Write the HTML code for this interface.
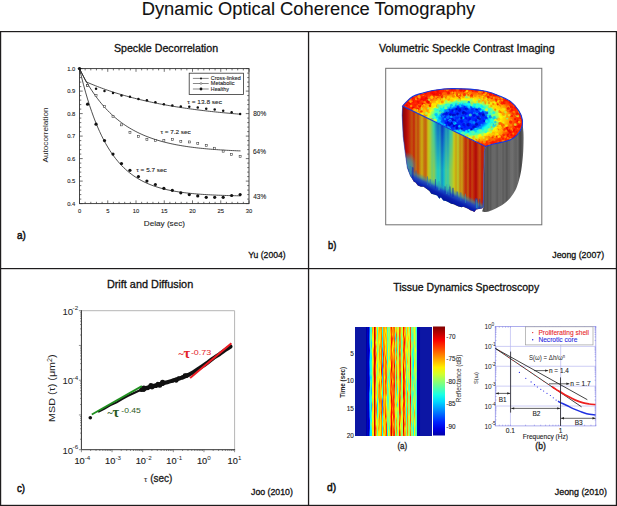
<!DOCTYPE html>
<html><head><meta charset="utf-8"><style>
html,body{margin:0;padding:0;background:#fff;}
svg{display:block;}
text{font-family:"Liberation Sans", sans-serif;}
</style></head><body>
<svg width="617" height="506" viewBox="0 0 617 506">
<rect width="617" height="506" fill="#fff"/>
<rect x="0" y="31" width="617" height="1.2" fill="#1e1c1d"/>
<rect x="0" y="504.8" width="617" height="1.2" fill="#1e1c1d"/>
<rect x="0" y="31" width="1.2" height="475" fill="#1e1c1d"/>
<rect x="615.8" y="31" width="1.2" height="475" fill="#1e1c1d"/>
<rect x="307.9" y="31" width="1.3" height="475" fill="#1e1c1d"/>
<rect x="0" y="268" width="617" height="1.2" fill="#1e1c1d"/>
<text x="141.7" y="14.6" font-size="17.6" text-anchor="start" fill="#111" font-weight="normal" stroke="#111" stroke-width="0.1" textLength="333.6" lengthAdjust="spacingAndGlyphs" >Dynamic Optical Coherence Tomography</text>
<text x="113.9" y="52.2" font-size="11" text-anchor="start" fill="#111" font-weight="normal" stroke="#111" stroke-width="0.3" textLength="104.2" lengthAdjust="spacingAndGlyphs" >Speckle Decorrelation</text>
<text x="378.9" y="51.8" font-size="11" text-anchor="start" fill="#111" font-weight="normal" stroke="#111" stroke-width="0.3" textLength="175.8" lengthAdjust="spacingAndGlyphs" >Volumetric Speckle Contrast Imaging</text>
<text x="106.9" y="288" font-size="11" text-anchor="start" fill="#111" font-weight="normal" stroke="#111" stroke-width="0.3" textLength="86.3" lengthAdjust="spacingAndGlyphs" >Drift and Diffusion</text>
<text x="393.2" y="290.6" font-size="11" text-anchor="start" fill="#111" font-weight="normal" stroke="#111" stroke-width="0.3" textLength="146" lengthAdjust="spacingAndGlyphs" >Tissue Dynamics Spectroscopy</text>
<text x="17" y="239.3" font-size="11" text-anchor="start" fill="#111" font-weight="normal" stroke="#111" stroke-width="0.5" textLength="8.8" lengthAdjust="spacingAndGlyphs" >a)</text>
<text x="328" y="248.9" font-size="11" text-anchor="start" fill="#111" font-weight="normal" stroke="#111" stroke-width="0.5" textLength="8.3" lengthAdjust="spacingAndGlyphs" >b)</text>
<text x="17" y="491.6" font-size="11" text-anchor="start" fill="#111" font-weight="normal" stroke="#111" stroke-width="0.5" textLength="8.1" lengthAdjust="spacingAndGlyphs" >c)</text>
<text x="327.1" y="491.2" font-size="11" text-anchor="start" fill="#111" font-weight="normal" stroke="#111" stroke-width="0.5" textLength="9.1" lengthAdjust="spacingAndGlyphs" >d)</text>
<text x="248.3" y="257.7" font-size="9" text-anchor="start" fill="#111" font-weight="normal" stroke="#111" stroke-width="0.3" textLength="37.3" lengthAdjust="spacingAndGlyphs" >Yu (2004)</text>
<text x="552.3" y="257.5" font-size="9" text-anchor="start" fill="#111" font-weight="normal" stroke="#111" stroke-width="0.3" textLength="51.8" lengthAdjust="spacingAndGlyphs" >Jeong (2007)</text>
<text x="251" y="494.5" font-size="9" text-anchor="start" fill="#111" font-weight="normal" stroke="#111" stroke-width="0.3" textLength="41.9" lengthAdjust="spacingAndGlyphs" >Joo (2010)</text>
<text x="554.8" y="494.5" font-size="9" text-anchor="start" fill="#111" font-weight="normal" stroke="#111" stroke-width="0.3" textLength="52.2" lengthAdjust="spacingAndGlyphs" >Jeong (2010)</text>
<rect x="79.5" y="68.6" width="169.5" height="135.0" fill="none" stroke="#333" stroke-width="0.9"/>
<path d="M79.50,203.6v-3.2M79.50,68.6v3.2M85.15,203.6v-1.8M85.15,68.6v1.8M90.80,203.6v-1.8M90.80,68.6v1.8M96.45,203.6v-1.8M96.45,68.6v1.8M102.10,203.6v-1.8M102.10,68.6v1.8M107.75,203.6v-3.2M107.75,68.6v3.2M113.40,203.6v-1.8M113.40,68.6v1.8M119.05,203.6v-1.8M119.05,68.6v1.8M124.70,203.6v-1.8M124.70,68.6v1.8M130.35,203.6v-1.8M130.35,68.6v1.8M136.00,203.6v-3.2M136.00,68.6v3.2M141.65,203.6v-1.8M141.65,68.6v1.8M147.30,203.6v-1.8M147.30,68.6v1.8M152.95,203.6v-1.8M152.95,68.6v1.8M158.60,203.6v-1.8M158.60,68.6v1.8M164.25,203.6v-3.2M164.25,68.6v3.2M169.90,203.6v-1.8M169.90,68.6v1.8M175.55,203.6v-1.8M175.55,68.6v1.8M181.20,203.6v-1.8M181.20,68.6v1.8M186.85,203.6v-1.8M186.85,68.6v1.8M192.50,203.6v-3.2M192.50,68.6v3.2M198.15,203.6v-1.8M198.15,68.6v1.8M203.80,203.6v-1.8M203.80,68.6v1.8M209.45,203.6v-1.8M209.45,68.6v1.8M215.10,203.6v-1.8M215.10,68.6v1.8M220.75,203.6v-3.2M220.75,68.6v3.2M226.40,203.6v-1.8M226.40,68.6v1.8M232.05,203.6v-1.8M232.05,68.6v1.8M237.70,203.6v-1.8M237.70,68.6v1.8M243.35,203.6v-1.8M243.35,68.6v1.8M249.00,203.6v-3.2M249.00,68.6v3.2M79.5,203.60h3.2M249.0,203.60h-3.2M79.5,199.10h1.8M249.0,199.10h-1.8M79.5,194.60h1.8M249.0,194.60h-1.8M79.5,190.10h1.8M249.0,190.10h-1.8M79.5,185.60h1.8M249.0,185.60h-1.8M79.5,181.10h3.2M249.0,181.10h-3.2M79.5,176.60h1.8M249.0,176.60h-1.8M79.5,172.10h1.8M249.0,172.10h-1.8M79.5,167.60h1.8M249.0,167.60h-1.8M79.5,163.10h1.8M249.0,163.10h-1.8M79.5,158.60h3.2M249.0,158.60h-3.2M79.5,154.10h1.8M249.0,154.10h-1.8M79.5,149.60h1.8M249.0,149.60h-1.8M79.5,145.10h1.8M249.0,145.10h-1.8M79.5,140.60h1.8M249.0,140.60h-1.8M79.5,136.10h3.2M249.0,136.10h-3.2M79.5,131.60h1.8M249.0,131.60h-1.8M79.5,127.10h1.8M249.0,127.10h-1.8M79.5,122.60h1.8M249.0,122.60h-1.8M79.5,118.10h1.8M249.0,118.10h-1.8M79.5,113.60h3.2M249.0,113.60h-3.2M79.5,109.10h1.8M249.0,109.10h-1.8M79.5,104.60h1.8M249.0,104.60h-1.8M79.5,100.10h1.8M249.0,100.10h-1.8M79.5,95.60h1.8M249.0,95.60h-1.8M79.5,91.10h3.2M249.0,91.10h-3.2M79.5,86.60h1.8M249.0,86.60h-1.8M79.5,82.10h1.8M249.0,82.10h-1.8M79.5,77.60h1.8M249.0,77.60h-1.8M79.5,73.10h1.8M249.0,73.10h-1.8M79.5,68.60h3.2M249.0,68.60h-3.2" stroke="#333" stroke-width="0.7" fill="none"/>
<text x="75.2" y="205.7" font-size="5.8" text-anchor="end" fill="#222" font-weight="normal" stroke="#222" stroke-width="0.1" >0.4</text>
<text x="75.2" y="183.2" font-size="5.8" text-anchor="end" fill="#222" font-weight="normal" stroke="#222" stroke-width="0.1" >0.5</text>
<text x="75.2" y="160.69999999999996" font-size="5.8" text-anchor="end" fill="#222" font-weight="normal" stroke="#222" stroke-width="0.1" >0.6</text>
<text x="75.2" y="138.19999999999996" font-size="5.8" text-anchor="end" fill="#222" font-weight="normal" stroke="#222" stroke-width="0.1" >0.7</text>
<text x="75.2" y="115.69999999999999" font-size="5.8" text-anchor="end" fill="#222" font-weight="normal" stroke="#222" stroke-width="0.1" >0.8</text>
<text x="75.2" y="93.19999999999999" font-size="5.8" text-anchor="end" fill="#222" font-weight="normal" stroke="#222" stroke-width="0.1" >0.9</text>
<text x="75.2" y="70.69999999999999" font-size="5.8" text-anchor="end" fill="#222" font-weight="normal" stroke="#222" stroke-width="0.1" >1.0</text>
<text x="79.5" y="212.8" font-size="5.8" text-anchor="middle" fill="#222" font-weight="normal" stroke="#222" stroke-width="0.1" >0</text>
<text x="107.75" y="212.8" font-size="5.8" text-anchor="middle" fill="#222" font-weight="normal" stroke="#222" stroke-width="0.1" >5</text>
<text x="136.0" y="212.8" font-size="5.8" text-anchor="middle" fill="#222" font-weight="normal" stroke="#222" stroke-width="0.1" >10</text>
<text x="164.25" y="212.8" font-size="5.8" text-anchor="middle" fill="#222" font-weight="normal" stroke="#222" stroke-width="0.1" >15</text>
<text x="192.5" y="212.8" font-size="5.8" text-anchor="middle" fill="#222" font-weight="normal" stroke="#222" stroke-width="0.1" >20</text>
<text x="220.75" y="212.8" font-size="5.8" text-anchor="middle" fill="#222" font-weight="normal" stroke="#222" stroke-width="0.1" >25</text>
<text x="249.0" y="212.8" font-size="5.8" text-anchor="middle" fill="#222" font-weight="normal" stroke="#222" stroke-width="0.1" >30</text>
<text x="143.8" y="226" font-size="8" text-anchor="start" fill="#222" font-weight="normal" stroke="#222" stroke-width="0.1" textLength="41.2" lengthAdjust="spacingAndGlyphs" >Delay (sec)</text>
<text x="0" y="0" font-size="8" fill="#222" text-anchor="middle" textLength="55" lengthAdjust="spacingAndGlyphs" transform="translate(48.3,135) rotate(-90)">Autocorrelation</text>
<path d="M79.5,68.6L86.11,81.86L88.04,82.69L89.97,83.51L91.90,84.31L93.83,85.09L95.76,85.86L97.69,86.61L99.62,87.35L101.55,88.07L103.48,88.77L105.41,89.46L107.34,90.13L109.27,90.79L111.20,91.44L113.13,92.07L115.06,92.69L116.99,93.30L118.92,93.89L120.85,94.47L122.78,95.04L124.71,95.60L126.64,96.14L128.57,96.67L130.50,97.20L132.43,97.71L134.37,98.21L136.30,98.70L138.23,99.18L140.16,99.65L142.09,100.10L144.02,100.55L145.95,100.99L147.88,101.43L149.81,101.85L151.74,102.26L153.67,102.66L155.60,103.06L157.53,103.45L159.46,103.83L161.39,104.20L163.32,104.56L165.25,104.91L167.18,105.26L169.11,105.60L171.04,105.94L172.97,106.26L174.90,106.58L176.83,106.90L178.76,107.20L180.69,107.50L182.62,107.79L184.55,108.08L186.48,108.36L188.41,108.64L190.34,108.91L192.27,109.17L194.20,109.43L196.13,109.68L198.06,109.93L199.99,110.17L201.92,110.41L203.85,110.64L205.78,110.87L207.71,111.09L209.64,111.31L211.57,111.52L213.50,111.73L215.43,111.93L217.36,112.13L219.29,112.33L221.22,112.52L223.15,112.71L225.08,112.89L227.01,113.07L228.94,113.24L230.87,113.42L232.80,113.58L234.73,113.75L236.66,113.91L238.59,114.07L240.52,114.22" stroke="#222" stroke-width="0.8" fill="none"/>
<path d="M79.5,68.6L79.50,68.60L81.51,72.65L83.53,76.51L85.54,80.18L87.55,83.67L89.56,86.99L91.58,90.16L93.59,93.17L95.60,96.03L97.62,98.76L99.63,101.36L101.64,103.83L103.65,106.18L105.67,108.41L107.68,110.54L109.69,112.57L111.70,114.50L113.72,116.34L115.73,118.08L117.74,119.74L119.76,121.33L121.77,122.83L123.78,124.27L125.79,125.63L127.81,126.93L129.82,128.16L131.83,129.34L133.85,130.46L135.86,131.53L137.87,132.54L139.88,133.50L141.90,134.42L143.91,135.30L145.92,136.13L147.94,136.92L149.95,137.67L151.96,138.39L153.97,139.07L155.99,139.72L158.00,140.34L160.01,140.93L162.03,141.49L164.04,142.02L166.05,142.53L168.06,143.01L170.08,143.47L172.09,143.91L174.10,144.32L176.12,144.72L178.13,145.10L180.14,145.45L182.15,145.80L184.17,146.12L186.18,146.43L188.19,146.72L190.20,147.00L192.22,147.27L194.23,147.52L196.24,147.77L198.26,148.00L200.27,148.21L202.28,148.42L204.29,148.62L206.31,148.81L208.32,148.99L210.33,149.16L212.35,149.32L214.36,149.48L216.37,149.62L218.38,149.76L220.40,149.90L222.41,150.02L224.42,150.14L226.44,150.26L228.45,150.37L230.46,150.47L232.47,150.57L234.49,150.67L236.50,150.76L238.51,150.84L240.53,150.92" stroke="#222" stroke-width="0.8" fill="none"/>
<path d="M79.5,68.6L79.50,68.60L81.51,76.98L83.53,84.82L85.54,92.14L87.55,98.98L89.56,105.37L91.58,111.34L93.59,116.92L95.60,122.14L97.62,127.01L99.63,131.56L101.64,135.82L103.65,139.79L105.67,143.50L107.68,146.97L109.69,150.22L111.70,153.25L113.72,156.08L115.73,158.72L117.74,161.20L119.76,163.50L121.77,165.66L123.78,167.68L125.79,169.56L127.81,171.32L129.82,172.97L131.83,174.51L133.85,175.94L135.86,177.29L137.87,178.54L139.88,179.71L141.90,180.81L143.91,181.83L145.92,182.78L147.94,183.68L149.95,184.51L151.96,185.29L153.97,186.02L155.99,186.70L158.00,187.34L160.01,187.93L162.03,188.49L164.04,189.01L166.05,189.49L168.06,189.95L170.08,190.37L172.09,190.76L174.10,191.13L176.12,191.48L178.13,191.80L180.14,192.10L182.15,192.39L184.17,192.65L186.18,192.90L188.19,193.13L190.20,193.34L192.22,193.54L194.23,193.73L196.24,193.90L198.26,194.07L200.27,194.22L202.28,194.36L204.29,194.50L206.31,194.62L208.32,194.74L210.33,194.85L212.35,194.95L214.36,195.04L216.37,195.13L218.38,195.22L220.40,195.29L222.41,195.37L224.42,195.43L226.44,195.50L228.45,195.56L230.46,195.61L232.47,195.66L234.49,195.71L236.50,195.76L238.51,195.80L240.53,195.84" stroke="#222" stroke-width="0.8" fill="none"/>
<circle cx="87.58" cy="85.47" r="1.25" fill="#111"/><circle cx="96.05" cy="88.85" r="1.25" fill="#111"/><circle cx="104.53" cy="91.10" r="1.25" fill="#111"/><circle cx="113.00" cy="92.90" r="1.25" fill="#111"/><circle cx="121.48" cy="95.60" r="1.25" fill="#111"/><circle cx="129.95" cy="96.72" r="1.25" fill="#111"/><circle cx="138.43" cy="98.97" r="1.25" fill="#111"/><circle cx="146.90" cy="100.33" r="1.25" fill="#111"/><circle cx="155.38" cy="102.35" r="1.25" fill="#111"/><circle cx="163.85" cy="104.15" r="1.25" fill="#111"/><circle cx="172.33" cy="105.50" r="1.25" fill="#111"/><circle cx="180.80" cy="106.40" r="1.25" fill="#111"/><circle cx="189.28" cy="106.85" r="1.25" fill="#111"/><circle cx="197.75" cy="107.53" r="1.25" fill="#111"/><circle cx="206.23" cy="108.65" r="1.25" fill="#111"/><circle cx="214.70" cy="109.55" r="1.25" fill="#111"/><circle cx="223.18" cy="110.68" r="1.25" fill="#111"/><circle cx="231.65" cy="112.25" r="1.25" fill="#111"/><circle cx="240.13" cy="114.05" r="1.25" fill="#111"/><rect x="86.58" y="84.47" width="2.0" height="2.0" fill="#fff" stroke="#333" stroke-width="0.55"/><rect x="95.05" y="94.60" width="2.0" height="2.0" fill="#fff" stroke="#333" stroke-width="0.55"/><rect x="103.53" y="105.40" width="2.0" height="2.0" fill="#fff" stroke="#333" stroke-width="0.55"/><rect x="112.00" y="115.30" width="2.0" height="2.0" fill="#fff" stroke="#333" stroke-width="0.55"/><rect x="120.48" y="123.85" width="2.0" height="2.0" fill="#fff" stroke="#333" stroke-width="0.55"/><rect x="128.95" y="131.28" width="2.0" height="2.0" fill="#fff" stroke="#333" stroke-width="0.55"/><rect x="137.43" y="135.55" width="2.0" height="2.0" fill="#fff" stroke="#333" stroke-width="0.55"/><rect x="145.90" y="138.47" width="2.0" height="2.0" fill="#fff" stroke="#333" stroke-width="0.55"/><rect x="154.38" y="139.60" width="2.0" height="2.0" fill="#fff" stroke="#333" stroke-width="0.55"/><rect x="162.85" y="139.60" width="2.0" height="2.0" fill="#fff" stroke="#333" stroke-width="0.55"/><rect x="171.33" y="138.70" width="2.0" height="2.0" fill="#fff" stroke="#333" stroke-width="0.55"/><rect x="179.80" y="140.50" width="2.0" height="2.0" fill="#fff" stroke="#333" stroke-width="0.55"/><rect x="188.28" y="140.95" width="2.0" height="2.0" fill="#fff" stroke="#333" stroke-width="0.55"/><rect x="196.75" y="142.30" width="2.0" height="2.0" fill="#fff" stroke="#333" stroke-width="0.55"/><rect x="205.23" y="144.55" width="2.0" height="2.0" fill="#fff" stroke="#333" stroke-width="0.55"/><rect x="213.70" y="147.25" width="2.0" height="2.0" fill="#fff" stroke="#333" stroke-width="0.55"/><rect x="222.18" y="150.18" width="2.0" height="2.0" fill="#fff" stroke="#333" stroke-width="0.55"/><rect x="230.65" y="153.32" width="2.0" height="2.0" fill="#fff" stroke="#333" stroke-width="0.55"/><rect x="239.13" y="155.57" width="2.0" height="2.0" fill="#fff" stroke="#333" stroke-width="0.55"/><circle cx="87.58" cy="104.15" r="1.6" fill="#111"/><circle cx="96.05" cy="124.17" r="1.6" fill="#111"/><circle cx="104.53" cy="140.60" r="1.6" fill="#111"/><circle cx="113.00" cy="154.10" r="1.6" fill="#111"/><circle cx="121.48" cy="163.55" r="1.6" fill="#111"/><circle cx="129.95" cy="170.30" r="1.6" fill="#111"/><circle cx="138.43" cy="176.60" r="1.6" fill="#111"/><circle cx="146.90" cy="181.10" r="1.6" fill="#111"/><circle cx="155.38" cy="184.48" r="1.6" fill="#111"/><circle cx="163.85" cy="188.30" r="1.6" fill="#111"/><circle cx="172.33" cy="190.32" r="1.6" fill="#111"/><circle cx="180.80" cy="192.80" r="1.6" fill="#111"/><circle cx="189.28" cy="194.60" r="1.6" fill="#111"/><circle cx="197.75" cy="195.95" r="1.6" fill="#111"/><circle cx="206.23" cy="197.30" r="1.6" fill="#111"/><circle cx="214.70" cy="197.30" r="1.6" fill="#111"/><circle cx="223.18" cy="197.30" r="1.6" fill="#111"/><circle cx="231.65" cy="195.50" r="1.6" fill="#111"/><circle cx="240.13" cy="194.60" r="1.6" fill="#111"/><circle cx="79.5" cy="68.6" r="1.7" fill="#111"/>
<rect x="189.2" y="73.2" width="54.3" height="21.2" fill="#fff" stroke="#333" stroke-width="0.8"/>
<path d="M192.9,78.4H208.7" stroke="#555" stroke-width="0.7"/>
<circle cx="201" cy="78.4" r="1.0" fill="#111"/>
<path d="M192.9,83.5H208.7" stroke="#555" stroke-width="0.7"/>
<circle cx="201" cy="83.5" r="0.9" fill="#fff" stroke="#333" stroke-width="0.5"/>
<path d="M192.9,89H208.7" stroke="#555" stroke-width="0.7"/>
<circle cx="201" cy="89" r="1.4" fill="#111"/>
<text x="210.8" y="80.2" font-size="5.4" text-anchor="start" fill="#222" font-weight="normal" stroke="#222" stroke-width="0.1" textLength="30" lengthAdjust="spacingAndGlyphs" >Cross-linked</text>
<text x="210.8" y="85.3" font-size="5.4" text-anchor="start" fill="#222" font-weight="normal" stroke="#222" stroke-width="0.1" textLength="23.7" lengthAdjust="spacingAndGlyphs" >Metabolic</text>
<text x="210.8" y="90.6" font-size="5.4" text-anchor="start" fill="#222" font-weight="normal" stroke="#222" stroke-width="0.1" textLength="18" lengthAdjust="spacingAndGlyphs" >Healthy</text>
<text x="187.3" y="103.5" font-size="6" text-anchor="start" fill="#222" font-weight="normal" stroke="#222" stroke-width="0.1" textLength="34.7" lengthAdjust="spacingAndGlyphs" >&#964; = 13.8 sec</text>
<text x="160.4" y="133.8" font-size="6" text-anchor="start" fill="#222" font-weight="normal" stroke="#222" stroke-width="0.1" textLength="30.4" lengthAdjust="spacingAndGlyphs" >&#964; = 7.2 sec</text>
<text x="136.3" y="172" font-size="6" text-anchor="start" fill="#222" font-weight="normal" stroke="#222" stroke-width="0.1" textLength="30.5" lengthAdjust="spacingAndGlyphs" >&#964; = 5.7 sec</text>
<text x="253.2" y="116.2" font-size="6.6" text-anchor="start" fill="#222" font-weight="normal" stroke="#222" stroke-width="0.1" textLength="13" lengthAdjust="spacingAndGlyphs" >80%</text>
<text x="253.0" y="153.6" font-size="6.6" text-anchor="start" fill="#222" font-weight="normal" stroke="#222" stroke-width="0.1" textLength="13" lengthAdjust="spacingAndGlyphs" >64%</text>
<text x="253.2" y="199.1" font-size="6.6" text-anchor="start" fill="#222" font-weight="normal" stroke="#222" stroke-width="0.1" textLength="13" lengthAdjust="spacingAndGlyphs" >43%</text>
<path d="M81.4,310.7H234.6V449.7" stroke="#b5b5b5" stroke-width="1" fill="none"/>
<path d="M81.4,310.2V449.7H235.1" stroke="#333" stroke-width="1" fill="none"/>
<path d="M81.40,449.7v2.5M90.62,449.7v1.3M96.02,449.7v1.3M99.85,449.7v1.3M102.82,449.7v1.3M105.24,449.7v1.3M107.29,449.7v1.3M109.07,449.7v1.3M110.64,449.7v1.3M112.04,449.7v2.5M121.26,449.7v1.3M126.66,449.7v1.3M130.49,449.7v1.3M133.46,449.7v1.3M135.88,449.7v1.3M137.93,449.7v1.3M139.71,449.7v1.3M141.28,449.7v1.3M142.68,449.7v2.5M151.90,449.7v1.3M157.30,449.7v1.3M161.13,449.7v1.3M164.10,449.7v1.3M166.52,449.7v1.3M168.57,449.7v1.3M170.35,449.7v1.3M171.92,449.7v1.3M173.32,449.7v2.5M182.54,449.7v1.3M187.94,449.7v1.3M191.77,449.7v1.3M194.74,449.7v1.3M197.16,449.7v1.3M199.21,449.7v1.3M200.99,449.7v1.3M202.56,449.7v1.3M203.96,449.7v2.5M213.18,449.7v1.3M218.58,449.7v1.3M222.41,449.7v1.3M225.38,449.7v1.3M227.80,449.7v1.3M229.85,449.7v1.3M231.63,449.7v1.3M233.20,449.7v1.3M234.60,449.7v2.5M81.4,449.70h-2.5M81.4,439.24h-1.3M81.4,433.12h-1.3M81.4,428.78h-1.3M81.4,425.41h-1.3M81.4,422.66h-1.3M81.4,420.33h-1.3M81.4,418.32h-1.3M81.4,416.54h-1.3M81.4,414.95h-2.5M81.4,404.49h-1.3M81.4,398.37h-1.3M81.4,394.03h-1.3M81.4,390.66h-1.3M81.4,387.91h-1.3M81.4,385.58h-1.3M81.4,383.57h-1.3M81.4,381.79h-1.3M81.4,380.20h-2.5M81.4,369.74h-1.3M81.4,363.62h-1.3M81.4,359.28h-1.3M81.4,355.91h-1.3M81.4,353.16h-1.3M81.4,350.83h-1.3M81.4,348.82h-1.3M81.4,347.04h-1.3M81.4,345.45h-2.5M81.4,334.99h-1.3M81.4,328.87h-1.3M81.4,324.53h-1.3M81.4,321.16h-1.3M81.4,318.41h-1.3M81.4,316.08h-1.3M81.4,314.07h-1.3M81.4,312.29h-1.3M81.4,310.70h-2.5" stroke="#444" stroke-width="0.6" fill="none"/>
<text x="74.40" y="464.3" font-size="9.6" fill="#222" stroke="#222" stroke-width="0.15" textLength="10.3" lengthAdjust="spacingAndGlyphs">10</text>
<text x="84.80" y="459.8" font-size="6.2" fill="#222">-4</text>
<text x="105.04" y="464.3" font-size="9.6" fill="#222" stroke="#222" stroke-width="0.15" textLength="10.3" lengthAdjust="spacingAndGlyphs">10</text>
<text x="115.44" y="459.8" font-size="6.2" fill="#222">-3</text>
<text x="135.68" y="464.3" font-size="9.6" fill="#222" stroke="#222" stroke-width="0.15" textLength="10.3" lengthAdjust="spacingAndGlyphs">10</text>
<text x="146.08" y="459.8" font-size="6.2" fill="#222">-2</text>
<text x="166.32" y="464.3" font-size="9.6" fill="#222" stroke="#222" stroke-width="0.15" textLength="10.3" lengthAdjust="spacingAndGlyphs">10</text>
<text x="176.72" y="459.8" font-size="6.2" fill="#222">-1</text>
<text x="196.96" y="464.3" font-size="9.6" fill="#222" stroke="#222" stroke-width="0.15" textLength="10.3" lengthAdjust="spacingAndGlyphs">10</text>
<text x="207.36" y="459.8" font-size="6.2" fill="#222">0</text>
<text x="227.60" y="464.3" font-size="9.6" fill="#222" stroke="#222" stroke-width="0.15" textLength="10.3" lengthAdjust="spacingAndGlyphs">10</text>
<text x="238.00" y="459.8" font-size="6.2" fill="#222">1</text>
<text x="62.5" y="314.50" font-size="9.6" fill="#222">10</text>
<text x="72.6" y="310.10" font-size="6.2" fill="#222">-2</text>
<text x="62.5" y="384.00" font-size="9.6" fill="#222">10</text>
<text x="72.6" y="379.60" font-size="6.2" fill="#222">-4</text>
<text x="62.5" y="453.50" font-size="9.6" fill="#222">10</text>
<text x="72.6" y="449.10" font-size="6.2" fill="#222">-6</text>
<text x="0" y="0" font-size="9.8" fill="#222" textLength="67.5" lengthAdjust="spacingAndGlyphs" transform="translate(55.1,421.9) rotate(-90)">MSD (&#964;) (&#956;m<tspan dy="-3.5" font-size="6.5">2</tspan><tspan dy="3.5">)</tspan></text>
<text x="144.1" y="482.3" font-size="8" text-anchor="start" fill="#333" font-weight="normal" stroke="#333" stroke-width="0.1" >&#964;</text>
<text x="150.2" y="482.3" font-size="10.3" text-anchor="start" fill="#222" font-weight="normal" stroke="#222" stroke-width="0.3" textLength="22.1" lengthAdjust="spacingAndGlyphs" >(sec)</text>
<path d="M141.50,389.60C142.58,389.23 145.85,388.03 148.00,387.40C150.15,386.77 152.25,386.40 154.40,385.80C156.55,385.20 158.73,384.40 160.90,383.80C163.07,383.20 165.23,382.80 167.40,382.20C169.57,381.60 171.73,380.87 173.90,380.20C176.07,379.53 178.23,378.97 180.40,378.20C182.57,377.43 184.75,376.60 186.90,375.60C189.05,374.60 191.15,373.48 193.30,372.20C195.45,370.92 197.63,369.35 199.80,367.90C201.97,366.45 204.13,365.05 206.30,363.50C208.47,361.95 210.63,360.13 212.80,358.60C214.97,357.07 217.13,355.78 219.30,354.30C221.47,352.82 223.92,351.00 225.80,349.70C227.68,348.40 229.80,347.03 230.60,346.50" stroke="#111" stroke-width="4.0" fill="none" stroke-linecap="round" stroke-linejoin="round"/>
<circle cx="156.4" cy="385.6" r="2.3" fill="#111"/><circle cx="185.0" cy="375.7" r="2.4" fill="#111"/><circle cx="188.0" cy="375.0" r="2.0" fill="#111"/><circle cx="141.8" cy="389.2" r="2.3" fill="#111"/><circle cx="147.8" cy="388.2" r="2.0" fill="#111"/><circle cx="162.6" cy="382.3" r="2.6" fill="#111"/><circle cx="144.6" cy="388.1" r="2.2" fill="#111"/><circle cx="152.0" cy="387.5" r="2.1" fill="#111"/><circle cx="155.5" cy="386.2" r="1.9" fill="#111"/><circle cx="182.6" cy="377.4" r="2.1" fill="#111"/><circle cx="185.5" cy="375.4" r="1.8" fill="#111"/><circle cx="162.8" cy="384.0" r="2.0" fill="#111"/><circle cx="152.6" cy="386.2" r="2.5" fill="#111"/><circle cx="159.7" cy="385.2" r="2.5" fill="#111"/><circle cx="178.7" cy="378.4" r="2.2" fill="#111"/><circle cx="176.5" cy="380.6" r="2.1" fill="#111"/><circle cx="143.9" cy="387.8" r="2.4" fill="#111"/><circle cx="186.5" cy="375.7" r="2.2" fill="#111"/><circle cx="161.6" cy="383.9" r="2.2" fill="#111"/><circle cx="157.8" cy="383.9" r="2.1" fill="#111"/><circle cx="172.9" cy="380.7" r="2.0" fill="#111"/><circle cx="150.9" cy="385.6" r="2.5" fill="#111"/><circle cx="175.5" cy="380.1" r="2.3" fill="#111"/>
<path d="M98.7,411.4L105,408.2L110,405.3L116.6,402.4L122,399L128,395.8L134,393L139.8,390.3L144,390.8L148.2,387.6" stroke="#111" stroke-width="2.2" fill="none" stroke-linecap="round"/>
<path d="M91.8,414.5L141.9,386.1" stroke="#1f8f1f" stroke-width="1.8" fill="none"/>
<path d="M190.1,378.1L231.4,343.2" stroke="#ec1c24" stroke-width="2" fill="none"/>
<circle cx="90.3" cy="417.7" r="1.8" fill="#111"/>
<text x="107.5" y="415.6" font-size="10" font-weight="bold" fill="#2a5a22" style="font-family:'Liberation Serif',serif">~</text><text x="112.6" y="417" font-size="14.5" font-weight="bold" fill="#2a5a22" style="font-family:'Liberation Serif',serif">&#964;</text><text x="121.3" y="413.4" font-size="8" fill="#2a5a22" textLength="19.5" lengthAdjust="spacingAndGlyphs">-0.45</text>
<text x="178.6" y="356.6" font-size="10" font-weight="bold" fill="#e3242b" style="font-family:'Liberation Serif',serif">~</text><text x="183.5" y="358" font-size="14.5" font-weight="bold" fill="#e3242b" style="font-family:'Liberation Serif',serif">&#964;</text><text x="190.9" y="355.3" font-size="8" fill="#e3242b" textLength="20.3" lengthAdjust="spacingAndGlyphs">-0.73</text>
<rect x="385.7" y="68.3" width="156.1" height="156.5" fill="#fff" stroke="#6f6f6f" stroke-width="1"/>
<defs>
<clipPath id="cTop"><path d="M402.60,106.00C403.23,105.30 404.72,103.37 406.40,101.80C408.08,100.23 410.25,98.00 412.70,96.60C415.15,95.20 417.97,94.38 421.10,93.40C424.23,92.42 428.02,91.40 431.50,90.70C434.98,90.00 438.63,89.55 442.00,89.20C445.37,88.85 447.05,88.62 451.70,88.60C456.35,88.58 464.22,88.65 469.90,89.10C475.58,89.55 480.88,90.17 485.80,91.30C490.72,92.43 495.25,94.18 499.40,95.90C503.55,97.62 507.48,99.15 510.70,101.60C513.92,104.05 516.77,107.58 518.70,110.60C520.63,113.62 521.83,116.80 522.30,119.70C522.77,122.60 522.38,125.45 521.50,128.00C520.62,130.55 518.75,133.08 517.00,135.00C515.25,136.92 513.02,138.42 511.00,139.50C508.98,140.58 507.63,140.78 504.90,141.50C502.17,142.22 497.83,142.97 494.60,143.80C491.37,144.63 487.02,146.05 485.50,146.50Z"/></clipPath>
<clipPath id="cFront"><path d="M485.50,146.50L484.40,152.00L483.80,175.00L483.40,207.40L482.00,208.61L478.87,209.09L476.20,209.52L474.35,211.90L472.58,210.97L470.35,210.21L468.06,208.69L465.16,207.42L463.34,206.79L461.46,207.33L458.44,206.48L456.83,205.75L453.65,204.19L451.13,203.75L448.54,202.29L445.90,201.04L443.33,200.51L440.88,197.36L439.37,198.72L437.09,195.52L433.98,194.55L431.27,193.63L429.36,191.09L426.38,188.66L423.60,186.79L420.96,186.76L417.85,185.60L415.54,182.54L413.87,181.67L410.60,176.20L410.60,176.20L407.40,167.90L405.30,153.20L403.20,136.40L402.20,115.40L402.60,106.00Z"/></clipPath>
<clipPath id="cSide"><path d="M485.50,146.50C487.02,146.05 491.37,144.63 494.60,143.80C497.83,142.97 502.17,142.22 504.90,141.50C507.63,140.78 508.98,140.58 511.00,139.50C513.02,138.42 515.25,136.92 517.00,135.00C518.75,133.08 520.62,130.55 521.50,128.00C522.38,125.45 522.17,121.08 522.30,119.70L522.30,119.70C522.48,121.75 523.20,128.28 523.40,132.00C523.60,135.72 523.57,138.17 523.50,142.00C523.43,145.83 523.37,150.33 523.00,155.00C522.63,159.67 522.05,165.50 521.30,170.00C520.55,174.50 519.47,178.67 518.50,182.00C517.53,185.33 516.75,187.50 515.50,190.00C514.25,192.50 512.75,194.83 511.00,197.00C509.25,199.17 507.07,201.33 505.00,203.00C502.93,204.67 500.77,205.80 498.60,207.00C496.43,208.20 494.10,209.37 492.00,210.20C489.90,211.03 487.65,211.78 486.00,212.00C484.35,212.22 482.75,211.58 482.10,211.50L483.4,207.4L484.4,152Z"/></clipPath>
<linearGradient id="gFront" gradientUnits="userSpaceOnUse" x1="402.0" y1="0" x2="485.5" y2="0"><stop offset="0.0060" stop-color="#860707"/><stop offset="0.0240" stop-color="#950808"/><stop offset="0.0479" stop-color="#ad0909"/><stop offset="0.0719" stop-color="#c1160b"/><stop offset="0.0958" stop-color="#c3350d"/><stop offset="0.1198" stop-color="#c4530e"/><stop offset="0.1437" stop-color="#c2250c"/><stop offset="0.1677" stop-color="#c67210"/><stop offset="0.1916" stop-color="#c3440d"/><stop offset="0.2156" stop-color="#c78211"/><stop offset="0.2395" stop-color="#c9b013"/><stop offset="0.2635" stop-color="#c67210"/><stop offset="0.2874" stop-color="#c5630f"/><stop offset="0.3114" stop-color="#cabf14"/><stop offset="0.3353" stop-color="#aacb35"/><stop offset="0.3593" stop-color="#70cb70"/><stop offset="0.3832" stop-color="#8dcb52"/><stop offset="0.4072" stop-color="#44cb9b"/><stop offset="0.4311" stop-color="#18cbc7"/><stop offset="0.4551" stop-color="#35cbaa"/><stop offset="0.4790" stop-color="#1291c8"/><stop offset="0.5030" stop-color="#14bfca"/><stop offset="0.5269" stop-color="#52cb8d"/><stop offset="0.5509" stop-color="#35cbaa"/><stop offset="0.5749" stop-color="#7ecb61"/><stop offset="0.5988" stop-color="#9bcb44"/><stop offset="0.6228" stop-color="#c7cb18"/><stop offset="0.6467" stop-color="#c9a013"/><stop offset="0.6707" stop-color="#b8cb27"/><stop offset="0.6946" stop-color="#c78211"/><stop offset="0.7186" stop-color="#c9a013"/><stop offset="0.7425" stop-color="#c4530e"/><stop offset="0.7665" stop-color="#c2250c"/><stop offset="0.7904" stop-color="#c5630f"/><stop offset="0.8144" stop-color="#bc0a0a"/><stop offset="0.8383" stop-color="#c3440d"/><stop offset="0.8623" stop-color="#c11d0b"/><stop offset="0.8862" stop-color="#ad0909"/><stop offset="0.9102" stop-color="#c3350d"/><stop offset="0.9341" stop-color="#c4530e"/><stop offset="0.9581" stop-color="#c1160b"/><stop offset="0.9880" stop-color="#c3440d"/></linearGradient>
<linearGradient id="gFront2" gradientUnits="userSpaceOnUse" x1="402.0" y1="0" x2="485.5" y2="0"><stop offset="0.0060" stop-color="#860707"/><stop offset="0.0240" stop-color="#950808"/><stop offset="0.0479" stop-color="#ad0909"/><stop offset="0.0719" stop-color="#c1160b"/><stop offset="0.0958" stop-color="#c3350d"/><stop offset="0.1198" stop-color="#c4530e"/><stop offset="0.1437" stop-color="#c2250c"/><stop offset="0.1677" stop-color="#c67210"/><stop offset="0.1916" stop-color="#c3440d"/><stop offset="0.2156" stop-color="#c78211"/><stop offset="0.2395" stop-color="#c9b013"/><stop offset="0.2635" stop-color="#c67210"/><stop offset="0.2874" stop-color="#c5630f"/><stop offset="0.3114" stop-color="#cabf14"/><stop offset="0.3353" stop-color="#aacb35"/><stop offset="0.3593" stop-color="#70cb70"/><stop offset="0.3832" stop-color="#18cbc7"/><stop offset="0.4072" stop-color="#1182c7"/><stop offset="0.4311" stop-color="#0e53c4"/><stop offset="0.4551" stop-color="#1072c6"/><stop offset="0.4790" stop-color="#0b16c1"/><stop offset="0.5030" stop-color="#0d44c3"/><stop offset="0.5269" stop-color="#1291c8"/><stop offset="0.5509" stop-color="#1072c6"/><stop offset="0.5749" stop-color="#14bfca"/><stop offset="0.5988" stop-color="#27cbb8"/><stop offset="0.6228" stop-color="#c7cb18"/><stop offset="0.6467" stop-color="#c9a013"/><stop offset="0.6707" stop-color="#b8cb27"/><stop offset="0.6946" stop-color="#c78211"/><stop offset="0.7186" stop-color="#c9a013"/><stop offset="0.7425" stop-color="#c4530e"/><stop offset="0.7665" stop-color="#c2250c"/><stop offset="0.7904" stop-color="#c5630f"/><stop offset="0.8144" stop-color="#bc0a0a"/><stop offset="0.8383" stop-color="#c3440d"/><stop offset="0.8623" stop-color="#c11d0b"/><stop offset="0.8862" stop-color="#ad0909"/><stop offset="0.9102" stop-color="#c3350d"/><stop offset="0.9341" stop-color="#c4530e"/><stop offset="0.9581" stop-color="#c1160b"/><stop offset="0.9880" stop-color="#c3440d"/></linearGradient>
<linearGradient id="gBand" gradientUnits="userSpaceOnUse" x1="448.55" y1="186.57" x2="441.75" y2="201.05"><stop offset="0" stop-color="#2090b0" stop-opacity="0"/><stop offset="0.19" stop-color="#2898b0" stop-opacity="0.55"/><stop offset="0.375" stop-color="#1848c8" stop-opacity="0.92"/><stop offset="0.625" stop-color="#0a20b0"/><stop offset="1" stop-color="#000c90"/></linearGradient>
<linearGradient id="gUp" gradientUnits="userSpaceOnUse" x1="0" y1="115" x2="0" y2="170"><stop offset="0" stop-color="#fff" stop-opacity="1"/><stop offset="1" stop-color="#fff" stop-opacity="0"/></linearGradient>
<mask id="mUp"><rect x="380" y="60" width="160" height="160" fill="url(#gUp)"/></mask>
<radialGradient id="gCy" gradientUnits="userSpaceOnUse" cx="407" cy="166" r="14" gradientTransform="translate(407,166) scale(0.7,1) translate(-407,-166)"><stop offset="0" stop-color="#2898c0" stop-opacity="0.95"/><stop offset="0.5" stop-color="#30a0b8" stop-opacity="0.7"/><stop offset="1" stop-color="#30a8c0" stop-opacity="0"/></radialGradient>
<linearGradient id="gSide" gradientUnits="userSpaceOnUse" x1="482" y1="0" x2="522" y2="0"><stop offset="0.0000" stop-color="#404040"/><stop offset="0.0250" stop-color="#4b4b4b"/><stop offset="0.0500" stop-color="#4c4c4c"/><stop offset="0.0750" stop-color="#555555"/><stop offset="0.1000" stop-color="#5c5c5c"/><stop offset="0.1250" stop-color="#505050"/><stop offset="0.1500" stop-color="#4c4c4c"/><stop offset="0.1750" stop-color="#626262"/><stop offset="0.2000" stop-color="#5a5a5a"/><stop offset="0.2250" stop-color="#555555"/><stop offset="0.2500" stop-color="#6b6b6b"/><stop offset="0.2750" stop-color="#636363"/><stop offset="0.3000" stop-color="#6c6c6c"/><stop offset="0.3250" stop-color="#646464"/><stop offset="0.3500" stop-color="#666666"/><stop offset="0.3750" stop-color="#585858"/><stop offset="0.4000" stop-color="#606060"/><stop offset="0.4250" stop-color="#6c6c6c"/><stop offset="0.4500" stop-color="#656565"/><stop offset="0.4750" stop-color="#696969"/><stop offset="0.5000" stop-color="#696969"/><stop offset="0.5250" stop-color="#565656"/><stop offset="0.5500" stop-color="#646464"/><stop offset="0.5750" stop-color="#646464"/><stop offset="0.6000" stop-color="#5c5c5c"/><stop offset="0.6250" stop-color="#505050"/><stop offset="0.6500" stop-color="#646464"/><stop offset="0.6750" stop-color="#616161"/><stop offset="0.7000" stop-color="#676767"/><stop offset="0.7250" stop-color="#6f6f6f"/><stop offset="0.7500" stop-color="#6c6c6c"/><stop offset="0.7750" stop-color="#717171"/><stop offset="0.8000" stop-color="#626262"/><stop offset="0.8250" stop-color="#676767"/><stop offset="0.8500" stop-color="#5d5d5d"/><stop offset="0.8750" stop-color="#686868"/><stop offset="0.9000" stop-color="#6a6a6a"/><stop offset="0.9250" stop-color="#525252"/><stop offset="0.9500" stop-color="#484848"/><stop offset="0.9750" stop-color="#464646"/><stop offset="1.0000" stop-color="#5b5b5b"/></linearGradient>
<radialGradient id="gTop" gradientUnits="userSpaceOnUse" cx="464" cy="118.5" r="60" gradientTransform="translate(464,118.5) scale(1,0.53) translate(-464,-118.5)"><stop offset="0.000" stop-color="#0028ff"/><stop offset="0.025" stop-color="#0028ff"/><stop offset="0.050" stop-color="#0028ff"/><stop offset="0.075" stop-color="#0028ff"/><stop offset="0.100" stop-color="#0028ff"/><stop offset="0.125" stop-color="#0028ff"/><stop offset="0.150" stop-color="#0028ff"/><stop offset="0.175" stop-color="#0028ff"/><stop offset="0.200" stop-color="#0028ff"/><stop offset="0.225" stop-color="#0028ff"/><stop offset="0.250" stop-color="#0028ff"/><stop offset="0.275" stop-color="#0028ff"/><stop offset="0.300" stop-color="#0028ff"/><stop offset="0.325" stop-color="#0028ff"/><stop offset="0.350" stop-color="#003eff"/><stop offset="0.375" stop-color="#0075ff"/><stop offset="0.400" stop-color="#00abff"/><stop offset="0.425" stop-color="#00e2ff"/><stop offset="0.450" stop-color="#19ffe5"/><stop offset="0.475" stop-color="#29ffd5"/><stop offset="0.500" stop-color="#39ffc5"/><stop offset="0.525" stop-color="#49ffb5"/><stop offset="0.550" stop-color="#7cff82"/><stop offset="0.575" stop-color="#b9ff45"/><stop offset="0.600" stop-color="#f6ff08"/><stop offset="0.625" stop-color="#ffe700"/><stop offset="0.650" stop-color="#ffd900"/><stop offset="0.675" stop-color="#ffcc00"/><stop offset="0.700" stop-color="#ffbe00"/><stop offset="0.725" stop-color="#ffb100"/><stop offset="0.750" stop-color="#ffa300"/><stop offset="0.775" stop-color="#ff7e00"/><stop offset="0.800" stop-color="#ff6c00"/><stop offset="0.825" stop-color="#ff5a00"/><stop offset="0.850" stop-color="#ff4800"/><stop offset="0.875" stop-color="#ff3500"/><stop offset="0.900" stop-color="#ff2300"/><stop offset="0.925" stop-color="#ff2300"/><stop offset="0.950" stop-color="#ff2300"/><stop offset="0.975" stop-color="#ff2300"/><stop offset="1.000" stop-color="#ff2300"/></radialGradient>
</defs>
<g clip-path="url(#cSide)"><rect x="480" y="110" width="45" height="105" fill="url(#gSide)"/></g>
<g clip-path="url(#cFront)">
<rect x="400" y="100" width="90" height="115" fill="url(#gFront)"/>
<rect x="400" y="100" width="90" height="115" fill="url(#gFront2)" mask="url(#mUp)"/>
<rect x="395" y="145" width="30" height="45" fill="url(#gCy)"/>
<rect x="395" y="140" width="100" height="80" fill="url(#gBand)"/>
<rect x="446.2" y="184.3" width="1.0" height="9.8" fill="#30a0b0" opacity="0.6"/><rect x="465.0" y="193.7" width="0.9" height="9.2" fill="#30a0b0" opacity="0.6"/><rect x="408.1" y="168.9" width="1.0" height="7.3" fill="#0a28b8" opacity="0.6"/><rect x="444.6" y="186.4" width="0.9" height="6.9" fill="#0a28b8" opacity="0.6"/><rect x="448.4" y="189.3" width="0.9" height="5.8" fill="#2070c0" opacity="0.6"/><rect x="460.3" y="192.4" width="1.1" height="8.4" fill="#2070c0" opacity="0.6"/><rect x="415.5" y="170.4" width="1.0" height="9.3" fill="#1848c8" opacity="0.6"/><rect x="412.3" y="167.5" width="1.3" height="10.6" fill="#0a28b8" opacity="0.6"/><rect x="452.2" y="187.8" width="1.5" height="9.1" fill="#0a28b8" opacity="0.6"/><rect x="476.8" y="203.4" width="1.3" height="5.1" fill="#30a0b0" opacity="0.6"/><rect x="475.1" y="198.2" width="1.6" height="9.4" fill="#1848c8" opacity="0.6"/><rect x="434.9" y="179.1" width="1.0" height="9.6" fill="#0a28b8" opacity="0.6"/><rect x="448.9" y="184.6" width="0.8" height="10.7" fill="#30a0b0" opacity="0.6"/><rect x="410.9" y="170.9" width="1.0" height="6.7" fill="#2070c0" opacity="0.6"/><rect x="429.7" y="179.2" width="1.1" height="7.1" fill="#2070c0" opacity="0.6"/><rect x="476.0" y="199.6" width="1.1" height="8.5" fill="#30a0b0" opacity="0.6"/><rect x="409.9" y="166.1" width="1.2" height="10.9" fill="#1848c8" opacity="0.6"/><rect x="427.0" y="176.3" width="1.0" height="8.8" fill="#2070c0" opacity="0.6"/><rect x="411.8" y="167.0" width="0.8" height="10.9" fill="#0a28b8" opacity="0.6"/><rect x="449.4" y="186.5" width="1.2" height="9.1" fill="#0a28b8" opacity="0.6"/><rect x="479.3" y="198.8" width="0.9" height="10.9" fill="#0a28b8" opacity="0.6"/><rect x="482.6" y="200.5" width="1.5" height="10.8" fill="#1848c8" opacity="0.6"/><rect x="409.9" y="166.2" width="1.4" height="10.8" fill="#30a0b0" opacity="0.6"/><rect x="476.9" y="198.6" width="0.9" height="9.9" fill="#1848c8" opacity="0.6"/><rect x="438.3" y="181.2" width="1.5" height="9.1" fill="#30a0b0" opacity="0.6"/><rect x="456.6" y="191.6" width="1.2" height="7.4" fill="#1848c8" opacity="0.6"/>
</g>
<path d="M485.5,146.5L484.4,152L483.8,175L483.4,207.4" stroke="#2040c0" stroke-width="0.7" fill="none"/>
<path d="M402.60,106.00L402.20,115.40L403.20,136.40L405.30,153.20L407.40,167.90L410.60,176.20" stroke="#2040c0" stroke-width="0.6" fill="none"/>
<g clip-path="url(#cTop)">
<rect x="400" y="85" width="125" height="65" fill="url(#gTop)"/>
<circle cx="456.7" cy="121.0" r="1.4" fill="#0084ff" opacity="0.7"/><circle cx="473.1" cy="98.9" r="1.4" fill="#e7ff17" opacity="0.7"/><circle cx="478.2" cy="134.8" r="1.0" fill="#e7ff17" opacity="0.7"/><circle cx="500.0" cy="128.9" r="0.9" fill="#ff9700" opacity="0.7"/><circle cx="481.1" cy="124.3" r="1.4" fill="#0031ff" opacity="0.7"/><circle cx="409.2" cy="99.2" r="1.1" fill="#ff1400" opacity="0.7"/><circle cx="405.6" cy="115.4" r="1.4" fill="#ffda00" opacity="0.7"/><circle cx="479.5" cy="117.5" r="1.5" fill="#0069ff" opacity="0.7"/><circle cx="457.3" cy="104.4" r="1.7" fill="#ffb100" opacity="0.7"/><circle cx="487.6" cy="106.6" r="1.1" fill="#68ff96" opacity="0.7"/><circle cx="437.0" cy="92.1" r="1.7" fill="#ff1900" opacity="0.7"/><circle cx="448.8" cy="144.5" r="1.7" fill="#ffa900" opacity="0.7"/><circle cx="512.1" cy="115.7" r="1.0" fill="#ff0100" opacity="0.7"/><circle cx="478.2" cy="133.9" r="1.1" fill="#57ffa7" opacity="0.7"/><circle cx="412.5" cy="107.6" r="1.0" fill="#ef0000" opacity="0.7"/><circle cx="431.8" cy="94.0" r="1.0" fill="#ff4a00" opacity="0.7"/><circle cx="498.4" cy="98.5" r="1.1" fill="#ffae00" opacity="0.7"/><circle cx="490.6" cy="95.7" r="1.5" fill="#ff7600" opacity="0.7"/><circle cx="416.1" cy="112.8" r="1.8" fill="#ff4c00" opacity="0.7"/><circle cx="499.2" cy="105.9" r="1.7" fill="#ff6c00" opacity="0.7"/><circle cx="427.5" cy="111.3" r="1.0" fill="#ff8100" opacity="0.7"/><circle cx="433.3" cy="133.6" r="1.2" fill="#caff34" opacity="0.7"/><circle cx="437.9" cy="92.3" r="1.1" fill="#ef0000" opacity="0.7"/><circle cx="474.8" cy="109.9" r="1.3" fill="#0069ff" opacity="0.7"/><circle cx="518.1" cy="116.5" r="1.1" fill="#ffda00" opacity="0.7"/><circle cx="420.7" cy="141.6" r="1.6" fill="#ff8000" opacity="0.7"/><circle cx="432.2" cy="99.2" r="1.1" fill="#ff7800" opacity="0.7"/><circle cx="475.0" cy="112.9" r="1.0" fill="#0000a8" opacity="0.7"/><circle cx="430.8" cy="129.6" r="1.4" fill="#ffe000" opacity="0.7"/><circle cx="437.5" cy="98.4" r="1.5" fill="#ef0000" opacity="0.7"/><circle cx="410.3" cy="101.5" r="1.5" fill="#ffdd00" opacity="0.7"/><circle cx="435.9" cy="142.1" r="1.1" fill="#ff7c00" opacity="0.7"/><circle cx="455.9" cy="91.6" r="1.4" fill="#ff1600" opacity="0.7"/><circle cx="417.9" cy="109.4" r="1.7" fill="#ff0600" opacity="0.7"/><circle cx="520.6" cy="126.8" r="1.0" fill="#ff5400" opacity="0.7"/><circle cx="512.1" cy="129.4" r="1.8" fill="#ffb600" opacity="0.7"/><circle cx="404.6" cy="125.5" r="1.2" fill="#ffc700" opacity="0.7"/><circle cx="468.1" cy="131.5" r="1.7" fill="#00daff" opacity="0.7"/><circle cx="491.2" cy="129.5" r="1.2" fill="#ebff13" opacity="0.7"/><circle cx="484.9" cy="141.1" r="1.7" fill="#b2ff4c" opacity="0.7"/><circle cx="452.5" cy="134.6" r="1.5" fill="#c2ff3c" opacity="0.7"/><circle cx="448.3" cy="122.4" r="1.4" fill="#0000cd" opacity="0.7"/><circle cx="411.7" cy="125.7" r="1.6" fill="#ef0000" opacity="0.7"/><circle cx="449.0" cy="131.4" r="1.4" fill="#21ffdd" opacity="0.7"/><circle cx="455.3" cy="137.5" r="0.9" fill="#ff5a00" opacity="0.7"/><circle cx="474.8" cy="116.4" r="1.1" fill="#0075ff" opacity="0.7"/><circle cx="486.5" cy="117.3" r="1.1" fill="#0000dc" opacity="0.7"/><circle cx="403.4" cy="105.8" r="1.5" fill="#ffba00" opacity="0.7"/><circle cx="426.5" cy="98.0" r="1.3" fill="#ef0000" opacity="0.7"/><circle cx="509.9" cy="107.3" r="1.5" fill="#ffa100" opacity="0.7"/><circle cx="426.0" cy="113.4" r="1.7" fill="#ff8a00" opacity="0.7"/><circle cx="448.5" cy="122.4" r="1.2" fill="#0000a8" opacity="0.7"/><circle cx="418.5" cy="117.3" r="1.5" fill="#ff3700" opacity="0.7"/><circle cx="517.0" cy="104.3" r="1.1" fill="#ffcc00" opacity="0.7"/><circle cx="456.5" cy="104.2" r="1.5" fill="#38ffc6" opacity="0.7"/><circle cx="461.8" cy="106.6" r="1.7" fill="#00d3ff" opacity="0.7"/><circle cx="520.8" cy="114.7" r="1.7" fill="#ff0c00" opacity="0.7"/><circle cx="407.0" cy="129.8" r="1.4" fill="#ff1800" opacity="0.7"/><circle cx="439.4" cy="134.7" r="1.3" fill="#ffa100" opacity="0.7"/><circle cx="430.7" cy="96.3" r="0.9" fill="#ff2300" opacity="0.7"/><circle cx="478.1" cy="114.3" r="1.6" fill="#0000cc" opacity="0.7"/><circle cx="518.0" cy="128.4" r="1.1" fill="#ff9000" opacity="0.7"/><circle cx="459.5" cy="98.5" r="1.5" fill="#ff7000" opacity="0.7"/><circle cx="423.7" cy="104.1" r="1.2" fill="#ff5c00" opacity="0.7"/><circle cx="486.4" cy="118.7" r="1.3" fill="#0000fb" opacity="0.7"/><circle cx="497.8" cy="141.5" r="1.0" fill="#ff9400" opacity="0.7"/><circle cx="514.8" cy="130.6" r="1.5" fill="#ef0000" opacity="0.7"/><circle cx="512.1" cy="110.2" r="1.4" fill="#fa0000" opacity="0.7"/><circle cx="508.4" cy="135.0" r="1.5" fill="#ef0000" opacity="0.7"/><circle cx="426.8" cy="130.6" r="1.6" fill="#ffd600" opacity="0.7"/><circle cx="479.6" cy="130.3" r="1.8" fill="#49ffb5" opacity="0.7"/><circle cx="520.3" cy="119.7" r="1.6" fill="#ef0000" opacity="0.7"/><circle cx="440.8" cy="141.7" r="1.0" fill="#ff1f00" opacity="0.7"/><circle cx="455.3" cy="120.5" r="1.6" fill="#0000e4" opacity="0.7"/><circle cx="461.0" cy="89.7" r="1.6" fill="#ff1600" opacity="0.7"/><circle cx="422.9" cy="107.8" r="1.6" fill="#ffa900" opacity="0.7"/><circle cx="419.0" cy="96.8" r="1.7" fill="#ffc600" opacity="0.7"/><circle cx="485.4" cy="143.8" r="1.3" fill="#ff4900" opacity="0.7"/><circle cx="428.8" cy="119.1" r="1.5" fill="#adff51" opacity="0.7"/><circle cx="465.3" cy="137.8" r="1.4" fill="#ff5800" opacity="0.7"/><circle cx="439.7" cy="110.5" r="1.1" fill="#99ff65" opacity="0.7"/><circle cx="504.9" cy="145.1" r="1.4" fill="#ffd800" opacity="0.7"/><circle cx="471.3" cy="99.9" r="1.4" fill="#7dff81" opacity="0.7"/><circle cx="464.4" cy="111.6" r="1.6" fill="#0010ff" opacity="0.7"/><circle cx="470.1" cy="117.0" r="1.4" fill="#001cff" opacity="0.7"/><circle cx="452.1" cy="144.5" r="1.7" fill="#ff7200" opacity="0.7"/><circle cx="434.6" cy="115.9" r="1.6" fill="#7bff83" opacity="0.7"/><circle cx="511.0" cy="116.1" r="1.2" fill="#ff2800" opacity="0.7"/><circle cx="425.2" cy="124.5" r="1.6" fill="#ff9d00" opacity="0.7"/><circle cx="429.5" cy="128.5" r="1.2" fill="#ffef00" opacity="0.7"/><circle cx="445.0" cy="124.6" r="1.0" fill="#00dfff" opacity="0.7"/><circle cx="463.8" cy="102.8" r="1.1" fill="#90ff6e" opacity="0.7"/><circle cx="466.2" cy="113.8" r="1.4" fill="#0000e4" opacity="0.7"/><circle cx="421.3" cy="100.1" r="1.5" fill="#ef0000" opacity="0.7"/><circle cx="479.3" cy="119.2" r="1.7" fill="#0073ff" opacity="0.7"/><circle cx="430.2" cy="131.7" r="1.6" fill="#ceff30" opacity="0.7"/><circle cx="511.2" cy="106.6" r="1.1" fill="#ff9400" opacity="0.7"/><circle cx="418.2" cy="102.1" r="1.6" fill="#ef0000" opacity="0.7"/><circle cx="433.4" cy="93.7" r="1.6" fill="#ef0000" opacity="0.7"/><circle cx="417.2" cy="111.8" r="1.5" fill="#ffc300" opacity="0.7"/><circle cx="484.6" cy="141.8" r="1.4" fill="#ff3500" opacity="0.7"/><circle cx="493.7" cy="117.7" r="1.5" fill="#2effd0" opacity="0.7"/><circle cx="424.9" cy="92.2" r="1.4" fill="#ff0d00" opacity="0.7"/><circle cx="464.3" cy="121.6" r="1.0" fill="#0038ff" opacity="0.7"/><circle cx="424.3" cy="100.0" r="1.7" fill="#ef0000" opacity="0.7"/><circle cx="517.1" cy="115.3" r="1.6" fill="#cdff31" opacity="0.7"/><circle cx="441.5" cy="115.6" r="1.4" fill="#002bff" opacity="0.7"/><circle cx="403.6" cy="129.4" r="1.7" fill="#ff2e00" opacity="0.7"/><circle cx="423.9" cy="114.8" r="1.1" fill="#ffd100" opacity="0.7"/><circle cx="422.0" cy="118.2" r="0.9" fill="#d7ff27" opacity="0.7"/><circle cx="510.1" cy="135.3" r="1.5" fill="#ff5c00" opacity="0.7"/><circle cx="450.9" cy="123.4" r="1.4" fill="#0000a8" opacity="0.7"/><circle cx="520.9" cy="135.5" r="1.6" fill="#ff2f00" opacity="0.7"/><circle cx="496.1" cy="136.1" r="1.3" fill="#ef0000" opacity="0.7"/><circle cx="510.5" cy="139.9" r="1.6" fill="#ff5e00" opacity="0.7"/><circle cx="451.1" cy="130.6" r="1.0" fill="#006bff" opacity="0.7"/><circle cx="443.3" cy="115.7" r="1.5" fill="#00a0ff" opacity="0.7"/><circle cx="477.5" cy="101.7" r="1.8" fill="#beff40" opacity="0.7"/><circle cx="482.6" cy="107.9" r="1.4" fill="#00dbff" opacity="0.7"/><circle cx="449.1" cy="147.0" r="1.5" fill="#ff9300" opacity="0.7"/><circle cx="486.9" cy="132.9" r="1.5" fill="#faff04" opacity="0.7"/><circle cx="491.4" cy="103.1" r="1.3" fill="#ffd400" opacity="0.7"/><circle cx="447.5" cy="93.8" r="1.4" fill="#ff5c00" opacity="0.7"/><circle cx="463.4" cy="145.1" r="1.4" fill="#ef0000" opacity="0.7"/><circle cx="522.4" cy="125.6" r="1.4" fill="#ff1400" opacity="0.7"/><circle cx="493.9" cy="90.7" r="1.7" fill="#ff4900" opacity="0.7"/><circle cx="421.4" cy="115.8" r="1.5" fill="#ff7c00" opacity="0.7"/><circle cx="452.9" cy="119.1" r="1.4" fill="#0086ff" opacity="0.7"/><circle cx="446.2" cy="104.9" r="1.2" fill="#00fcff" opacity="0.7"/><circle cx="488.7" cy="105.5" r="0.9" fill="#5bffa3" opacity="0.7"/><circle cx="431.6" cy="90.5" r="1.3" fill="#ef0000" opacity="0.7"/><circle cx="510.6" cy="132.2" r="0.9" fill="#ef0000" opacity="0.7"/><circle cx="454.0" cy="116.2" r="1.4" fill="#006cff" opacity="0.7"/><circle cx="515.4" cy="130.6" r="1.3" fill="#ff3000" opacity="0.7"/><circle cx="520.4" cy="136.2" r="1.5" fill="#ff4b00" opacity="0.7"/><circle cx="457.1" cy="100.0" r="0.9" fill="#c5ff39" opacity="0.7"/><circle cx="465.9" cy="95.3" r="1.3" fill="#c1ff3d" opacity="0.7"/><circle cx="433.7" cy="122.4" r="1.3" fill="#7aff84" opacity="0.7"/><circle cx="496.1" cy="119.3" r="1.6" fill="#ffa600" opacity="0.7"/><circle cx="430.8" cy="94.7" r="1.7" fill="#ff2700" opacity="0.7"/><circle cx="496.9" cy="124.9" r="1.5" fill="#9bff63" opacity="0.7"/><circle cx="470.4" cy="122.9" r="1.5" fill="#0061ff" opacity="0.7"/><circle cx="493.2" cy="99.2" r="1.7" fill="#ff7b00" opacity="0.7"/><circle cx="409.4" cy="104.0" r="1.3" fill="#ef0000" opacity="0.7"/><circle cx="477.4" cy="94.0" r="1.0" fill="#ff9200" opacity="0.7"/><circle cx="483.8" cy="120.5" r="1.5" fill="#001fff" opacity="0.7"/><circle cx="447.2" cy="116.2" r="1.6" fill="#003dff" opacity="0.7"/><circle cx="503.5" cy="92.4" r="1.0" fill="#ef0000" opacity="0.7"/><circle cx="499.9" cy="124.8" r="1.3" fill="#ffdc00" opacity="0.7"/><circle cx="433.2" cy="135.8" r="1.2" fill="#ffeb00" opacity="0.7"/><circle cx="481.1" cy="146.4" r="1.6" fill="#ff5e00" opacity="0.7"/><circle cx="513.4" cy="113.2" r="1.2" fill="#ef0000" opacity="0.7"/><circle cx="413.7" cy="139.6" r="1.4" fill="#fd0000" opacity="0.7"/><circle cx="460.7" cy="128.4" r="1.2" fill="#003aff" opacity="0.7"/><circle cx="495.8" cy="92.5" r="1.0" fill="#ff0100" opacity="0.7"/><circle cx="438.8" cy="130.8" r="1.5" fill="#ffbc00" opacity="0.7"/><circle cx="436.2" cy="96.4" r="1.2" fill="#ffba00" opacity="0.7"/><circle cx="416.2" cy="129.8" r="1.4" fill="#ef0000" opacity="0.7"/><circle cx="512.5" cy="113.8" r="1.2" fill="#ff4000" opacity="0.7"/><circle cx="450.4" cy="143.1" r="1.7" fill="#ffb900" opacity="0.7"/><circle cx="432.0" cy="109.3" r="1.3" fill="#c3ff3b" opacity="0.7"/><circle cx="448.9" cy="99.5" r="1.4" fill="#ff9200" opacity="0.7"/><circle cx="498.4" cy="119.9" r="1.1" fill="#fffe00" opacity="0.7"/><circle cx="493.8" cy="140.0" r="1.2" fill="#ffc000" opacity="0.7"/><circle cx="404.7" cy="118.4" r="1.8" fill="#ffa200" opacity="0.7"/><circle cx="480.8" cy="135.5" r="1.0" fill="#d7ff27" opacity="0.7"/><circle cx="468.2" cy="134.5" r="1.6" fill="#62ff9c" opacity="0.7"/><circle cx="478.7" cy="96.5" r="1.6" fill="#ff9600" opacity="0.7"/><circle cx="480.5" cy="102.5" r="1.4" fill="#d7ff27" opacity="0.7"/><circle cx="494.5" cy="111.3" r="1.2" fill="#ffc400" opacity="0.7"/><circle cx="519.2" cy="127.7" r="1.5" fill="#ffa200" opacity="0.7"/><circle cx="487.7" cy="142.0" r="1.3" fill="#ff4c00" opacity="0.7"/><circle cx="502.0" cy="127.3" r="1.7" fill="#ff5300" opacity="0.7"/><circle cx="479.5" cy="118.9" r="1.5" fill="#0000a8" opacity="0.7"/><circle cx="499.1" cy="112.9" r="1.6" fill="#dcff22" opacity="0.7"/><circle cx="521.9" cy="110.2" r="1.1" fill="#ff0800" opacity="0.7"/><circle cx="426.7" cy="113.1" r="1.0" fill="#daff24" opacity="0.7"/><circle cx="439.3" cy="94.8" r="1.5" fill="#ef0000" opacity="0.7"/><circle cx="495.9" cy="98.6" r="1.4" fill="#f30000" opacity="0.7"/><circle cx="415.1" cy="98.9" r="1.1" fill="#f70000" opacity="0.7"/><circle cx="430.5" cy="130.3" r="1.1" fill="#f3ff0b" opacity="0.7"/><circle cx="436.0" cy="98.2" r="1.6" fill="#ff9b00" opacity="0.7"/><circle cx="439.7" cy="120.3" r="1.1" fill="#00e9ff" opacity="0.7"/><circle cx="509.4" cy="141.9" r="1.2" fill="#ff8e00" opacity="0.7"/><circle cx="468.2" cy="144.5" r="0.9" fill="#ffa500" opacity="0.7"/><circle cx="516.6" cy="135.3" r="1.2" fill="#ff1b00" opacity="0.7"/><circle cx="465.8" cy="118.4" r="1.5" fill="#0000fc" opacity="0.7"/><circle cx="430.8" cy="88.6" r="1.3" fill="#ef0000" opacity="0.7"/><circle cx="447.0" cy="135.0" r="1.0" fill="#c2ff3c" opacity="0.7"/><circle cx="421.0" cy="107.0" r="1.1" fill="#fff100" opacity="0.7"/><circle cx="507.2" cy="118.5" r="1.1" fill="#78ff86" opacity="0.7"/><circle cx="466.7" cy="96.9" r="1.6" fill="#40ffbe" opacity="0.7"/><circle cx="504.4" cy="136.5" r="1.5" fill="#ef0000" opacity="0.7"/><circle cx="413.8" cy="116.3" r="1.3" fill="#ff2700" opacity="0.7"/><circle cx="517.6" cy="122.6" r="1.6" fill="#ef0000" opacity="0.7"/><circle cx="452.5" cy="142.1" r="1.0" fill="#ffc800" opacity="0.7"/><circle cx="502.0" cy="100.3" r="1.0" fill="#ffbd00" opacity="0.7"/><circle cx="502.7" cy="106.4" r="1.2" fill="#ffc500" opacity="0.7"/><circle cx="411.2" cy="106.0" r="1.2" fill="#ffc100" opacity="0.7"/><circle cx="485.1" cy="94.2" r="1.3" fill="#ff2e00" opacity="0.7"/><circle cx="457.9" cy="145.0" r="0.9" fill="#ff0700" opacity="0.7"/><circle cx="447.6" cy="129.9" r="1.1" fill="#00a3ff" opacity="0.7"/><circle cx="470.3" cy="115.0" r="1.6" fill="#45ffb9" opacity="0.7"/><circle cx="427.0" cy="124.3" r="1.2" fill="#ffc800" opacity="0.7"/><circle cx="447.5" cy="119.8" r="1.3" fill="#000fff" opacity="0.7"/><circle cx="482.7" cy="103.1" r="1.1" fill="#ffec00" opacity="0.7"/><circle cx="490.5" cy="107.4" r="1.6" fill="#ffe700" opacity="0.7"/><circle cx="442.1" cy="136.8" r="1.0" fill="#fff500" opacity="0.7"/><circle cx="419.0" cy="93.6" r="1.1" fill="#ff6900" opacity="0.7"/><circle cx="450.7" cy="137.4" r="1.4" fill="#8bff73" opacity="0.7"/><circle cx="412.9" cy="101.4" r="1.3" fill="#ff0600" opacity="0.7"/><circle cx="453.7" cy="118.2" r="1.5" fill="#0050ff" opacity="0.7"/><circle cx="494.8" cy="136.4" r="1.3" fill="#ffcc00" opacity="0.7"/><circle cx="403.9" cy="111.6" r="1.5" fill="#ef0000" opacity="0.7"/><circle cx="520.8" cy="134.6" r="0.9" fill="#ff6e00" opacity="0.7"/><circle cx="442.1" cy="108.2" r="1.5" fill="#00c6ff" opacity="0.7"/><circle cx="414.9" cy="110.3" r="1.6" fill="#fff500" opacity="0.7"/><circle cx="476.0" cy="97.3" r="1.6" fill="#ffcc00" opacity="0.7"/><circle cx="511.3" cy="120.3" r="1.0" fill="#ffbc00" opacity="0.7"/><circle cx="488.3" cy="146.2" r="1.4" fill="#ef0000" opacity="0.7"/><circle cx="488.6" cy="137.3" r="1.5" fill="#ff6400" opacity="0.7"/><circle cx="425.9" cy="92.9" r="1.1" fill="#ef0000" opacity="0.7"/><circle cx="471.8" cy="129.1" r="1.2" fill="#0000eb" opacity="0.7"/><circle cx="458.0" cy="95.3" r="1.8" fill="#ef0000" opacity="0.7"/><circle cx="418.4" cy="141.3" r="1.4" fill="#ffa100" opacity="0.7"/><circle cx="434.0" cy="141.7" r="1.8" fill="#ff5300" opacity="0.7"/><circle cx="500.9" cy="123.5" r="1.2" fill="#ff5900" opacity="0.7"/><circle cx="510.5" cy="102.2" r="1.4" fill="#ef0000" opacity="0.7"/><circle cx="502.5" cy="98.9" r="0.9" fill="#ff5200" opacity="0.7"/><circle cx="423.8" cy="146.2" r="1.7" fill="#ff2f00" opacity="0.7"/><circle cx="481.7" cy="106.2" r="1.2" fill="#00e8ff" opacity="0.7"/><circle cx="473.6" cy="135.4" r="0.9" fill="#00f7ff" opacity="0.7"/><circle cx="426.1" cy="115.6" r="1.4" fill="#ffa100" opacity="0.7"/><circle cx="423.0" cy="118.7" r="1.1" fill="#ff7900" opacity="0.7"/><circle cx="470.7" cy="107.6" r="1.5" fill="#0046ff" opacity="0.7"/><circle cx="474.6" cy="115.7" r="1.3" fill="#0014ff" opacity="0.7"/><circle cx="477.5" cy="128.7" r="1.3" fill="#009fff" opacity="0.7"/><circle cx="505.5" cy="112.1" r="1.3" fill="#9fff5f" opacity="0.7"/><circle cx="470.5" cy="141.4" r="1.3" fill="#d3ff2b" opacity="0.7"/><circle cx="511.4" cy="106.9" r="0.9" fill="#ff4d00" opacity="0.7"/><circle cx="489.8" cy="141.1" r="1.6" fill="#ff6500" opacity="0.7"/><circle cx="438.9" cy="123.0" r="1.0" fill="#008cff" opacity="0.7"/><circle cx="417.1" cy="114.4" r="0.9" fill="#ffd800" opacity="0.7"/><circle cx="486.1" cy="119.0" r="1.1" fill="#0065ff" opacity="0.7"/><circle cx="439.1" cy="111.3" r="1.7" fill="#2bffd3" opacity="0.7"/><circle cx="518.9" cy="127.3" r="1.7" fill="#fc0000" opacity="0.7"/><circle cx="453.0" cy="135.5" r="1.4" fill="#c0ff3e" opacity="0.7"/><circle cx="497.9" cy="95.3" r="1.4" fill="#ef0000" opacity="0.7"/><circle cx="431.5" cy="105.7" r="1.7" fill="#ffdc00" opacity="0.7"/><circle cx="500.7" cy="111.4" r="1.2" fill="#ffb900" opacity="0.7"/><circle cx="472.8" cy="90.7" r="1.2" fill="#ef0000" opacity="0.7"/><circle cx="462.3" cy="143.1" r="1.8" fill="#ff5400" opacity="0.7"/><circle cx="459.2" cy="100.2" r="1.7" fill="#88ff76" opacity="0.7"/><circle cx="425.7" cy="137.4" r="1.2" fill="#ef0000" opacity="0.7"/><circle cx="459.2" cy="98.1" r="1.1" fill="#ef0000" opacity="0.7"/><circle cx="478.5" cy="99.3" r="1.7" fill="#3effc0" opacity="0.7"/><circle cx="489.8" cy="106.5" r="1.5" fill="#ffa200" opacity="0.7"/><circle cx="418.3" cy="129.1" r="1.7" fill="#ffce00" opacity="0.7"/><circle cx="455.9" cy="92.7" r="1.5" fill="#ff4c00" opacity="0.7"/><circle cx="425.8" cy="98.7" r="1.1" fill="#ef0000" opacity="0.7"/><circle cx="482.4" cy="134.6" r="1.7" fill="#7cff82" opacity="0.7"/><circle cx="473.4" cy="101.5" r="1.2" fill="#f8ff06" opacity="0.7"/><circle cx="514.1" cy="127.4" r="1.0" fill="#ff4a00" opacity="0.7"/><circle cx="520.9" cy="114.0" r="1.4" fill="#ef0000" opacity="0.7"/><circle cx="466.2" cy="90.7" r="1.1" fill="#ff7800" opacity="0.7"/><circle cx="499.2" cy="93.1" r="1.2" fill="#ff5400" opacity="0.7"/><circle cx="493.4" cy="102.5" r="1.1" fill="#ffd400" opacity="0.7"/><circle cx="406.1" cy="115.2" r="1.6" fill="#ef0000" opacity="0.7"/><circle cx="448.5" cy="142.8" r="1.4" fill="#ffa700" opacity="0.7"/><circle cx="480.0" cy="109.2" r="1.5" fill="#00a2ff" opacity="0.7"/><circle cx="496.7" cy="118.5" r="1.5" fill="#00acff" opacity="0.7"/><circle cx="465.0" cy="144.1" r="1.1" fill="#ff6e00" opacity="0.7"/><circle cx="496.3" cy="97.7" r="1.3" fill="#ff8400" opacity="0.7"/><circle cx="495.5" cy="134.4" r="1.6" fill="#ffdf00" opacity="0.7"/><circle cx="430.5" cy="116.9" r="1.3" fill="#adff51" opacity="0.7"/><circle cx="406.3" cy="123.2" r="1.5" fill="#ef0000" opacity="0.7"/><circle cx="471.3" cy="139.5" r="0.9" fill="#ffb500" opacity="0.7"/><circle cx="462.0" cy="113.6" r="1.3" fill="#0058ff" opacity="0.7"/><circle cx="433.8" cy="135.1" r="1.4" fill="#ef0000" opacity="0.7"/><circle cx="467.7" cy="134.7" r="1.1" fill="#a3ff5b" opacity="0.7"/><circle cx="419.7" cy="106.3" r="1.5" fill="#ff0000" opacity="0.7"/><circle cx="465.6" cy="103.6" r="1.4" fill="#3affc4" opacity="0.7"/><circle cx="412.7" cy="136.4" r="1.0" fill="#fd0000" opacity="0.7"/><circle cx="485.6" cy="137.0" r="1.6" fill="#ff8200" opacity="0.7"/><circle cx="409.4" cy="112.2" r="1.8" fill="#ff5200" opacity="0.7"/><circle cx="407.1" cy="116.9" r="1.6" fill="#ef0000" opacity="0.7"/><circle cx="457.1" cy="132.0" r="1.7" fill="#42ffbc" opacity="0.7"/><circle cx="419.1" cy="111.2" r="1.2" fill="#ff6600" opacity="0.7"/><circle cx="453.4" cy="92.5" r="1.6" fill="#ef0000" opacity="0.7"/><circle cx="490.8" cy="101.6" r="1.1" fill="#ff7800" opacity="0.7"/><circle cx="468.8" cy="102.3" r="1.2" fill="#005dff" opacity="0.7"/><circle cx="442.8" cy="145.9" r="1.4" fill="#ef0000" opacity="0.7"/><circle cx="406.8" cy="111.8" r="1.2" fill="#ff3800" opacity="0.7"/><circle cx="486.1" cy="139.0" r="1.4" fill="#ffc400" opacity="0.7"/><circle cx="509.3" cy="115.3" r="1.2" fill="#dbff23" opacity="0.7"/><circle cx="496.5" cy="100.7" r="1.2" fill="#ff0100" opacity="0.7"/><circle cx="424.2" cy="120.4" r="1.1" fill="#ffad00" opacity="0.7"/><circle cx="458.6" cy="106.2" r="1.3" fill="#00daff" opacity="0.7"/><circle cx="522.2" cy="128.1" r="1.2" fill="#f50000" opacity="0.7"/><circle cx="410.8" cy="128.8" r="1.2" fill="#ff5800" opacity="0.7"/><circle cx="435.2" cy="89.1" r="1.3" fill="#ff0200" opacity="0.7"/><circle cx="513.8" cy="130.2" r="1.1" fill="#ef0000" opacity="0.7"/><circle cx="445.7" cy="97.1" r="1.6" fill="#ff5000" opacity="0.7"/><circle cx="489.5" cy="141.5" r="0.9" fill="#ff7400" opacity="0.7"/><circle cx="441.0" cy="110.7" r="1.2" fill="#c1ff3d" opacity="0.7"/><circle cx="495.3" cy="118.6" r="0.9" fill="#b0ff4e" opacity="0.7"/><circle cx="449.7" cy="102.1" r="1.4" fill="#e4ff1a" opacity="0.7"/><circle cx="405.8" cy="106.4" r="1.3" fill="#ff1400" opacity="0.7"/><circle cx="467.8" cy="96.0" r="1.6" fill="#ffce00" opacity="0.7"/><circle cx="482.6" cy="96.7" r="1.1" fill="#ffee00" opacity="0.7"/><circle cx="435.9" cy="130.1" r="1.7" fill="#90ff6e" opacity="0.7"/><circle cx="429.4" cy="105.2" r="1.2" fill="#ff7f00" opacity="0.7"/><circle cx="428.1" cy="90.4" r="1.4" fill="#ef0000" opacity="0.7"/><circle cx="499.9" cy="145.6" r="1.2" fill="#ff0d00" opacity="0.7"/><circle cx="483.1" cy="142.2" r="1.5" fill="#ff4300" opacity="0.7"/><circle cx="430.4" cy="125.3" r="1.0" fill="#ff6f00" opacity="0.7"/><circle cx="453.8" cy="111.2" r="1.2" fill="#007cff" opacity="0.7"/><circle cx="462.2" cy="104.5" r="1.0" fill="#27ffd7" opacity="0.7"/><circle cx="450.7" cy="116.0" r="1.1" fill="#006cff" opacity="0.7"/><circle cx="413.3" cy="108.2" r="1.3" fill="#ef0000" opacity="0.7"/><circle cx="420.2" cy="122.4" r="1.5" fill="#ffd000" opacity="0.7"/><circle cx="404.8" cy="111.1" r="1.2" fill="#ff9f00" opacity="0.7"/><circle cx="409.6" cy="111.9" r="1.4" fill="#ef0000" opacity="0.7"/><circle cx="458.7" cy="107.2" r="1.1" fill="#0085ff" opacity="0.7"/><circle cx="404.8" cy="108.5" r="1.1" fill="#ef0000" opacity="0.7"/><circle cx="482.8" cy="99.0" r="1.3" fill="#e6ff18" opacity="0.7"/><circle cx="476.4" cy="144.3" r="1.7" fill="#ffa700" opacity="0.7"/><circle cx="495.3" cy="125.0" r="1.5" fill="#fdff01" opacity="0.7"/><circle cx="451.7" cy="112.5" r="1.7" fill="#000cff" opacity="0.7"/><circle cx="448.2" cy="141.7" r="0.9" fill="#ef0000" opacity="0.7"/><circle cx="418.4" cy="117.9" r="1.8" fill="#ffc100" opacity="0.7"/><circle cx="420.1" cy="99.4" r="1.1" fill="#ef0000" opacity="0.7"/><circle cx="484.3" cy="101.8" r="1.3" fill="#ff6800" opacity="0.7"/><circle cx="431.0" cy="117.1" r="1.5" fill="#83ff7b" opacity="0.7"/><circle cx="468.3" cy="124.8" r="1.8" fill="#0000a8" opacity="0.7"/><circle cx="442.4" cy="108.5" r="1.7" fill="#00eaff" opacity="0.7"/><circle cx="439.9" cy="130.2" r="1.8" fill="#3dffc1" opacity="0.7"/><circle cx="501.8" cy="97.4" r="1.5" fill="#ffb600" opacity="0.7"/><circle cx="461.4" cy="121.3" r="1.6" fill="#0000f4" opacity="0.7"/><circle cx="466.6" cy="102.0" r="1.1" fill="#84ff7a" opacity="0.7"/><circle cx="441.3" cy="98.5" r="1.0" fill="#ffe000" opacity="0.7"/><circle cx="487.3" cy="94.7" r="1.3" fill="#ff5000" opacity="0.7"/><circle cx="495.4" cy="116.4" r="1.7" fill="#b6ff48" opacity="0.7"/><circle cx="408.5" cy="103.0" r="1.4" fill="#ef0000" opacity="0.7"/><circle cx="498.4" cy="111.1" r="1.5" fill="#fffb00" opacity="0.7"/><circle cx="441.6" cy="107.7" r="1.6" fill="#00efff" opacity="0.7"/><circle cx="504.0" cy="136.9" r="1.5" fill="#ff9100" opacity="0.7"/><circle cx="477.4" cy="137.0" r="1.6" fill="#eaff14" opacity="0.7"/><circle cx="417.2" cy="110.2" r="1.1" fill="#ff7f00" opacity="0.7"/><circle cx="403.7" cy="122.5" r="1.7" fill="#ff6400" opacity="0.7"/><circle cx="485.2" cy="112.7" r="1.7" fill="#0066ff" opacity="0.7"/><circle cx="488.3" cy="95.0" r="0.9" fill="#ff9800" opacity="0.7"/><circle cx="436.6" cy="131.1" r="1.2" fill="#ffc700" opacity="0.7"/><circle cx="405.2" cy="120.0" r="1.3" fill="#ff2500" opacity="0.7"/><circle cx="447.2" cy="106.2" r="1.2" fill="#61ff9d" opacity="0.7"/><circle cx="449.4" cy="124.4" r="1.6" fill="#0000a8" opacity="0.7"/><circle cx="520.7" cy="111.0" r="1.6" fill="#ff4f00" opacity="0.7"/><circle cx="419.8" cy="98.3" r="1.0" fill="#ff9c00" opacity="0.7"/><circle cx="515.0" cy="102.8" r="1.2" fill="#ff5700" opacity="0.7"/><circle cx="404.3" cy="121.4" r="1.0" fill="#ff1f00" opacity="0.7"/><circle cx="477.7" cy="104.2" r="1.2" fill="#4cffb2" opacity="0.7"/><circle cx="433.4" cy="91.0" r="1.0" fill="#ef0000" opacity="0.7"/><circle cx="510.0" cy="106.3" r="1.3" fill="#ff0900" opacity="0.7"/><circle cx="506.9" cy="116.6" r="1.3" fill="#ff9600" opacity="0.7"/><circle cx="499.6" cy="111.4" r="1.5" fill="#ff6900" opacity="0.7"/><circle cx="477.4" cy="104.3" r="1.7" fill="#61ff9d" opacity="0.7"/><circle cx="455.6" cy="137.2" r="0.9" fill="#f5ff09" opacity="0.7"/><circle cx="422.4" cy="95.0" r="1.0" fill="#ff6200" opacity="0.7"/><circle cx="445.4" cy="132.5" r="0.9" fill="#30ffce" opacity="0.7"/><circle cx="427.4" cy="144.6" r="0.9" fill="#ef0000" opacity="0.7"/><circle cx="465.8" cy="135.8" r="1.3" fill="#9bff63" opacity="0.7"/><circle cx="499.2" cy="136.8" r="1.6" fill="#fffc00" opacity="0.7"/><circle cx="517.0" cy="111.7" r="1.7" fill="#ff3900" opacity="0.7"/><circle cx="404.8" cy="122.0" r="1.1" fill="#ff6e00" opacity="0.7"/><circle cx="449.0" cy="109.8" r="1.2" fill="#000fff" opacity="0.7"/><circle cx="479.2" cy="108.9" r="1.2" fill="#0013ff" opacity="0.7"/><circle cx="511.5" cy="107.0" r="1.6" fill="#ef0000" opacity="0.7"/><circle cx="427.6" cy="131.8" r="1.4" fill="#ff7600" opacity="0.7"/><circle cx="484.3" cy="98.5" r="1.2" fill="#ff8900" opacity="0.7"/><circle cx="454.1" cy="88.6" r="1.4" fill="#ff0000" opacity="0.7"/><circle cx="450.8" cy="107.0" r="1.1" fill="#0003ff" opacity="0.7"/><circle cx="508.5" cy="106.9" r="1.6" fill="#ff9300" opacity="0.7"/><circle cx="454.0" cy="144.8" r="1.5" fill="#ff3900" opacity="0.7"/><circle cx="423.5" cy="104.1" r="1.5" fill="#fc0000" opacity="0.7"/><circle cx="516.7" cy="107.0" r="1.8" fill="#fb0000" opacity="0.7"/><circle cx="419.9" cy="125.4" r="1.2" fill="#ff2d00" opacity="0.7"/><circle cx="479.9" cy="100.5" r="1.7" fill="#77ff87" opacity="0.7"/><circle cx="478.1" cy="117.8" r="1.4" fill="#0000a8" opacity="0.7"/><circle cx="415.8" cy="137.4" r="1.5" fill="#ff4d00" opacity="0.7"/><circle cx="452.7" cy="110.7" r="1.1" fill="#0000ca" opacity="0.7"/><circle cx="474.7" cy="121.8" r="1.5" fill="#0011ff" opacity="0.7"/><circle cx="456.1" cy="123.0" r="1.4" fill="#0026ff" opacity="0.7"/><circle cx="514.7" cy="97.0" r="1.6" fill="#9fff5f" opacity="0.7"/><circle cx="439.9" cy="131.5" r="1.8" fill="#f2ff0c" opacity="0.7"/><circle cx="450.7" cy="139.2" r="1.3" fill="#ef0000" opacity="0.7"/><circle cx="430.3" cy="137.6" r="1.5" fill="#ef0000" opacity="0.7"/><circle cx="515.5" cy="136.9" r="1.8" fill="#fe0000" opacity="0.7"/><circle cx="488.1" cy="102.8" r="1.6" fill="#a8ff56" opacity="0.7"/><circle cx="456.9" cy="119.6" r="1.2" fill="#0051ff" opacity="0.7"/><circle cx="479.9" cy="92.3" r="1.4" fill="#ff7000" opacity="0.7"/><circle cx="497.2" cy="117.0" r="1.7" fill="#95ff69" opacity="0.7"/><circle cx="495.3" cy="120.4" r="1.7" fill="#fffe00" opacity="0.7"/><circle cx="498.4" cy="97.0" r="0.9" fill="#ff4b00" opacity="0.7"/><circle cx="443.8" cy="139.0" r="1.7" fill="#ff8c00" opacity="0.7"/><circle cx="416.2" cy="98.7" r="1.5" fill="#ffbb00" opacity="0.7"/><circle cx="478.1" cy="139.7" r="1.6" fill="#ff3a00" opacity="0.7"/><circle cx="425.8" cy="127.4" r="1.2" fill="#ffd100" opacity="0.7"/><circle cx="440.2" cy="125.2" r="1.2" fill="#1effe0" opacity="0.7"/><circle cx="475.0" cy="129.0" r="1.5" fill="#008eff" opacity="0.7"/><circle cx="458.4" cy="95.6" r="1.0" fill="#ff8000" opacity="0.7"/><circle cx="515.9" cy="124.0" r="1.8" fill="#ff5b00" opacity="0.7"/><circle cx="485.7" cy="131.4" r="1.2" fill="#a3ff5b" opacity="0.7"/><circle cx="439.5" cy="112.1" r="1.3" fill="#6bff93" opacity="0.7"/><circle cx="501.2" cy="112.1" r="1.3" fill="#ff6600" opacity="0.7"/><circle cx="463.3" cy="143.6" r="1.1" fill="#ffcf00" opacity="0.7"/><circle cx="472.1" cy="104.8" r="1.7" fill="#8fff6f" opacity="0.7"/><circle cx="436.7" cy="138.4" r="1.7" fill="#ffb100" opacity="0.7"/><circle cx="448.9" cy="131.9" r="1.4" fill="#00d7ff" opacity="0.7"/><circle cx="456.3" cy="91.8" r="1.3" fill="#ff9000" opacity="0.7"/><circle cx="517.5" cy="105.3" r="1.5" fill="#fa0000" opacity="0.7"/><circle cx="483.3" cy="102.4" r="1.7" fill="#c5ff39" opacity="0.7"/><circle cx="432.5" cy="112.8" r="1.2" fill="#a6ff58" opacity="0.7"/><circle cx="501.3" cy="138.2" r="1.0" fill="#ffa000" opacity="0.7"/><circle cx="446.0" cy="110.1" r="1.6" fill="#006dff" opacity="0.7"/><circle cx="483.0" cy="108.3" r="0.9" fill="#cdff31" opacity="0.7"/><circle cx="478.6" cy="115.7" r="1.2" fill="#0000a8" opacity="0.7"/><circle cx="458.2" cy="106.6" r="1.8" fill="#004eff" opacity="0.7"/><circle cx="449.8" cy="136.9" r="1.5" fill="#9cff62" opacity="0.7"/><circle cx="486.8" cy="146.9" r="1.3" fill="#ef0000" opacity="0.7"/><circle cx="481.4" cy="100.9" r="1.8" fill="#ffb900" opacity="0.7"/><circle cx="427.3" cy="109.8" r="1.6" fill="#ff8f00" opacity="0.7"/><circle cx="412.1" cy="97.8" r="1.5" fill="#ef0000" opacity="0.7"/><circle cx="477.4" cy="131.8" r="1.6" fill="#24ffda" opacity="0.7"/><circle cx="495.9" cy="95.1" r="1.3" fill="#ef0000" opacity="0.7"/><circle cx="404.9" cy="108.7" r="1.0" fill="#ff9e00" opacity="0.7"/><circle cx="497.5" cy="105.8" r="1.4" fill="#ffe200" opacity="0.7"/><circle cx="417.1" cy="121.5" r="1.4" fill="#ff5700" opacity="0.7"/><circle cx="437.6" cy="133.9" r="1.1" fill="#ffb700" opacity="0.7"/><circle cx="452.1" cy="91.2" r="1.4" fill="#ff1a00" opacity="0.7"/><circle cx="457.6" cy="138.2" r="1.0" fill="#ff7800" opacity="0.7"/><circle cx="504.9" cy="97.1" r="1.3" fill="#ef0000" opacity="0.7"/><circle cx="476.1" cy="139.0" r="1.8" fill="#ffe300" opacity="0.7"/><circle cx="452.0" cy="88.6" r="1.6" fill="#ef0000" opacity="0.7"/><circle cx="488.2" cy="97.2" r="1.4" fill="#ef0000" opacity="0.7"/><circle cx="438.4" cy="145.0" r="0.9" fill="#ff9e00" opacity="0.7"/><circle cx="452.4" cy="92.6" r="1.1" fill="#ffec00" opacity="0.7"/><circle cx="415.5" cy="142.2" r="1.5" fill="#ff5b00" opacity="0.7"/><circle cx="509.3" cy="143.8" r="1.4" fill="#ef0000" opacity="0.7"/><circle cx="462.6" cy="141.3" r="1.6" fill="#fff800" opacity="0.7"/><circle cx="433.3" cy="109.7" r="1.3" fill="#fffd00" opacity="0.7"/><circle cx="459.7" cy="109.2" r="0.9" fill="#0000cc" opacity="0.7"/><circle cx="503.1" cy="91.6" r="1.4" fill="#f30000" opacity="0.7"/><circle cx="468.3" cy="111.6" r="1.2" fill="#002fff" opacity="0.7"/><circle cx="440.0" cy="116.6" r="1.1" fill="#00ddff" opacity="0.7"/><circle cx="492.7" cy="116.8" r="1.8" fill="#8bff73" opacity="0.7"/><circle cx="402.9" cy="123.0" r="1.8" fill="#ff1d00" opacity="0.7"/><circle cx="446.2" cy="123.3" r="1.4" fill="#0000f2" opacity="0.7"/><circle cx="473.3" cy="106.6" r="1.3" fill="#00f0ff" opacity="0.7"/><circle cx="464.5" cy="132.5" r="1.1" fill="#28ffd6" opacity="0.7"/><circle cx="434.7" cy="134.9" r="1.3" fill="#ffa900" opacity="0.7"/><circle cx="506.1" cy="111.7" r="1.0" fill="#ffcf00" opacity="0.7"/><circle cx="441.7" cy="106.7" r="1.6" fill="#dfff1f" opacity="0.7"/><circle cx="497.4" cy="125.9" r="0.9" fill="#ff5e00" opacity="0.7"/><circle cx="477.6" cy="120.6" r="1.7" fill="#005fff" opacity="0.7"/><circle cx="479.3" cy="89.3" r="1.4" fill="#ef0000" opacity="0.7"/><circle cx="452.6" cy="128.1" r="1.8" fill="#000fff" opacity="0.7"/><circle cx="496.5" cy="114.0" r="1.3" fill="#97ff67" opacity="0.7"/><circle cx="454.9" cy="95.0" r="1.2" fill="#faff04" opacity="0.7"/><circle cx="490.9" cy="92.2" r="1.5" fill="#ef0000" opacity="0.7"/><circle cx="468.3" cy="94.7" r="1.0" fill="#ff2100" opacity="0.7"/><circle cx="439.5" cy="144.3" r="1.1" fill="#fff900" opacity="0.7"/><circle cx="452.2" cy="119.6" r="1.7" fill="#0000db" opacity="0.7"/><circle cx="416.9" cy="139.5" r="1.3" fill="#ff3d00" opacity="0.7"/><circle cx="447.7" cy="127.8" r="1.7" fill="#00adff" opacity="0.7"/><circle cx="461.7" cy="128.7" r="1.0" fill="#0000ae" opacity="0.7"/><circle cx="491.8" cy="97.8" r="1.4" fill="#f90000" opacity="0.7"/><circle cx="426.5" cy="108.4" r="1.4" fill="#ff8d00" opacity="0.7"/><circle cx="464.9" cy="110.9" r="1.4" fill="#0071ff" opacity="0.7"/><circle cx="503.9" cy="109.1" r="1.8" fill="#e9ff15" opacity="0.7"/><circle cx="441.7" cy="129.1" r="1.1" fill="#00fdff" opacity="0.7"/><circle cx="433.6" cy="131.1" r="1.0" fill="#daff24" opacity="0.7"/><circle cx="501.8" cy="110.3" r="1.5" fill="#ffec00" opacity="0.7"/><circle cx="454.4" cy="124.4" r="1.7" fill="#0000a8" opacity="0.7"/><circle cx="457.1" cy="116.7" r="1.1" fill="#0000cc" opacity="0.7"/><circle cx="493.1" cy="94.0" r="0.9" fill="#ff6800" opacity="0.7"/><circle cx="486.5" cy="121.5" r="1.4" fill="#37ffc7" opacity="0.7"/><circle cx="442.3" cy="96.9" r="1.6" fill="#ef0000" opacity="0.7"/><circle cx="413.8" cy="134.3" r="1.1" fill="#ff5800" opacity="0.7"/><circle cx="426.1" cy="119.6" r="1.6" fill="#f2ff0c" opacity="0.7"/><circle cx="472.5" cy="141.1" r="1.7" fill="#ffd200" opacity="0.7"/><circle cx="485.4" cy="109.5" r="1.2" fill="#a8ff56" opacity="0.7"/><circle cx="505.8" cy="130.9" r="1.1" fill="#ff9f00" opacity="0.7"/><circle cx="432.2" cy="89.2" r="1.2" fill="#ff6f00" opacity="0.7"/><circle cx="432.6" cy="95.8" r="1.3" fill="#ff3f00" opacity="0.7"/><circle cx="435.0" cy="104.8" r="1.7" fill="#fff000" opacity="0.7"/><circle cx="421.4" cy="138.7" r="1.7" fill="#ef0000" opacity="0.7"/><circle cx="475.7" cy="120.1" r="1.5" fill="#001dff" opacity="0.7"/><circle cx="513.2" cy="133.7" r="1.1" fill="#ffa100" opacity="0.7"/><circle cx="445.9" cy="134.4" r="1.2" fill="#deff20" opacity="0.7"/><circle cx="490.2" cy="143.7" r="1.4" fill="#ef0000" opacity="0.7"/><circle cx="470.5" cy="108.6" r="1.0" fill="#0041ff" opacity="0.7"/><circle cx="515.8" cy="126.8" r="1.0" fill="#ef0000" opacity="0.7"/><circle cx="511.1" cy="94.0" r="1.8" fill="#ff5200" opacity="0.7"/><circle cx="439.4" cy="139.5" r="1.0" fill="#ff9200" opacity="0.7"/><circle cx="482.6" cy="92.0" r="1.8" fill="#ef0000" opacity="0.7"/><circle cx="484.9" cy="138.5" r="1.6" fill="#ff9c00" opacity="0.7"/><circle cx="465.1" cy="92.6" r="1.4" fill="#ffa100" opacity="0.7"/><circle cx="444.9" cy="117.4" r="1.1" fill="#001eff" opacity="0.7"/><circle cx="487.3" cy="112.6" r="1.3" fill="#00c8ff" opacity="0.7"/><circle cx="469.5" cy="145.4" r="1.4" fill="#ff4400" opacity="0.7"/><circle cx="418.3" cy="105.7" r="1.7" fill="#ff9100" opacity="0.7"/><circle cx="514.0" cy="138.7" r="1.7" fill="#ef0000" opacity="0.7"/><circle cx="404.4" cy="116.9" r="1.5" fill="#ffa600" opacity="0.7"/><circle cx="476.2" cy="143.1" r="1.0" fill="#ffc100" opacity="0.7"/><circle cx="464.8" cy="144.6" r="1.7" fill="#ff2c00" opacity="0.7"/><circle cx="485.3" cy="118.7" r="1.4" fill="#0052ff" opacity="0.7"/><circle cx="493.6" cy="135.7" r="1.6" fill="#ff8700" opacity="0.7"/><circle cx="451.3" cy="107.8" r="1.2" fill="#00a6ff" opacity="0.7"/><circle cx="433.7" cy="122.6" r="1.5" fill="#00eaff" opacity="0.7"/><circle cx="457.0" cy="101.8" r="1.7" fill="#4effb0" opacity="0.7"/><circle cx="423.3" cy="96.8" r="1.6" fill="#ff2600" opacity="0.7"/><circle cx="442.3" cy="102.1" r="1.5" fill="#ff6f00" opacity="0.7"/><circle cx="433.5" cy="118.8" r="1.1" fill="#38ffc6" opacity="0.7"/><circle cx="430.1" cy="105.8" r="1.2" fill="#f10000" opacity="0.7"/><circle cx="489.9" cy="127.8" r="1.0" fill="#66ff98" opacity="0.7"/><circle cx="494.4" cy="102.4" r="1.1" fill="#ccff32" opacity="0.7"/><circle cx="452.1" cy="146.4" r="1.7" fill="#ff6600" opacity="0.7"/><circle cx="521.8" cy="110.8" r="1.0" fill="#ef0000" opacity="0.7"/><circle cx="497.5" cy="134.2" r="1.2" fill="#f8ff06" opacity="0.7"/><circle cx="436.7" cy="123.0" r="1.6" fill="#b4ff4a" opacity="0.7"/><circle cx="459.6" cy="136.3" r="1.2" fill="#ffe700" opacity="0.7"/><circle cx="419.4" cy="100.1" r="1.7" fill="#ff1900" opacity="0.7"/><circle cx="443.4" cy="142.9" r="1.8" fill="#ef0000" opacity="0.7"/><circle cx="425.3" cy="96.0" r="1.5" fill="#ef0000" opacity="0.7"/><circle cx="508.8" cy="130.9" r="1.2" fill="#ef0000" opacity="0.7"/><circle cx="416.5" cy="104.1" r="1.7" fill="#ff4600" opacity="0.7"/><circle cx="410.7" cy="98.9" r="1.2" fill="#ff3600" opacity="0.7"/><circle cx="424.1" cy="95.2" r="1.4" fill="#ff0900" opacity="0.7"/><circle cx="467.4" cy="121.5" r="1.8" fill="#0031ff" opacity="0.7"/><circle cx="411.9" cy="101.2" r="1.0" fill="#ffa000" opacity="0.7"/><circle cx="439.4" cy="132.9" r="1.0" fill="#ff8400" opacity="0.7"/><circle cx="442.0" cy="121.5" r="1.2" fill="#004cff" opacity="0.7"/><circle cx="497.9" cy="145.4" r="1.7" fill="#ffa900" opacity="0.7"/><circle cx="458.3" cy="99.3" r="1.7" fill="#ffcb00" opacity="0.7"/><circle cx="494.3" cy="111.6" r="1.1" fill="#b4ff4a" opacity="0.7"/><circle cx="491.1" cy="100.5" r="0.9" fill="#ff9d00" opacity="0.7"/><circle cx="428.6" cy="135.2" r="1.3" fill="#f5ff09" opacity="0.7"/><circle cx="438.8" cy="90.5" r="1.1" fill="#ff2200" opacity="0.7"/><circle cx="476.9" cy="109.8" r="1.2" fill="#0000ba" opacity="0.7"/><circle cx="445.1" cy="140.1" r="1.4" fill="#ff8b00" opacity="0.7"/><circle cx="452.5" cy="119.9" r="1.7" fill="#0000d7" opacity="0.7"/><circle cx="430.2" cy="143.2" r="1.7" fill="#ff0d00" opacity="0.7"/><circle cx="508.7" cy="97.6" r="1.2" fill="#b4ff4a" opacity="0.7"/><circle cx="422.7" cy="130.7" r="1.1" fill="#ff8500" opacity="0.7"/><circle cx="472.6" cy="97.3" r="1.0" fill="#ff7900" opacity="0.7"/><circle cx="485.2" cy="108.5" r="1.4" fill="#0fffef" opacity="0.7"/><circle cx="462.2" cy="142.4" r="0.9" fill="#f9ff05" opacity="0.7"/><circle cx="462.1" cy="103.9" r="1.4" fill="#18ffe6" opacity="0.7"/><circle cx="478.5" cy="115.3" r="1.3" fill="#0083ff" opacity="0.7"/><circle cx="479.6" cy="145.2" r="1.2" fill="#f10000" opacity="0.7"/><circle cx="455.6" cy="93.0" r="1.6" fill="#ff4b00" opacity="0.7"/><circle cx="498.6" cy="103.0" r="1.7" fill="#ffe800" opacity="0.7"/><circle cx="463.0" cy="113.1" r="1.3" fill="#0000a8" opacity="0.7"/><circle cx="460.3" cy="105.1" r="1.7" fill="#0095ff" opacity="0.7"/><circle cx="462.9" cy="108.2" r="1.7" fill="#003dff" opacity="0.7"/><circle cx="499.2" cy="145.7" r="1.7" fill="#ef0000" opacity="0.7"/><circle cx="484.9" cy="135.0" r="1.6" fill="#eaff14" opacity="0.7"/><circle cx="423.3" cy="136.1" r="1.2" fill="#ffea00" opacity="0.7"/><circle cx="431.5" cy="142.3" r="1.2" fill="#ef0000" opacity="0.7"/><circle cx="497.8" cy="124.0" r="1.7" fill="#eeff10" opacity="0.7"/><circle cx="514.8" cy="126.0" r="1.0" fill="#ef0000" opacity="0.7"/><circle cx="439.6" cy="99.0" r="1.5" fill="#ff6f00" opacity="0.7"/><circle cx="493.7" cy="146.1" r="1.6" fill="#ff4900" opacity="0.7"/><circle cx="495.0" cy="134.3" r="1.7" fill="#ffd900" opacity="0.7"/><circle cx="470.9" cy="143.7" r="1.2" fill="#ffb900" opacity="0.7"/><circle cx="444.8" cy="89.4" r="1.0" fill="#ff7e00" opacity="0.7"/><circle cx="498.3" cy="101.5" r="1.5" fill="#ffdd00" opacity="0.7"/><circle cx="464.4" cy="106.6" r="1.1" fill="#0000ed" opacity="0.7"/><circle cx="424.7" cy="126.2" r="1.2" fill="#dfff1f" opacity="0.7"/><circle cx="437.2" cy="144.2" r="1.5" fill="#f9ff05" opacity="0.7"/><circle cx="518.5" cy="133.7" r="1.4" fill="#ff4c00" opacity="0.7"/><circle cx="461.0" cy="90.1" r="1.7" fill="#ef0000" opacity="0.7"/><circle cx="466.8" cy="115.9" r="1.1" fill="#0026ff" opacity="0.7"/><circle cx="472.3" cy="102.2" r="1.2" fill="#00fdff" opacity="0.7"/><circle cx="445.0" cy="119.1" r="1.3" fill="#00a5ff" opacity="0.7"/><circle cx="451.2" cy="101.9" r="1.3" fill="#71ff8d" opacity="0.7"/><circle cx="454.4" cy="128.5" r="1.5" fill="#004bff" opacity="0.7"/><circle cx="432.4" cy="119.9" r="1.8" fill="#00c9ff" opacity="0.7"/><circle cx="465.9" cy="99.2" r="1.0" fill="#ffef00" opacity="0.7"/><circle cx="468.7" cy="104.1" r="1.5" fill="#00fffe" opacity="0.7"/><circle cx="489.9" cy="106.8" r="1.5" fill="#b5ff49" opacity="0.7"/><circle cx="457.3" cy="113.5" r="1.0" fill="#0000a8" opacity="0.7"/><circle cx="459.5" cy="144.3" r="1.0" fill="#ff4600" opacity="0.7"/><circle cx="434.6" cy="129.0" r="1.3" fill="#c8ff36" opacity="0.7"/><circle cx="417.5" cy="113.1" r="1.3" fill="#f5ff09" opacity="0.7"/><circle cx="480.6" cy="128.2" r="1.5" fill="#0082ff" opacity="0.7"/><circle cx="407.6" cy="129.9" r="1.3" fill="#ff0c00" opacity="0.7"/><circle cx="449.3" cy="115.6" r="1.0" fill="#003fff" opacity="0.7"/><circle cx="517.4" cy="138.3" r="1.2" fill="#ffab00" opacity="0.7"/><circle cx="438.8" cy="101.0" r="1.7" fill="#ffb800" opacity="0.7"/><circle cx="463.6" cy="112.2" r="1.1" fill="#0000a8" opacity="0.7"/><circle cx="497.7" cy="129.8" r="1.3" fill="#ff5300" opacity="0.7"/><circle cx="446.3" cy="113.8" r="1.5" fill="#0000db" opacity="0.7"/><circle cx="451.7" cy="105.9" r="1.6" fill="#26ffd8" opacity="0.7"/><circle cx="457.1" cy="115.9" r="1.2" fill="#0072ff" opacity="0.7"/><circle cx="497.1" cy="111.7" r="1.5" fill="#94ff6a" opacity="0.7"/><circle cx="491.7" cy="105.5" r="1.5" fill="#e9ff15" opacity="0.7"/><circle cx="482.9" cy="113.7" r="1.5" fill="#0000a8" opacity="0.7"/><circle cx="429.3" cy="133.5" r="1.2" fill="#42ffbc" opacity="0.7"/><circle cx="488.1" cy="89.0" r="1.3" fill="#ff6900" opacity="0.7"/><circle cx="494.7" cy="103.3" r="1.3" fill="#fff500" opacity="0.7"/><circle cx="472.5" cy="136.5" r="1.7" fill="#9cff62" opacity="0.7"/><circle cx="449.3" cy="122.8" r="1.6" fill="#0004ff" opacity="0.7"/><circle cx="472.0" cy="102.8" r="1.5" fill="#0097ff" opacity="0.7"/><circle cx="469.9" cy="120.1" r="1.6" fill="#005aff" opacity="0.7"/><circle cx="441.3" cy="130.9" r="1.8" fill="#66ff98" opacity="0.7"/><circle cx="435.2" cy="121.5" r="1.1" fill="#00c7ff" opacity="0.7"/><circle cx="477.7" cy="140.7" r="1.5" fill="#ffc000" opacity="0.7"/><circle cx="437.0" cy="135.6" r="1.4" fill="#fff000" opacity="0.7"/><circle cx="457.7" cy="119.3" r="1.8" fill="#0041ff" opacity="0.7"/><circle cx="470.9" cy="144.3" r="1.0" fill="#ffc600" opacity="0.7"/><circle cx="438.3" cy="128.8" r="1.5" fill="#e6ff18" opacity="0.7"/><circle cx="502.2" cy="110.4" r="1.4" fill="#ffd400" opacity="0.7"/><circle cx="404.9" cy="110.1" r="1.5" fill="#ef0000" opacity="0.7"/><circle cx="420.0" cy="106.4" r="1.1" fill="#ef0000" opacity="0.7"/><circle cx="423.5" cy="94.9" r="1.0" fill="#ffce00" opacity="0.7"/><circle cx="498.1" cy="131.6" r="1.5" fill="#ffc800" opacity="0.7"/><circle cx="506.0" cy="100.5" r="1.5" fill="#ef0000" opacity="0.7"/><circle cx="486.6" cy="107.9" r="1.3" fill="#6fff8f" opacity="0.7"/><circle cx="440.0" cy="114.1" r="1.6" fill="#00b3ff" opacity="0.7"/><circle cx="471.0" cy="123.9" r="1.1" fill="#0069ff" opacity="0.7"/><circle cx="477.0" cy="96.9" r="1.8" fill="#ffbd00" opacity="0.7"/><circle cx="443.3" cy="114.0" r="1.7" fill="#0000d4" opacity="0.7"/><circle cx="483.9" cy="98.1" r="1.2" fill="#ff6200" opacity="0.7"/><circle cx="487.5" cy="100.7" r="1.1" fill="#ff2f00" opacity="0.7"/><circle cx="446.1" cy="101.5" r="1.5" fill="#84ff7a" opacity="0.7"/><circle cx="407.7" cy="129.0" r="1.4" fill="#ef0000" opacity="0.7"/><circle cx="472.6" cy="93.6" r="0.9" fill="#ff2400" opacity="0.7"/><circle cx="444.7" cy="146.1" r="1.0" fill="#ffc700" opacity="0.7"/><circle cx="486.3" cy="98.4" r="1.1" fill="#d9ff25" opacity="0.7"/><circle cx="482.7" cy="129.0" r="1.2" fill="#00eeff" opacity="0.7"/><circle cx="469.9" cy="109.0" r="1.2" fill="#0085ff" opacity="0.7"/><circle cx="432.1" cy="105.2" r="1.2" fill="#ffcd00" opacity="0.7"/><circle cx="473.6" cy="103.9" r="1.0" fill="#42ffbc" opacity="0.7"/><circle cx="504.4" cy="115.7" r="1.7" fill="#dbff23" opacity="0.7"/><circle cx="493.2" cy="124.7" r="1.5" fill="#42ffbc" opacity="0.7"/><circle cx="485.8" cy="117.5" r="1.4" fill="#000fff" opacity="0.7"/><circle cx="458.7" cy="119.2" r="1.4" fill="#0058ff" opacity="0.7"/><circle cx="497.4" cy="140.7" r="1.2" fill="#ff2500" opacity="0.7"/><circle cx="405.9" cy="135.0" r="1.5" fill="#ff0e00" opacity="0.7"/><circle cx="436.5" cy="99.3" r="1.5" fill="#ff1b00" opacity="0.7"/><circle cx="485.7" cy="131.9" r="1.3" fill="#00fbff" opacity="0.7"/><circle cx="450.1" cy="120.6" r="1.7" fill="#00f7ff" opacity="0.7"/><circle cx="503.1" cy="92.4" r="1.1" fill="#fffa00" opacity="0.7"/><circle cx="519.5" cy="120.1" r="1.7" fill="#ff7b00" opacity="0.7"/><circle cx="464.5" cy="146.4" r="1.0" fill="#ff3b00" opacity="0.7"/><circle cx="419.9" cy="111.0" r="1.4" fill="#ffa000" opacity="0.7"/><circle cx="515.7" cy="113.7" r="1.6" fill="#ff5c00" opacity="0.7"/><circle cx="473.6" cy="122.4" r="1.7" fill="#0058ff" opacity="0.7"/><circle cx="483.6" cy="100.8" r="1.3" fill="#ff7700" opacity="0.7"/><circle cx="467.8" cy="107.9" r="0.9" fill="#0000b5" opacity="0.7"/><circle cx="428.6" cy="126.7" r="1.1" fill="#ddff21" opacity="0.7"/><circle cx="410.8" cy="133.0" r="1.4" fill="#ffa400" opacity="0.7"/><circle cx="414.3" cy="125.6" r="1.1" fill="#ef0000" opacity="0.7"/><circle cx="500.5" cy="130.7" r="0.9" fill="#ffb100" opacity="0.7"/><circle cx="498.5" cy="96.3" r="1.1" fill="#ff4600" opacity="0.7"/><circle cx="459.3" cy="144.5" r="1.6" fill="#ff7e00" opacity="0.7"/><circle cx="424.3" cy="125.5" r="1.5" fill="#ff7900" opacity="0.7"/><circle cx="470.1" cy="110.6" r="1.5" fill="#0048ff" opacity="0.7"/><circle cx="424.4" cy="117.2" r="1.8" fill="#e4ff1a" opacity="0.7"/><circle cx="431.0" cy="104.5" r="1.0" fill="#ff3700" opacity="0.7"/><circle cx="424.6" cy="102.0" r="1.2" fill="#ff9c00" opacity="0.7"/><circle cx="504.2" cy="129.3" r="1.5" fill="#ff0c00" opacity="0.7"/><circle cx="448.4" cy="130.3" r="1.3" fill="#0afff4" opacity="0.7"/><circle cx="409.1" cy="117.0" r="0.9" fill="#ff8100" opacity="0.7"/><circle cx="446.9" cy="107.5" r="1.0" fill="#61ff9d" opacity="0.7"/><circle cx="473.7" cy="142.0" r="1.3" fill="#ff6d00" opacity="0.7"/><circle cx="494.7" cy="121.3" r="1.1" fill="#b2ff4c" opacity="0.7"/><circle cx="424.9" cy="130.8" r="0.9" fill="#ef0000" opacity="0.7"/><circle cx="424.9" cy="115.6" r="1.7" fill="#ff7500" opacity="0.7"/><circle cx="477.0" cy="132.0" r="0.9" fill="#34ffca" opacity="0.7"/><circle cx="501.9" cy="96.7" r="1.0" fill="#ffc600" opacity="0.7"/><circle cx="508.1" cy="110.5" r="1.7" fill="#ff6200" opacity="0.7"/><circle cx="474.8" cy="142.1" r="0.9" fill="#ff7700" opacity="0.7"/><circle cx="415.6" cy="104.9" r="1.1" fill="#ff1100" opacity="0.7"/><circle cx="479.5" cy="97.9" r="1.1" fill="#ff9200" opacity="0.7"/><circle cx="466.8" cy="110.2" r="1.4" fill="#006eff" opacity="0.7"/><circle cx="449.0" cy="116.0" r="0.9" fill="#0088ff" opacity="0.7"/><circle cx="476.4" cy="99.4" r="1.7" fill="#ffe900" opacity="0.7"/><circle cx="473.1" cy="111.1" r="1.4" fill="#0033ff" opacity="0.7"/><circle cx="448.4" cy="129.8" r="1.7" fill="#009eff" opacity="0.7"/><circle cx="406.9" cy="104.8" r="1.2" fill="#ef0000" opacity="0.7"/><circle cx="492.8" cy="134.3" r="1.1" fill="#f1ff0d" opacity="0.7"/><circle cx="449.6" cy="138.3" r="1.6" fill="#51ffad" opacity="0.7"/><circle cx="491.6" cy="139.1" r="1.8" fill="#ffca00" opacity="0.7"/><circle cx="510.7" cy="122.0" r="1.7" fill="#ff0d00" opacity="0.7"/><circle cx="481.4" cy="144.7" r="1.4" fill="#f60000" opacity="0.7"/><circle cx="417.9" cy="134.1" r="1.0" fill="#ef0000" opacity="0.7"/><circle cx="478.1" cy="104.5" r="1.1" fill="#01fffd" opacity="0.7"/><circle cx="456.1" cy="138.6" r="1.8" fill="#ff5f00" opacity="0.7"/><circle cx="433.8" cy="109.6" r="1.7" fill="#a6ff58" opacity="0.7"/><circle cx="426.0" cy="120.8" r="1.2" fill="#deff20" opacity="0.7"/><circle cx="402.2" cy="107.4" r="1.5" fill="#ff5500" opacity="0.7"/><circle cx="409.9" cy="130.2" r="1.1" fill="#ef0000" opacity="0.7"/><circle cx="460.3" cy="130.6" r="1.3" fill="#14ffea" opacity="0.7"/><circle cx="440.4" cy="111.5" r="1.2" fill="#0070ff" opacity="0.7"/><circle cx="491.7" cy="115.3" r="1.6" fill="#13ffeb" opacity="0.7"/><circle cx="519.0" cy="100.0" r="1.5" fill="#ff5900" opacity="0.7"/><circle cx="452.1" cy="98.8" r="1.5" fill="#ffe900" opacity="0.7"/><circle cx="457.6" cy="136.6" r="1.5" fill="#42ffbc" opacity="0.7"/><circle cx="468.3" cy="138.5" r="1.5" fill="#f8ff06" opacity="0.7"/><circle cx="409.7" cy="119.4" r="1.0" fill="#fe0000" opacity="0.7"/><circle cx="475.0" cy="136.6" r="1.5" fill="#d6ff28" opacity="0.7"/><circle cx="490.2" cy="140.2" r="1.4" fill="#ff3b00" opacity="0.7"/><circle cx="472.4" cy="138.9" r="1.2" fill="#adff51" opacity="0.7"/><circle cx="495.7" cy="125.3" r="1.3" fill="#00b4ff" opacity="0.7"/><circle cx="403.3" cy="116.1" r="1.4" fill="#ff2f00" opacity="0.7"/><circle cx="463.8" cy="91.5" r="1.0" fill="#ef0000" opacity="0.7"/><circle cx="475.4" cy="128.2" r="1.2" fill="#00f8ff" opacity="0.7"/><circle cx="457.1" cy="117.8" r="1.6" fill="#001fff" opacity="0.7"/><circle cx="449.7" cy="142.3" r="1.3" fill="#ffdd00" opacity="0.7"/><circle cx="445.2" cy="147.0" r="0.9" fill="#ff1900" opacity="0.7"/><circle cx="450.4" cy="92.7" r="1.0" fill="#ff6600" opacity="0.7"/><circle cx="453.2" cy="123.5" r="1.6" fill="#0000f8" opacity="0.7"/><circle cx="455.8" cy="105.4" r="1.1" fill="#0073ff" opacity="0.7"/><circle cx="460.4" cy="95.8" r="1.0" fill="#ff1800" opacity="0.7"/><circle cx="509.7" cy="132.2" r="1.1" fill="#ef0000" opacity="0.7"/><circle cx="456.0" cy="123.7" r="0.9" fill="#005fff" opacity="0.7"/><circle cx="515.2" cy="107.8" r="1.0" fill="#ef0000" opacity="0.7"/><circle cx="406.5" cy="126.5" r="1.3" fill="#ef0000" opacity="0.7"/><circle cx="511.0" cy="134.7" r="1.4" fill="#ff1b00" opacity="0.7"/><circle cx="458.9" cy="105.8" r="1.7" fill="#00daff" opacity="0.7"/><circle cx="427.2" cy="126.0" r="1.8" fill="#ff0700" opacity="0.7"/><circle cx="476.8" cy="106.9" r="1.6" fill="#3affc4" opacity="0.7"/><circle cx="511.3" cy="134.9" r="1.0" fill="#ef0000" opacity="0.7"/><circle cx="468.1" cy="144.1" r="1.7" fill="#ff4900" opacity="0.7"/><circle cx="432.1" cy="120.6" r="1.6" fill="#40ffbe" opacity="0.7"/><circle cx="493.9" cy="107.9" r="1.3" fill="#ffcf00" opacity="0.7"/><circle cx="486.3" cy="130.9" r="1.0" fill="#30ffce" opacity="0.7"/><circle cx="422.5" cy="136.8" r="1.3" fill="#ff1900" opacity="0.7"/><circle cx="480.0" cy="109.5" r="1.8" fill="#006bff" opacity="0.7"/><circle cx="475.3" cy="95.6" r="1.5" fill="#ff7700" opacity="0.7"/><circle cx="474.3" cy="124.2" r="1.7" fill="#0038ff" opacity="0.7"/><circle cx="519.3" cy="112.0" r="1.5" fill="#ffae00" opacity="0.7"/><circle cx="447.3" cy="112.2" r="1.2" fill="#0000d2" opacity="0.7"/><circle cx="444.6" cy="138.0" r="1.6" fill="#ff5500" opacity="0.7"/><circle cx="483.8" cy="137.8" r="1.1" fill="#cbff33" opacity="0.7"/><circle cx="440.2" cy="93.9" r="1.6" fill="#ef0000" opacity="0.7"/><circle cx="513.5" cy="105.9" r="1.0" fill="#ff4800" opacity="0.7"/><circle cx="479.2" cy="140.6" r="1.0" fill="#ff8500" opacity="0.7"/><circle cx="432.8" cy="132.8" r="1.2" fill="#ffa600" opacity="0.7"/><circle cx="459.3" cy="99.9" r="1.2" fill="#ff5000" opacity="0.7"/><circle cx="453.4" cy="104.4" r="1.5" fill="#27ffd7" opacity="0.7"/><circle cx="499.1" cy="107.2" r="1.1" fill="#ffe000" opacity="0.7"/><circle cx="497.9" cy="123.6" r="1.4" fill="#ffb900" opacity="0.7"/><circle cx="440.6" cy="90.1" r="1.3" fill="#ff1900" opacity="0.7"/><circle cx="444.8" cy="145.4" r="1.7" fill="#ffb600" opacity="0.7"/><circle cx="471.5" cy="95.4" r="1.6" fill="#f80000" opacity="0.7"/><circle cx="412.9" cy="120.9" r="1.3" fill="#ff1f00" opacity="0.7"/><circle cx="471.9" cy="140.9" r="1.8" fill="#ff9b00" opacity="0.7"/><circle cx="493.7" cy="126.1" r="1.5" fill="#00cdff" opacity="0.7"/><circle cx="421.1" cy="119.3" r="1.3" fill="#ff9800" opacity="0.7"/><circle cx="464.4" cy="130.1" r="1.6" fill="#0030ff" opacity="0.7"/><circle cx="501.9" cy="93.5" r="1.0" fill="#ff9e00" opacity="0.7"/><circle cx="518.0" cy="106.3" r="1.4" fill="#ff8d00" opacity="0.7"/><circle cx="435.8" cy="133.9" r="1.2" fill="#ffa100" opacity="0.7"/><circle cx="504.3" cy="135.4" r="1.0" fill="#ef0000" opacity="0.7"/><circle cx="434.3" cy="133.4" r="1.4" fill="#ffc800" opacity="0.7"/><circle cx="482.7" cy="112.4" r="1.3" fill="#0025ff" opacity="0.7"/><circle cx="433.1" cy="127.9" r="1.0" fill="#dbff23" opacity="0.7"/><circle cx="418.6" cy="99.7" r="0.9" fill="#ffa700" opacity="0.7"/><circle cx="448.0" cy="97.4" r="1.6" fill="#ffd100" opacity="0.7"/><circle cx="493.5" cy="136.3" r="1.0" fill="#ff6600" opacity="0.7"/><circle cx="421.9" cy="101.6" r="1.7" fill="#ff4d00" opacity="0.7"/><circle cx="512.1" cy="116.0" r="1.1" fill="#ff2600" opacity="0.7"/><circle cx="480.5" cy="130.5" r="1.6" fill="#61ff9d" opacity="0.7"/><circle cx="454.9" cy="115.0" r="1.3" fill="#0000d1" opacity="0.7"/><circle cx="484.9" cy="130.0" r="1.2" fill="#4effb0" opacity="0.7"/><circle cx="470.6" cy="96.6" r="1.2" fill="#ff5e00" opacity="0.7"/><circle cx="453.5" cy="143.6" r="1.7" fill="#ff4a00" opacity="0.7"/><circle cx="405.7" cy="106.7" r="1.0" fill="#ff5f00" opacity="0.7"/><circle cx="473.4" cy="137.5" r="1.2" fill="#ffaa00" opacity="0.7"/><circle cx="423.3" cy="94.2" r="1.1" fill="#ef0000" opacity="0.7"/><circle cx="489.6" cy="134.7" r="1.0" fill="#ffc200" opacity="0.7"/><circle cx="424.9" cy="106.6" r="1.2" fill="#ff8e00" opacity="0.7"/><circle cx="456.7" cy="109.0" r="1.3" fill="#0000a8" opacity="0.7"/><circle cx="498.0" cy="103.4" r="1.4" fill="#ff5400" opacity="0.7"/><circle cx="426.3" cy="135.5" r="1.0" fill="#ceff30" opacity="0.7"/><circle cx="438.6" cy="114.1" r="1.1" fill="#58ffa6" opacity="0.7"/><circle cx="510.6" cy="139.1" r="1.4" fill="#ffa600" opacity="0.7"/><circle cx="408.1" cy="104.9" r="1.7" fill="#ff3f00" opacity="0.7"/><circle cx="474.0" cy="136.4" r="1.0" fill="#ffc300" opacity="0.7"/><circle cx="431.7" cy="131.1" r="1.0" fill="#fff600" opacity="0.7"/><circle cx="408.2" cy="112.3" r="1.4" fill="#ef0000" opacity="0.7"/><circle cx="450.4" cy="121.3" r="1.5" fill="#0024ff" opacity="0.7"/><circle cx="442.6" cy="117.0" r="1.2" fill="#0063ff" opacity="0.7"/><circle cx="434.7" cy="91.1" r="1.0" fill="#ff3c00" opacity="0.7"/><circle cx="405.6" cy="116.4" r="0.9" fill="#ef0000" opacity="0.7"/><circle cx="508.4" cy="109.3" r="0.9" fill="#ffe500" opacity="0.7"/><circle cx="414.3" cy="134.3" r="1.4" fill="#f70000" opacity="0.7"/><circle cx="461.7" cy="108.3" r="1.6" fill="#0029ff" opacity="0.7"/><circle cx="503.1" cy="140.7" r="1.6" fill="#ff9c00" opacity="0.7"/><circle cx="483.5" cy="115.2" r="1.4" fill="#0000b5" opacity="0.7"/><circle cx="501.1" cy="138.6" r="0.9" fill="#ff4a00" opacity="0.7"/><circle cx="493.0" cy="124.4" r="0.9" fill="#008dff" opacity="0.7"/><circle cx="459.5" cy="110.1" r="1.8" fill="#0000b3" opacity="0.7"/><circle cx="421.9" cy="121.2" r="1.3" fill="#ff5100" opacity="0.7"/><circle cx="491.0" cy="106.1" r="1.7" fill="#ff8d00" opacity="0.7"/><circle cx="490.7" cy="139.9" r="1.0" fill="#ff5a00" opacity="0.7"/><circle cx="487.8" cy="131.2" r="1.0" fill="#4affb4" opacity="0.7"/><circle cx="515.1" cy="119.1" r="1.2" fill="#ef0000" opacity="0.7"/><circle cx="414.6" cy="140.2" r="1.7" fill="#ff0b00" opacity="0.7"/><circle cx="417.0" cy="114.3" r="1.0" fill="#ff8700" opacity="0.7"/><circle cx="442.4" cy="112.2" r="1.3" fill="#4dffb1" opacity="0.7"/><circle cx="454.7" cy="123.2" r="1.7" fill="#00eeff" opacity="0.7"/><circle cx="502.3" cy="101.5" r="1.1" fill="#ffab00" opacity="0.7"/><circle cx="457.6" cy="126.0" r="1.8" fill="#0000e4" opacity="0.7"/><circle cx="439.8" cy="89.1" r="1.0" fill="#ff5e00" opacity="0.7"/><circle cx="427.3" cy="131.1" r="1.1" fill="#ff9f00" opacity="0.7"/><circle cx="431.3" cy="134.4" r="1.7" fill="#ffc200" opacity="0.7"/><circle cx="433.9" cy="94.0" r="1.5" fill="#ef0000" opacity="0.7"/><circle cx="459.2" cy="132.1" r="1.6" fill="#00c2ff" opacity="0.7"/><circle cx="463.6" cy="104.0" r="1.2" fill="#0096ff" opacity="0.7"/><circle cx="479.4" cy="96.7" r="1.8" fill="#ffc400" opacity="0.7"/><circle cx="427.6" cy="101.4" r="1.7" fill="#ef0000" opacity="0.7"/><circle cx="503.8" cy="138.1" r="1.6" fill="#ff6100" opacity="0.7"/><circle cx="470.6" cy="92.4" r="1.7" fill="#ff6d00" opacity="0.7"/><circle cx="490.4" cy="116.8" r="1.7" fill="#005cff" opacity="0.7"/><circle cx="521.9" cy="114.4" r="1.5" fill="#ff6700" opacity="0.7"/><circle cx="446.5" cy="125.7" r="1.0" fill="#0000f0" opacity="0.7"/><circle cx="510.9" cy="130.7" r="1.1" fill="#ff1400" opacity="0.7"/><circle cx="456.6" cy="128.2" r="1.4" fill="#0000c7" opacity="0.7"/><circle cx="450.1" cy="102.4" r="1.3" fill="#94ff6a" opacity="0.7"/><circle cx="486.1" cy="141.9" r="1.5" fill="#ff1500" opacity="0.7"/><circle cx="475.7" cy="131.2" r="1.2" fill="#00c9ff" opacity="0.7"/><circle cx="410.6" cy="127.2" r="0.9" fill="#ff6200" opacity="0.7"/><circle cx="484.4" cy="141.8" r="1.6" fill="#ffac00" opacity="0.7"/><circle cx="518.1" cy="135.9" r="1.8" fill="#ff9c00" opacity="0.7"/><circle cx="457.6" cy="88.9" r="1.7" fill="#ff9100" opacity="0.7"/><circle cx="476.1" cy="109.4" r="0.9" fill="#0000e4" opacity="0.7"/><circle cx="502.5" cy="124.9" r="1.7" fill="#ff4500" opacity="0.7"/><circle cx="495.4" cy="146.5" r="1.3" fill="#ff3000" opacity="0.7"/><circle cx="510.6" cy="111.4" r="1.2" fill="#ff0c00" opacity="0.7"/><circle cx="522.1" cy="111.3" r="1.1" fill="#ff1d00" opacity="0.7"/><circle cx="485.6" cy="93.7" r="1.0" fill="#ff6500" opacity="0.7"/><circle cx="474.4" cy="113.0" r="1.6" fill="#007fff" opacity="0.7"/><circle cx="443.1" cy="145.7" r="1.1" fill="#f80000" opacity="0.7"/><circle cx="403.7" cy="105.8" r="1.7" fill="#ef0000" opacity="0.7"/><circle cx="437.3" cy="116.8" r="1.4" fill="#00cdff" opacity="0.7"/><circle cx="409.9" cy="108.6" r="1.2" fill="#ff2f00" opacity="0.7"/><circle cx="500.7" cy="133.4" r="1.7" fill="#ffab00" opacity="0.7"/><circle cx="491.7" cy="91.3" r="1.0" fill="#ffa600" opacity="0.7"/><circle cx="492.5" cy="137.6" r="1.0" fill="#ef0000" opacity="0.7"/><circle cx="470.6" cy="124.8" r="1.4" fill="#001eff" opacity="0.7"/><circle cx="463.8" cy="103.9" r="1.0" fill="#7aff84" opacity="0.7"/><circle cx="483.0" cy="103.3" r="1.1" fill="#a7ff57" opacity="0.7"/><circle cx="438.6" cy="123.8" r="1.7" fill="#00e2ff" opacity="0.7"/><circle cx="513.5" cy="102.9" r="1.6" fill="#ef0000" opacity="0.7"/><circle cx="412.9" cy="122.3" r="1.8" fill="#ff1600" opacity="0.7"/><circle cx="417.3" cy="130.3" r="1.4" fill="#ff2a00" opacity="0.7"/><circle cx="501.0" cy="117.3" r="1.5" fill="#fcff02" opacity="0.7"/><circle cx="406.7" cy="119.0" r="1.7" fill="#ff1b00" opacity="0.7"/><circle cx="484.0" cy="94.9" r="1.2" fill="#ff7e00" opacity="0.7"/><circle cx="495.4" cy="122.1" r="1.3" fill="#00bbff" opacity="0.7"/><circle cx="465.6" cy="104.3" r="1.2" fill="#00e8ff" opacity="0.7"/><circle cx="495.3" cy="109.6" r="1.1" fill="#ff4c00" opacity="0.7"/><circle cx="492.9" cy="145.9" r="1.0" fill="#ff4200" opacity="0.7"/><circle cx="408.0" cy="124.1" r="1.5" fill="#ff3700" opacity="0.7"/><circle cx="517.6" cy="105.5" r="1.0" fill="#ff1c00" opacity="0.7"/><circle cx="405.5" cy="117.1" r="1.3" fill="#ef0000" opacity="0.7"/><circle cx="446.5" cy="144.1" r="1.4" fill="#ff8d00" opacity="0.7"/><circle cx="475.7" cy="139.6" r="0.9" fill="#ff1300" opacity="0.7"/><circle cx="486.9" cy="101.7" r="1.6" fill="#daff24" opacity="0.7"/><circle cx="431.6" cy="97.2" r="1.8" fill="#fff200" opacity="0.7"/><circle cx="467.5" cy="91.0" r="1.0" fill="#ffd400" opacity="0.7"/><circle cx="437.7" cy="90.5" r="1.7" fill="#ef0000" opacity="0.7"/><circle cx="444.8" cy="92.9" r="1.3" fill="#ff6500" opacity="0.7"/><circle cx="476.5" cy="126.8" r="1.0" fill="#0059ff" opacity="0.7"/><circle cx="466.7" cy="91.3" r="1.1" fill="#fff000" opacity="0.7"/><circle cx="501.5" cy="102.4" r="1.3" fill="#ff2600" opacity="0.7"/><circle cx="469.0" cy="119.7" r="1.5" fill="#0000f6" opacity="0.7"/><circle cx="429.1" cy="99.7" r="1.3" fill="#b4ff4a" opacity="0.7"/><circle cx="436.0" cy="120.6" r="1.3" fill="#9eff60" opacity="0.7"/><circle cx="515.2" cy="138.1" r="1.7" fill="#ef0000" opacity="0.7"/><circle cx="449.2" cy="146.1" r="1.7" fill="#ef0000" opacity="0.7"/><circle cx="499.2" cy="123.8" r="1.3" fill="#ff5f00" opacity="0.7"/><circle cx="415.9" cy="125.9" r="1.4" fill="#ff2f00" opacity="0.7"/><circle cx="479.9" cy="135.3" r="1.6" fill="#fff800" opacity="0.7"/><circle cx="418.6" cy="105.9" r="0.9" fill="#fb0000" opacity="0.7"/><circle cx="507.0" cy="128.2" r="1.6" fill="#ff1e00" opacity="0.7"/><circle cx="461.1" cy="141.8" r="1.6" fill="#ff4a00" opacity="0.7"/><circle cx="428.1" cy="108.4" r="1.0" fill="#8dff71" opacity="0.7"/><circle cx="494.5" cy="115.9" r="1.3" fill="#96ff68" opacity="0.7"/><circle cx="493.6" cy="140.1" r="1.7" fill="#ff5700" opacity="0.7"/><circle cx="434.9" cy="124.4" r="1.8" fill="#d3ff2b" opacity="0.7"/><circle cx="463.2" cy="96.6" r="1.4" fill="#ff8900" opacity="0.7"/><circle cx="409.9" cy="115.2" r="1.6" fill="#ef0000" opacity="0.7"/><circle cx="491.5" cy="138.4" r="1.3" fill="#ff4c00" opacity="0.7"/><circle cx="455.4" cy="91.2" r="1.3" fill="#ff1a00" opacity="0.7"/><circle cx="419.6" cy="115.1" r="1.0" fill="#d9ff25" opacity="0.7"/><circle cx="453.4" cy="96.1" r="1.7" fill="#ff6f00" opacity="0.7"/><circle cx="469.0" cy="97.4" r="1.1" fill="#b2ff4c" opacity="0.7"/><circle cx="503.6" cy="122.5" r="0.9" fill="#d8ff26" opacity="0.7"/><circle cx="426.2" cy="113.5" r="1.7" fill="#b1ff4d" opacity="0.7"/><circle cx="516.2" cy="122.9" r="1.4" fill="#ff3400" opacity="0.7"/><circle cx="451.5" cy="142.9" r="1.1" fill="#ff5000" opacity="0.7"/><circle cx="507.4" cy="97.1" r="1.1" fill="#ef0000" opacity="0.7"/><circle cx="476.4" cy="141.8" r="1.6" fill="#ff7c00" opacity="0.7"/><circle cx="435.9" cy="123.8" r="1.1" fill="#11ffed" opacity="0.7"/><circle cx="507.2" cy="128.0" r="1.7" fill="#ef0000" opacity="0.7"/><circle cx="443.8" cy="144.3" r="1.5" fill="#ff7800" opacity="0.7"/><circle cx="439.6" cy="94.7" r="0.9" fill="#ff6d00" opacity="0.7"/><circle cx="475.9" cy="102.3" r="1.0" fill="#fff800" opacity="0.7"/><circle cx="493.3" cy="104.1" r="1.2" fill="#ff6900" opacity="0.7"/><circle cx="514.8" cy="136.9" r="1.4" fill="#ef0000" opacity="0.7"/><circle cx="515.2" cy="124.7" r="1.4" fill="#d1ff2d" opacity="0.7"/><circle cx="441.2" cy="110.4" r="1.5" fill="#00dfff" opacity="0.7"/><circle cx="506.5" cy="130.5" r="1.1" fill="#ff8a00" opacity="0.7"/><circle cx="405.4" cy="109.6" r="1.4" fill="#ffd800" opacity="0.7"/><circle cx="464.7" cy="123.7" r="1.4" fill="#0070ff" opacity="0.7"/><circle cx="484.1" cy="120.9" r="1.0" fill="#0000ee" opacity="0.7"/><circle cx="455.2" cy="140.3" r="1.8" fill="#ffd600" opacity="0.7"/><circle cx="437.5" cy="121.9" r="1.1" fill="#00b7ff" opacity="0.7"/><circle cx="497.5" cy="93.0" r="1.1" fill="#ff3000" opacity="0.7"/><circle cx="435.7" cy="100.0" r="1.4" fill="#ff9500" opacity="0.7"/><circle cx="422.8" cy="125.9" r="1.4" fill="#ff8a00" opacity="0.7"/><circle cx="477.6" cy="116.3" r="1.3" fill="#0000ed" opacity="0.7"/><circle cx="485.3" cy="100.7" r="1.6" fill="#f3ff0b" opacity="0.7"/><circle cx="472.8" cy="145.5" r="1.6" fill="#ff9f00" opacity="0.7"/><circle cx="436.9" cy="110.0" r="1.3" fill="#00f2ff" opacity="0.7"/><circle cx="490.9" cy="130.4" r="1.8" fill="#ffc900" opacity="0.7"/><circle cx="462.0" cy="146.7" r="1.5" fill="#ef0000" opacity="0.7"/><circle cx="448.5" cy="93.1" r="1.5" fill="#ef0000" opacity="0.7"/><circle cx="476.5" cy="134.2" r="1.3" fill="#68ff96" opacity="0.7"/><circle cx="491.8" cy="123.6" r="1.5" fill="#00e5ff" opacity="0.7"/><circle cx="469.8" cy="93.3" r="1.5" fill="#ffce00" opacity="0.7"/><circle cx="487.1" cy="113.2" r="1.0" fill="#3effc0" opacity="0.7"/><circle cx="463.9" cy="109.1" r="1.0" fill="#0015ff" opacity="0.7"/><circle cx="509.5" cy="98.5" r="1.4" fill="#ff3200" opacity="0.7"/><circle cx="456.3" cy="125.6" r="1.3" fill="#0000f1" opacity="0.7"/><circle cx="421.8" cy="109.0" r="1.0" fill="#b7ff47" opacity="0.7"/><circle cx="467.2" cy="115.8" r="1.4" fill="#006bff" opacity="0.7"/><circle cx="497.9" cy="123.4" r="1.4" fill="#60ff9e" opacity="0.7"/><circle cx="434.8" cy="120.3" r="1.7" fill="#fffe00" opacity="0.7"/><circle cx="407.6" cy="126.2" r="1.0" fill="#ff7700" opacity="0.7"/><circle cx="430.0" cy="113.8" r="1.3" fill="#d7ff27" opacity="0.7"/><circle cx="474.8" cy="104.0" r="1.6" fill="#00e7ff" opacity="0.7"/><circle cx="499.3" cy="102.0" r="1.8" fill="#ffc600" opacity="0.7"/><circle cx="468.1" cy="107.8" r="1.3" fill="#002eff" opacity="0.7"/><circle cx="484.7" cy="103.1" r="1.7" fill="#ff7300" opacity="0.7"/><circle cx="434.0" cy="139.3" r="1.4" fill="#ffba00" opacity="0.7"/><circle cx="465.3" cy="120.3" r="1.4" fill="#004bff" opacity="0.7"/><circle cx="516.9" cy="131.8" r="0.9" fill="#ef0000" opacity="0.7"/><circle cx="408.4" cy="136.3" r="1.1" fill="#ef0000" opacity="0.7"/><circle cx="461.9" cy="137.8" r="0.9" fill="#ffb900" opacity="0.7"/><circle cx="408.5" cy="106.6" r="1.3" fill="#ff1c00" opacity="0.7"/><circle cx="519.2" cy="126.2" r="1.7" fill="#ef0000" opacity="0.7"/><circle cx="483.5" cy="102.2" r="1.2" fill="#9cff62" opacity="0.7"/><circle cx="460.0" cy="94.5" r="1.1" fill="#ff3700" opacity="0.7"/><circle cx="461.5" cy="135.5" r="1.1" fill="#26ffd8" opacity="0.7"/><circle cx="473.1" cy="93.4" r="1.4" fill="#ff6600" opacity="0.7"/><circle cx="485.2" cy="101.4" r="1.5" fill="#ff9c00" opacity="0.7"/><circle cx="472.9" cy="132.3" r="1.8" fill="#71ff8d" opacity="0.7"/><circle cx="457.1" cy="118.1" r="1.1" fill="#0026ff" opacity="0.7"/><circle cx="412.3" cy="126.1" r="1.0" fill="#ff1200" opacity="0.7"/><circle cx="467.6" cy="99.6" r="1.1" fill="#fffa00" opacity="0.7"/><circle cx="494.8" cy="114.3" r="1.8" fill="#a9ff55" opacity="0.7"/><circle cx="477.3" cy="114.3" r="1.4" fill="#0097ff" opacity="0.7"/><circle cx="487.0" cy="137.5" r="1.6" fill="#ffa800" opacity="0.7"/><circle cx="414.5" cy="95.6" r="1.4" fill="#ff6e00" opacity="0.7"/><circle cx="424.3" cy="121.1" r="1.3" fill="#f9ff05" opacity="0.7"/><circle cx="500.7" cy="143.7" r="1.3" fill="#ef0000" opacity="0.7"/><circle cx="495.0" cy="117.0" r="1.5" fill="#1affe4" opacity="0.7"/><circle cx="513.5" cy="128.6" r="1.2" fill="#ff1000" opacity="0.7"/><circle cx="465.5" cy="109.0" r="0.9" fill="#0000ad" opacity="0.7"/><circle cx="460.3" cy="118.2" r="1.0" fill="#008cff" opacity="0.7"/><circle cx="490.6" cy="103.0" r="1.4" fill="#eaff14" opacity="0.7"/><circle cx="454.1" cy="128.3" r="1.3" fill="#0067ff" opacity="0.7"/><circle cx="496.8" cy="120.5" r="1.1" fill="#dcff22" opacity="0.7"/><circle cx="438.0" cy="143.9" r="1.3" fill="#ef0000" opacity="0.7"/><circle cx="491.4" cy="97.2" r="1.1" fill="#ff8700" opacity="0.7"/><circle cx="446.5" cy="88.7" r="1.6" fill="#ff4800" opacity="0.7"/><circle cx="482.2" cy="90.7" r="1.1" fill="#ff1f00" opacity="0.7"/><circle cx="496.2" cy="133.3" r="1.1" fill="#ffdf00" opacity="0.7"/><circle cx="463.5" cy="135.2" r="1.1" fill="#00e5ff" opacity="0.7"/><circle cx="410.2" cy="99.1" r="1.4" fill="#ff6f00" opacity="0.7"/><circle cx="474.1" cy="115.2" r="1.5" fill="#0000da" opacity="0.7"/><circle cx="451.7" cy="137.7" r="1.4" fill="#b9ff45" opacity="0.7"/><circle cx="502.2" cy="133.6" r="1.1" fill="#ffa100" opacity="0.7"/><circle cx="414.4" cy="127.0" r="1.1" fill="#ffb200" opacity="0.7"/><circle cx="476.1" cy="120.4" r="1.1" fill="#0000db" opacity="0.7"/><circle cx="438.7" cy="129.1" r="1.7" fill="#1affe4" opacity="0.7"/><circle cx="440.6" cy="106.5" r="1.5" fill="#05fff9" opacity="0.7"/><circle cx="493.5" cy="133.3" r="1.6" fill="#ffa800" opacity="0.7"/><circle cx="489.8" cy="145.3" r="1.5" fill="#ff8c00" opacity="0.7"/><circle cx="440.0" cy="136.9" r="1.3" fill="#ff9900" opacity="0.7"/><circle cx="469.4" cy="118.7" r="1.2" fill="#0020ff" opacity="0.7"/><circle cx="459.6" cy="144.1" r="1.0" fill="#ff5a00" opacity="0.7"/><circle cx="497.7" cy="104.5" r="1.0" fill="#ef0000" opacity="0.7"/><circle cx="438.1" cy="143.4" r="1.5" fill="#ff0e00" opacity="0.7"/><circle cx="501.7" cy="137.2" r="1.0" fill="#ff0c00" opacity="0.7"/><circle cx="447.8" cy="117.3" r="1.6" fill="#008aff" opacity="0.7"/><circle cx="437.0" cy="127.3" r="1.0" fill="#7dff81" opacity="0.7"/><circle cx="472.3" cy="122.6" r="1.5" fill="#005fff" opacity="0.7"/><circle cx="452.8" cy="143.3" r="1.7" fill="#ff8200" opacity="0.7"/><circle cx="423.8" cy="105.2" r="1.4" fill="#fff600" opacity="0.7"/><circle cx="474.5" cy="144.4" r="1.7" fill="#ff6200" opacity="0.7"/><circle cx="458.6" cy="100.1" r="1.6" fill="#b4ff4a" opacity="0.7"/><circle cx="478.0" cy="138.4" r="1.3" fill="#e3ff1b" opacity="0.7"/><circle cx="458.4" cy="108.8" r="1.4" fill="#0012ff" opacity="0.7"/><circle cx="420.1" cy="102.9" r="1.4" fill="#ff1f00" opacity="0.7"/><circle cx="491.2" cy="111.8" r="1.7" fill="#4affb4" opacity="0.7"/><circle cx="475.6" cy="126.8" r="1.2" fill="#0000fb" opacity="0.7"/><circle cx="504.3" cy="102.4" r="1.8" fill="#ef0000" opacity="0.7"/><circle cx="484.6" cy="98.5" r="1.2" fill="#ffbc00" opacity="0.7"/><circle cx="447.8" cy="107.7" r="1.2" fill="#00bdff" opacity="0.7"/><circle cx="421.4" cy="111.6" r="1.2" fill="#ff1000" opacity="0.7"/><circle cx="488.2" cy="113.2" r="1.8" fill="#54ffaa" opacity="0.7"/><circle cx="508.4" cy="129.6" r="1.7" fill="#ef0000" opacity="0.7"/><circle cx="452.0" cy="123.0" r="1.0" fill="#0000a8" opacity="0.7"/><circle cx="446.1" cy="107.4" r="1.6" fill="#18ffe6" opacity="0.7"/><circle cx="411.0" cy="112.9" r="1.3" fill="#ff2c00" opacity="0.7"/><circle cx="503.9" cy="125.3" r="1.1" fill="#ff6500" opacity="0.7"/><circle cx="476.7" cy="112.4" r="1.8" fill="#0095ff" opacity="0.7"/><circle cx="456.3" cy="104.0" r="1.2" fill="#00d1ff" opacity="0.7"/><circle cx="431.4" cy="119.6" r="1.5" fill="#ff9f00" opacity="0.7"/><circle cx="441.9" cy="130.7" r="1.5" fill="#00b2ff" opacity="0.7"/><circle cx="423.5" cy="105.9" r="1.1" fill="#ff7400" opacity="0.7"/><circle cx="436.7" cy="94.7" r="1.6" fill="#ef0000" opacity="0.7"/><circle cx="421.3" cy="93.6" r="1.6" fill="#ff0f00" opacity="0.7"/><circle cx="461.4" cy="105.5" r="1.4" fill="#00d9ff" opacity="0.7"/><circle cx="447.3" cy="89.6" r="1.6" fill="#ff9900" opacity="0.7"/><circle cx="449.1" cy="136.8" r="1.4" fill="#ff9100" opacity="0.7"/><circle cx="420.7" cy="92.4" r="1.7" fill="#ef0000" opacity="0.7"/><circle cx="467.9" cy="131.2" r="1.1" fill="#0063ff" opacity="0.7"/><circle cx="479.7" cy="114.1" r="1.5" fill="#0000e9" opacity="0.7"/><circle cx="407.1" cy="105.3" r="1.3" fill="#ef0000" opacity="0.7"/><circle cx="436.6" cy="134.1" r="1.4" fill="#ff5e00" opacity="0.7"/><circle cx="437.1" cy="111.2" r="0.9" fill="#5fff9f" opacity="0.7"/><circle cx="467.9" cy="143.5" r="1.4" fill="#ff7300" opacity="0.7"/><circle cx="484.5" cy="94.2" r="1.3" fill="#ffd200" opacity="0.7"/><circle cx="481.0" cy="108.3" r="1.5" fill="#1cffe2" opacity="0.7"/><circle cx="427.2" cy="116.9" r="0.9" fill="#a1ff5d" opacity="0.7"/><circle cx="431.3" cy="130.2" r="1.0" fill="#ff9f00" opacity="0.7"/><circle cx="459.7" cy="146.7" r="1.6" fill="#ffab00" opacity="0.7"/><circle cx="519.2" cy="110.9" r="1.3" fill="#ff8d00" opacity="0.7"/><circle cx="493.3" cy="89.5" r="1.4" fill="#ff7300" opacity="0.7"/><circle cx="490.6" cy="138.8" r="1.4" fill="#ff6c00" opacity="0.7"/><circle cx="485.7" cy="92.7" r="1.5" fill="#ffaa00" opacity="0.7"/><circle cx="461.3" cy="118.1" r="1.3" fill="#0000a8" opacity="0.7"/><circle cx="423.7" cy="99.6" r="0.9" fill="#ff0400" opacity="0.7"/><circle cx="476.4" cy="137.0" r="1.5" fill="#9cff62" opacity="0.7"/><circle cx="423.8" cy="144.2" r="1.3" fill="#f00000" opacity="0.7"/><circle cx="422.1" cy="103.7" r="1.1" fill="#ef0000" opacity="0.7"/><circle cx="480.1" cy="127.3" r="1.3" fill="#008aff" opacity="0.7"/><circle cx="457.2" cy="142.7" r="1.5" fill="#ef0000" opacity="0.7"/><circle cx="458.4" cy="132.1" r="1.0" fill="#00f7ff" opacity="0.7"/><circle cx="490.6" cy="132.1" r="1.4" fill="#baff44" opacity="0.7"/><circle cx="416.2" cy="131.9" r="1.5" fill="#ef0000" opacity="0.7"/><circle cx="479.0" cy="92.4" r="1.2" fill="#ef0000" opacity="0.7"/><circle cx="490.7" cy="94.6" r="1.7" fill="#ef0000" opacity="0.7"/><circle cx="478.2" cy="101.6" r="1.0" fill="#e5ff19" opacity="0.7"/><circle cx="503.3" cy="137.7" r="1.6" fill="#ff3f00" opacity="0.7"/><circle cx="440.7" cy="144.5" r="0.9" fill="#ff6500" opacity="0.7"/><circle cx="421.5" cy="131.3" r="1.0" fill="#ff5b00" opacity="0.7"/><circle cx="505.3" cy="145.3" r="1.7" fill="#ff7400" opacity="0.7"/><circle cx="470.5" cy="93.0" r="1.6" fill="#ff6f00" opacity="0.7"/><circle cx="493.9" cy="117.7" r="1.8" fill="#00b3ff" opacity="0.7"/><circle cx="457.9" cy="114.3" r="1.4" fill="#0000be" opacity="0.7"/><circle cx="515.9" cy="104.0" r="1.7" fill="#ffac00" opacity="0.7"/><circle cx="508.3" cy="108.4" r="1.5" fill="#ef0000" opacity="0.7"/><circle cx="518.1" cy="120.9" r="1.6" fill="#ff0a00" opacity="0.7"/><circle cx="493.9" cy="97.9" r="1.1" fill="#ff9700" opacity="0.7"/><circle cx="435.2" cy="109.4" r="1.6" fill="#31ffcd" opacity="0.7"/><circle cx="468.8" cy="106.9" r="1.6" fill="#09fff5" opacity="0.7"/><circle cx="503.2" cy="134.4" r="1.0" fill="#ff1f00" opacity="0.7"/><circle cx="436.0" cy="115.3" r="1.1" fill="#00f7ff" opacity="0.7"/><circle cx="403.8" cy="114.6" r="0.9" fill="#ef0000" opacity="0.7"/><circle cx="405.5" cy="123.8" r="1.0" fill="#ff8800" opacity="0.7"/><circle cx="469.8" cy="118.9" r="1.2" fill="#0000e1" opacity="0.7"/><circle cx="429.0" cy="97.2" r="1.4" fill="#ff8d00" opacity="0.7"/><circle cx="483.6" cy="104.3" r="1.4" fill="#8eff70" opacity="0.7"/><circle cx="433.3" cy="132.0" r="1.6" fill="#ffaa00" opacity="0.7"/><circle cx="498.7" cy="119.3" r="1.7" fill="#ffb600" opacity="0.7"/><circle cx="521.3" cy="134.8" r="1.5" fill="#ff5600" opacity="0.7"/><circle cx="417.5" cy="98.4" r="1.0" fill="#ef0000" opacity="0.7"/><circle cx="480.8" cy="110.8" r="1.4" fill="#00f9ff" opacity="0.7"/><circle cx="443.2" cy="106.9" r="0.9" fill="#00e2ff" opacity="0.7"/><circle cx="415.4" cy="139.4" r="1.8" fill="#ff2700" opacity="0.7"/><circle cx="448.0" cy="133.7" r="1.3" fill="#83ff7b" opacity="0.7"/><circle cx="459.3" cy="126.2" r="1.2" fill="#00f3ff" opacity="0.7"/><circle cx="484.0" cy="92.7" r="1.0" fill="#ff1000" opacity="0.7"/><circle cx="412.5" cy="134.5" r="1.4" fill="#ef0000" opacity="0.7"/><circle cx="413.0" cy="133.9" r="1.4" fill="#ff7400" opacity="0.7"/><circle cx="496.7" cy="125.4" r="1.0" fill="#9cff62" opacity="0.7"/><circle cx="411.9" cy="113.5" r="1.2" fill="#ff4900" opacity="0.7"/><circle cx="493.9" cy="95.1" r="1.1" fill="#ef0000" opacity="0.7"/><circle cx="474.0" cy="122.5" r="1.3" fill="#00a6ff" opacity="0.7"/><circle cx="444.3" cy="96.3" r="1.4" fill="#ffa200" opacity="0.7"/><circle cx="501.1" cy="92.5" r="1.3" fill="#ff8000" opacity="0.7"/><circle cx="444.7" cy="143.0" r="1.3" fill="#ff8400" opacity="0.7"/><circle cx="403.8" cy="118.3" r="1.0" fill="#ff5200" opacity="0.7"/><circle cx="418.7" cy="118.0" r="1.4" fill="#ffe500" opacity="0.7"/><circle cx="439.7" cy="129.5" r="0.9" fill="#40ffbe" opacity="0.7"/><circle cx="503.8" cy="114.5" r="1.5" fill="#ffa400" opacity="0.7"/><circle cx="428.8" cy="112.2" r="1.0" fill="#ff9f00" opacity="0.7"/><circle cx="457.2" cy="144.7" r="1.4" fill="#ff3c00" opacity="0.7"/><circle cx="479.4" cy="96.4" r="1.1" fill="#ff6e00" opacity="0.7"/><circle cx="475.1" cy="102.1" r="1.7" fill="#ffed00" opacity="0.7"/><circle cx="499.5" cy="138.5" r="1.1" fill="#ff2300" opacity="0.7"/><circle cx="439.5" cy="123.4" r="1.4" fill="#009aff" opacity="0.7"/><circle cx="430.3" cy="102.1" r="1.0" fill="#ffe600" opacity="0.7"/><circle cx="409.0" cy="122.3" r="1.8" fill="#ef0000" opacity="0.7"/><circle cx="477.5" cy="88.3" r="1.2" fill="#ef0000" opacity="0.7"/><circle cx="445.7" cy="106.2" r="0.9" fill="#72ff8c" opacity="0.7"/><circle cx="456.3" cy="116.4" r="1.1" fill="#0044ff" opacity="0.7"/><circle cx="513.8" cy="140.3" r="1.2" fill="#ffdb00" opacity="0.7"/><circle cx="493.1" cy="133.9" r="1.2" fill="#ffc600" opacity="0.7"/><circle cx="491.6" cy="108.7" r="1.0" fill="#b5ff49" opacity="0.7"/><circle cx="488.9" cy="102.9" r="1.3" fill="#ff7f00" opacity="0.7"/><circle cx="499.9" cy="123.3" r="1.5" fill="#ff6200" opacity="0.7"/><circle cx="491.6" cy="128.7" r="1.7" fill="#41ffbd" opacity="0.7"/><circle cx="473.9" cy="127.0" r="1.7" fill="#0000bb" opacity="0.7"/><circle cx="438.3" cy="99.2" r="1.4" fill="#ffce00" opacity="0.7"/><circle cx="439.7" cy="130.1" r="1.1" fill="#6eff90" opacity="0.7"/><circle cx="476.9" cy="111.4" r="1.5" fill="#0024ff" opacity="0.7"/><circle cx="458.8" cy="94.6" r="1.0" fill="#f8ff06" opacity="0.7"/><circle cx="476.5" cy="124.2" r="1.5" fill="#0000a8" opacity="0.7"/><circle cx="463.2" cy="117.9" r="1.3" fill="#00e2ff" opacity="0.7"/><circle cx="500.4" cy="127.4" r="1.6" fill="#ffde00" opacity="0.7"/><circle cx="427.7" cy="101.7" r="1.1" fill="#ff0900" opacity="0.7"/><circle cx="460.7" cy="140.5" r="1.6" fill="#69ff95" opacity="0.7"/><circle cx="473.0" cy="140.7" r="1.8" fill="#ff8f00" opacity="0.7"/><circle cx="437.3" cy="124.2" r="1.6" fill="#1affe4" opacity="0.7"/><circle cx="437.6" cy="106.1" r="1.8" fill="#ff8c00" opacity="0.7"/><circle cx="413.3" cy="125.0" r="1.6" fill="#ff9f00" opacity="0.7"/><circle cx="517.7" cy="130.8" r="1.1" fill="#ff2c00" opacity="0.7"/><circle cx="433.3" cy="121.7" r="1.2" fill="#74ff8a" opacity="0.7"/><circle cx="420.0" cy="93.1" r="1.0" fill="#ff6d00" opacity="0.7"/><circle cx="464.2" cy="145.8" r="1.2" fill="#ffed00" opacity="0.7"/><circle cx="466.7" cy="135.8" r="1.6" fill="#ffbb00" opacity="0.7"/><circle cx="491.1" cy="108.2" r="1.3" fill="#a7ff57" opacity="0.7"/><circle cx="411.9" cy="125.8" r="1.1" fill="#ef0000" opacity="0.7"/><circle cx="457.7" cy="134.6" r="1.4" fill="#32ffcc" opacity="0.7"/><circle cx="481.8" cy="91.1" r="1.6" fill="#f80000" opacity="0.7"/><circle cx="440.0" cy="112.5" r="1.2" fill="#7cff82" opacity="0.7"/><circle cx="422.6" cy="92.4" r="1.5" fill="#ffbe00" opacity="0.7"/><circle cx="513.2" cy="95.5" r="1.5" fill="#ffeb00" opacity="0.7"/><circle cx="446.2" cy="138.0" r="1.7" fill="#c2ff3c" opacity="0.7"/><circle cx="454.9" cy="93.0" r="1.4" fill="#ffb300" opacity="0.7"/><circle cx="429.1" cy="129.2" r="1.7" fill="#ffd500" opacity="0.7"/><circle cx="417.3" cy="103.8" r="1.4" fill="#ff1900" opacity="0.7"/><circle cx="408.9" cy="133.6" r="1.5" fill="#ff2e00" opacity="0.7"/><circle cx="417.6" cy="119.3" r="1.0" fill="#ffb100" opacity="0.7"/><circle cx="436.1" cy="114.6" r="1.7" fill="#00abff" opacity="0.7"/><circle cx="442.6" cy="108.7" r="1.1" fill="#03fffb" opacity="0.7"/><circle cx="491.3" cy="109.7" r="1.3" fill="#62ff9c" opacity="0.7"/><circle cx="503.2" cy="113.8" r="1.6" fill="#ff8e00" opacity="0.7"/><circle cx="459.0" cy="122.3" r="1.6" fill="#0025ff" opacity="0.7"/><circle cx="412.2" cy="114.8" r="1.1" fill="#ef0000" opacity="0.7"/><circle cx="437.2" cy="107.9" r="0.9" fill="#b7ff47" opacity="0.7"/><circle cx="430.8" cy="103.6" r="1.1" fill="#ff3200" opacity="0.7"/><circle cx="503.0" cy="128.5" r="1.1" fill="#ff8900" opacity="0.7"/><circle cx="439.9" cy="118.0" r="1.7" fill="#008fff" opacity="0.7"/><circle cx="503.0" cy="138.7" r="1.2" fill="#ff0b00" opacity="0.7"/><circle cx="453.9" cy="88.4" r="1.2" fill="#ff2100" opacity="0.7"/><circle cx="417.5" cy="139.6" r="1.1" fill="#ff0d00" opacity="0.7"/><circle cx="504.6" cy="94.6" r="1.3" fill="#ef0000" opacity="0.7"/><circle cx="428.7" cy="102.5" r="1.6" fill="#ef0000" opacity="0.7"/><circle cx="445.0" cy="145.7" r="1.8" fill="#ff2900" opacity="0.7"/><circle cx="478.9" cy="101.4" r="1.3" fill="#ffa000" opacity="0.7"/><circle cx="500.8" cy="102.3" r="1.8" fill="#ff4700" opacity="0.7"/><circle cx="476.1" cy="90.2" r="1.6" fill="#ef0000" opacity="0.7"/><circle cx="491.6" cy="127.1" r="0.9" fill="#ffb100" opacity="0.7"/><circle cx="515.3" cy="105.6" r="1.3" fill="#ff1200" opacity="0.7"/><circle cx="465.7" cy="142.2" r="1.7" fill="#daff24" opacity="0.7"/><circle cx="449.7" cy="138.3" r="1.2" fill="#ffa600" opacity="0.7"/><circle cx="407.7" cy="111.7" r="0.9" fill="#ef0000" opacity="0.7"/><circle cx="519.2" cy="136.2" r="1.1" fill="#ff4700" opacity="0.7"/><circle cx="495.5" cy="105.3" r="1.0" fill="#ffcb00" opacity="0.7"/><circle cx="453.7" cy="122.1" r="1.4" fill="#0067ff" opacity="0.7"/><circle cx="492.1" cy="112.0" r="1.8" fill="#87ff77" opacity="0.7"/><circle cx="432.9" cy="132.3" r="1.4" fill="#ff0500" opacity="0.7"/><circle cx="423.0" cy="136.1" r="1.7" fill="#ef0000" opacity="0.7"/><circle cx="417.7" cy="140.1" r="1.6" fill="#ef0000" opacity="0.7"/><circle cx="489.2" cy="121.4" r="1.2" fill="#00d5ff" opacity="0.7"/><circle cx="439.9" cy="136.1" r="1.0" fill="#ff9400" opacity="0.7"/><circle cx="471.0" cy="129.6" r="1.1" fill="#0000a8" opacity="0.7"/><circle cx="496.5" cy="130.1" r="1.6" fill="#eeff10" opacity="0.7"/><circle cx="413.3" cy="130.6" r="1.5" fill="#ef0000" opacity="0.7"/><circle cx="458.0" cy="144.2" r="1.1" fill="#fff100" opacity="0.7"/><circle cx="451.4" cy="105.2" r="1.3" fill="#0097ff" opacity="0.7"/><circle cx="493.2" cy="146.5" r="1.8" fill="#ef0000" opacity="0.7"/><circle cx="490.8" cy="131.5" r="1.0" fill="#97ff67" opacity="0.7"/><circle cx="451.3" cy="116.9" r="1.2" fill="#00c4ff" opacity="0.7"/><circle cx="431.5" cy="92.8" r="1.4" fill="#ef0000" opacity="0.7"/><circle cx="442.7" cy="143.9" r="1.0" fill="#ff7d00" opacity="0.7"/><circle cx="407.9" cy="128.6" r="1.5" fill="#ff7400" opacity="0.7"/><circle cx="461.9" cy="117.9" r="0.9" fill="#0000a8" opacity="0.7"/><circle cx="430.0" cy="134.8" r="1.2" fill="#ff0f00" opacity="0.7"/><circle cx="442.1" cy="113.5" r="1.0" fill="#0078ff" opacity="0.7"/><circle cx="469.2" cy="130.1" r="1.2" fill="#0efff0" opacity="0.7"/><circle cx="490.3" cy="108.9" r="1.2" fill="#2cffd2" opacity="0.7"/><circle cx="469.8" cy="124.1" r="1.3" fill="#000bff" opacity="0.7"/><circle cx="406.5" cy="119.8" r="1.1" fill="#ef0000" opacity="0.7"/><circle cx="477.1" cy="101.7" r="1.0" fill="#75ff89" opacity="0.7"/><circle cx="411.0" cy="124.9" r="1.4" fill="#ef0000" opacity="0.7"/><circle cx="507.8" cy="138.1" r="1.1" fill="#ff9a00" opacity="0.7"/><circle cx="448.1" cy="145.5" r="1.5" fill="#ef0000" opacity="0.7"/><circle cx="443.4" cy="93.4" r="1.2" fill="#ff7300" opacity="0.7"/><circle cx="429.9" cy="125.3" r="1.7" fill="#b5ff49" opacity="0.7"/><circle cx="414.1" cy="109.8" r="1.7" fill="#ffac00" opacity="0.7"/><circle cx="458.6" cy="135.2" r="1.6" fill="#77ff87" opacity="0.7"/><circle cx="437.5" cy="131.1" r="1.4" fill="#ffc000" opacity="0.7"/><circle cx="481.3" cy="89.7" r="1.2" fill="#ffdf00" opacity="0.7"/><circle cx="435.7" cy="147.0" r="1.4" fill="#ef0000" opacity="0.7"/><circle cx="486.2" cy="116.5" r="1.1" fill="#0035ff" opacity="0.7"/><circle cx="437.2" cy="101.4" r="1.5" fill="#f7ff07" opacity="0.7"/><circle cx="463.4" cy="146.4" r="1.6" fill="#ff1600" opacity="0.7"/><circle cx="427.0" cy="118.1" r="0.9" fill="#7dff81" opacity="0.7"/><circle cx="464.9" cy="89.9" r="1.2" fill="#fc0000" opacity="0.7"/><circle cx="459.5" cy="100.9" r="1.0" fill="#b5ff49" opacity="0.7"/><circle cx="418.5" cy="99.9" r="1.0" fill="#ff1600" opacity="0.7"/><circle cx="480.5" cy="144.9" r="1.7" fill="#ff4200" opacity="0.7"/><circle cx="504.2" cy="106.7" r="1.7" fill="#ff9e00" opacity="0.7"/><circle cx="519.5" cy="133.0" r="1.6" fill="#ebff13" opacity="0.7"/><circle cx="486.9" cy="113.0" r="1.4" fill="#001aff" opacity="0.7"/><circle cx="405.1" cy="114.4" r="1.7" fill="#ff8b00" opacity="0.7"/><circle cx="487.8" cy="116.5" r="1.1" fill="#3dffc1" opacity="0.7"/><circle cx="486.9" cy="139.3" r="0.9" fill="#ffe400" opacity="0.7"/><circle cx="515.4" cy="113.5" r="1.2" fill="#ff2f00" opacity="0.7"/><circle cx="438.8" cy="100.8" r="1.5" fill="#ffcd00" opacity="0.7"/><circle cx="498.3" cy="126.3" r="1.2" fill="#ffbe00" opacity="0.7"/><circle cx="450.6" cy="134.8" r="1.6" fill="#77ff87" opacity="0.7"/><circle cx="466.2" cy="131.6" r="1.5" fill="#00f9ff" opacity="0.7"/><circle cx="505.3" cy="137.1" r="1.0" fill="#ff9400" opacity="0.7"/><circle cx="405.6" cy="129.7" r="1.7" fill="#ff0900" opacity="0.7"/><circle cx="493.6" cy="97.7" r="1.0" fill="#ff9b00" opacity="0.7"/><circle cx="481.6" cy="124.8" r="1.1" fill="#00b1ff" opacity="0.7"/><circle cx="502.8" cy="143.8" r="1.0" fill="#ef0000" opacity="0.7"/><circle cx="486.8" cy="120.4" r="1.3" fill="#00e0ff" opacity="0.7"/><circle cx="430.2" cy="138.0" r="1.2" fill="#ff8d00" opacity="0.7"/><circle cx="489.5" cy="144.0" r="1.3" fill="#ff5e00" opacity="0.7"/><circle cx="409.9" cy="137.5" r="1.3" fill="#ef0000" opacity="0.7"/><circle cx="499.0" cy="90.1" r="1.6" fill="#fc0000" opacity="0.7"/><circle cx="447.7" cy="110.8" r="1.7" fill="#0094ff" opacity="0.7"/><circle cx="505.9" cy="102.1" r="1.6" fill="#ff4000" opacity="0.7"/><circle cx="481.8" cy="92.1" r="1.3" fill="#ff9100" opacity="0.7"/><circle cx="453.2" cy="115.1" r="1.3" fill="#0000a8" opacity="0.7"/><circle cx="464.9" cy="136.8" r="1.5" fill="#86ff78" opacity="0.7"/><circle cx="425.4" cy="96.1" r="1.2" fill="#ff4500" opacity="0.7"/><circle cx="486.6" cy="109.8" r="1.6" fill="#fffa00" opacity="0.7"/><circle cx="462.7" cy="144.2" r="1.5" fill="#fff700" opacity="0.7"/><circle cx="478.2" cy="98.5" r="1.4" fill="#ffcf00" opacity="0.7"/><circle cx="453.8" cy="128.1" r="1.2" fill="#0041ff" opacity="0.7"/><circle cx="433.0" cy="144.7" r="1.3" fill="#ff6800" opacity="0.7"/><circle cx="456.4" cy="144.9" r="1.4" fill="#ff2600" opacity="0.7"/><circle cx="417.3" cy="110.0" r="1.0" fill="#dcff22" opacity="0.7"/><circle cx="450.4" cy="114.6" r="1.4" fill="#0000a8" opacity="0.7"/><circle cx="422.1" cy="98.6" r="1.5" fill="#fe0000" opacity="0.7"/><circle cx="464.4" cy="112.2" r="1.5" fill="#0000c9" opacity="0.7"/><circle cx="473.7" cy="90.9" r="1.3" fill="#ff2b00" opacity="0.7"/><circle cx="432.3" cy="122.4" r="1.8" fill="#00c2ff" opacity="0.7"/><circle cx="491.8" cy="124.4" r="1.4" fill="#5cffa2" opacity="0.7"/><circle cx="415.7" cy="131.1" r="1.4" fill="#ff0500" opacity="0.7"/><circle cx="434.0" cy="138.9" r="1.4" fill="#ff0400" opacity="0.7"/><circle cx="458.2" cy="107.0" r="1.4" fill="#0000f9" opacity="0.7"/><circle cx="515.7" cy="114.0" r="1.2" fill="#ff7900" opacity="0.7"/><circle cx="492.7" cy="120.7" r="1.1" fill="#16ffe8" opacity="0.7"/><circle cx="411.1" cy="119.7" r="1.7" fill="#ef0000" opacity="0.7"/><circle cx="505.4" cy="136.2" r="1.2" fill="#ff8b00" opacity="0.7"/><circle cx="422.0" cy="114.1" r="1.6" fill="#f8ff06" opacity="0.7"/><circle cx="469.0" cy="145.9" r="1.4" fill="#ff1500" opacity="0.7"/><circle cx="452.5" cy="141.5" r="1.6" fill="#e0ff1e" opacity="0.7"/><circle cx="423.6" cy="141.2" r="1.6" fill="#ff4e00" opacity="0.7"/><circle cx="453.0" cy="128.9" r="1.4" fill="#0029ff" opacity="0.7"/><circle cx="478.3" cy="142.3" r="1.2" fill="#ff1c00" opacity="0.7"/><circle cx="488.5" cy="127.4" r="1.0" fill="#00f2ff" opacity="0.7"/><circle cx="463.6" cy="104.5" r="1.2" fill="#00e3ff" opacity="0.7"/><circle cx="432.5" cy="104.5" r="1.4" fill="#fff800" opacity="0.7"/><circle cx="506.5" cy="125.8" r="1.3" fill="#eeff10" opacity="0.7"/><circle cx="453.8" cy="126.4" r="1.1" fill="#0000ac" opacity="0.7"/><circle cx="493.1" cy="142.3" r="1.7" fill="#ff0d00" opacity="0.7"/><circle cx="429.1" cy="95.7" r="1.5" fill="#ff3d00" opacity="0.7"/><circle cx="443.9" cy="98.6" r="1.4" fill="#e2ff1c" opacity="0.7"/><circle cx="463.9" cy="124.4" r="1.6" fill="#0000e0" opacity="0.7"/><circle cx="489.2" cy="129.6" r="1.5" fill="#acff52" opacity="0.7"/><circle cx="456.8" cy="128.2" r="1.1" fill="#0000cc" opacity="0.7"/><circle cx="518.1" cy="105.1" r="1.8" fill="#ff9600" opacity="0.7"/><circle cx="420.6" cy="102.8" r="1.5" fill="#ff2f00" opacity="0.7"/><circle cx="445.8" cy="108.3" r="1.3" fill="#93ff6b" opacity="0.7"/><circle cx="472.0" cy="102.5" r="1.7" fill="#eeff10" opacity="0.7"/><circle cx="414.8" cy="129.2" r="1.2" fill="#ef0000" opacity="0.7"/><circle cx="517.1" cy="113.9" r="1.7" fill="#f30000" opacity="0.7"/><circle cx="521.4" cy="109.8" r="1.2" fill="#ef0000" opacity="0.7"/><circle cx="465.8" cy="110.5" r="1.2" fill="#0039ff" opacity="0.7"/><circle cx="459.4" cy="115.7" r="1.4" fill="#0056ff" opacity="0.7"/><circle cx="471.4" cy="131.7" r="1.3" fill="#57ffa7" opacity="0.7"/><circle cx="427.8" cy="143.6" r="1.3" fill="#ef0000" opacity="0.7"/><circle cx="451.9" cy="100.4" r="1.7" fill="#ffc700" opacity="0.7"/><circle cx="438.6" cy="120.3" r="1.3" fill="#00c0ff" opacity="0.7"/><circle cx="418.1" cy="120.0" r="1.6" fill="#ffa600" opacity="0.7"/><circle cx="505.4" cy="143.4" r="1.5" fill="#ef0000" opacity="0.7"/><circle cx="447.3" cy="143.7" r="1.3" fill="#ff0500" opacity="0.7"/><circle cx="449.0" cy="129.1" r="1.7" fill="#07fff7" opacity="0.7"/><circle cx="493.9" cy="112.4" r="1.5" fill="#00f1ff" opacity="0.7"/><circle cx="464.5" cy="94.6" r="1.7" fill="#ff0400" opacity="0.7"/><circle cx="430.5" cy="133.8" r="0.9" fill="#e0ff1e" opacity="0.7"/><circle cx="462.5" cy="105.8" r="1.4" fill="#004eff" opacity="0.7"/><circle cx="454.5" cy="132.8" r="1.5" fill="#27ffd7" opacity="0.7"/><circle cx="435.6" cy="99.7" r="1.3" fill="#ff9800" opacity="0.7"/><circle cx="463.0" cy="133.1" r="1.8" fill="#71ff8d" opacity="0.7"/><circle cx="433.6" cy="105.4" r="1.5" fill="#ffe400" opacity="0.7"/><circle cx="406.6" cy="123.0" r="1.4" fill="#ff2500" opacity="0.7"/><circle cx="448.3" cy="146.4" r="1.0" fill="#ff2a00" opacity="0.7"/><circle cx="431.1" cy="131.5" r="1.6" fill="#ffb500" opacity="0.7"/><circle cx="444.8" cy="140.1" r="1.4" fill="#ff7c00" opacity="0.7"/><circle cx="466.5" cy="134.6" r="1.2" fill="#7dff81" opacity="0.7"/><circle cx="511.1" cy="125.3" r="1.1" fill="#ff9400" opacity="0.7"/><circle cx="470.2" cy="143.6" r="0.9" fill="#ffea00" opacity="0.7"/><circle cx="442.0" cy="106.2" r="1.5" fill="#50ffae" opacity="0.7"/><circle cx="418.3" cy="129.6" r="1.7" fill="#ef0000" opacity="0.7"/><circle cx="474.8" cy="140.0" r="1.3" fill="#cbff33" opacity="0.7"/><circle cx="470.6" cy="141.8" r="1.4" fill="#ffcd00" opacity="0.7"/><circle cx="492.3" cy="115.5" r="1.4" fill="#a2ff5c" opacity="0.7"/><circle cx="438.5" cy="105.7" r="1.8" fill="#5cffa2" opacity="0.7"/><circle cx="479.4" cy="92.2" r="1.4" fill="#ffa700" opacity="0.7"/><circle cx="436.3" cy="141.4" r="1.3" fill="#ff5200" opacity="0.7"/><circle cx="502.2" cy="103.3" r="1.4" fill="#ff0d00" opacity="0.7"/><circle cx="454.6" cy="143.6" r="1.4" fill="#ffbc00" opacity="0.7"/><circle cx="466.7" cy="109.4" r="1.3" fill="#0000e1" opacity="0.7"/><circle cx="433.9" cy="92.5" r="1.2" fill="#ff0e00" opacity="0.7"/><circle cx="405.3" cy="127.2" r="1.2" fill="#ef0000" opacity="0.7"/><circle cx="434.9" cy="120.4" r="1.2" fill="#a2ff5c" opacity="0.7"/><circle cx="489.6" cy="105.9" r="1.0" fill="#e2ff1c" opacity="0.7"/><circle cx="508.8" cy="128.6" r="1.1" fill="#ff7200" opacity="0.7"/><circle cx="479.8" cy="109.3" r="1.4" fill="#0050ff" opacity="0.7"/><circle cx="480.5" cy="137.9" r="1.1" fill="#ffd300" opacity="0.7"/><circle cx="471.0" cy="121.5" r="1.7" fill="#0072ff" opacity="0.7"/><circle cx="513.9" cy="112.1" r="1.3" fill="#ff9600" opacity="0.7"/><circle cx="519.2" cy="122.2" r="1.4" fill="#ffd100" opacity="0.7"/><circle cx="464.7" cy="126.8" r="1.1" fill="#000aff" opacity="0.7"/><circle cx="447.7" cy="88.5" r="1.6" fill="#ff4600" opacity="0.7"/>
</g>
<path d="M402.60,106.00C403.23,105.30 404.72,103.37 406.40,101.80C408.08,100.23 410.25,98.00 412.70,96.60C415.15,95.20 417.97,94.38 421.10,93.40C424.23,92.42 428.02,91.40 431.50,90.70C434.98,90.00 438.63,89.55 442.00,89.20C445.37,88.85 447.05,88.62 451.70,88.60C456.35,88.58 464.22,88.65 469.90,89.10C475.58,89.55 480.88,90.17 485.80,91.30C490.72,92.43 495.25,94.18 499.40,95.90C503.55,97.62 507.48,99.15 510.70,101.60C513.92,104.05 516.77,107.58 518.70,110.60C520.63,113.62 521.83,116.80 522.30,119.70C522.77,122.60 522.38,125.45 521.50,128.00C520.62,130.55 518.75,133.08 517.00,135.00C515.25,136.92 513.02,138.42 511.00,139.50C508.98,140.58 507.63,140.78 504.90,141.50C502.17,142.22 497.83,142.97 494.60,143.80C491.37,144.63 487.02,146.05 485.50,146.50Z" fill="none" stroke="#1438e0" stroke-width="1.1"/>
<rect x="355.0" y="327.0" width="77.0" height="109.0" fill="#0c16a4"/>
<defs>
<linearGradient id="h11" x1="0" y1="0" x2="0" y2="1"><stop offset="0.000" stop-color="#00009f"/><stop offset="0.036" stop-color="#0000a3"/><stop offset="0.071" stop-color="#00009e"/><stop offset="0.107" stop-color="#00009e"/><stop offset="0.143" stop-color="#00009e"/><stop offset="0.179" stop-color="#0000a2"/><stop offset="0.214" stop-color="#0000a3"/><stop offset="0.250" stop-color="#0000a8"/><stop offset="0.286" stop-color="#0000a4"/><stop offset="0.321" stop-color="#0000a5"/><stop offset="0.357" stop-color="#0000a3"/><stop offset="0.393" stop-color="#0000a0"/><stop offset="0.429" stop-color="#0000a2"/><stop offset="0.464" stop-color="#00009e"/><stop offset="0.500" stop-color="#00009f"/><stop offset="0.536" stop-color="#0000a4"/><stop offset="0.571" stop-color="#0000a4"/><stop offset="0.607" stop-color="#0000a2"/><stop offset="0.643" stop-color="#0000ab"/><stop offset="0.679" stop-color="#0000a7"/><stop offset="0.714" stop-color="#0000a3"/><stop offset="0.750" stop-color="#0000a3"/><stop offset="0.786" stop-color="#0000a1"/><stop offset="0.821" stop-color="#0000a1"/><stop offset="0.857" stop-color="#0000a0"/><stop offset="0.893" stop-color="#0000aa"/><stop offset="0.929" stop-color="#0000a6"/><stop offset="0.964" stop-color="#0000a5"/><stop offset="1.000" stop-color="#0000a7"/></linearGradient>
<linearGradient id="h12" x1="0" y1="0" x2="0" y2="1"><stop offset="0.000" stop-color="#0000cb"/><stop offset="0.036" stop-color="#0000c9"/><stop offset="0.071" stop-color="#0000d4"/><stop offset="0.107" stop-color="#0000ca"/><stop offset="0.143" stop-color="#0000ca"/><stop offset="0.179" stop-color="#0000cd"/><stop offset="0.214" stop-color="#0000d5"/><stop offset="0.250" stop-color="#0000cd"/><stop offset="0.286" stop-color="#0000c3"/><stop offset="0.321" stop-color="#0000ca"/><stop offset="0.357" stop-color="#0000c9"/><stop offset="0.393" stop-color="#0000c9"/><stop offset="0.429" stop-color="#0000cc"/><stop offset="0.464" stop-color="#0000cd"/><stop offset="0.500" stop-color="#0000cd"/><stop offset="0.536" stop-color="#0000cb"/><stop offset="0.571" stop-color="#0000d0"/><stop offset="0.607" stop-color="#0000d4"/><stop offset="0.643" stop-color="#0000d0"/><stop offset="0.679" stop-color="#0000cc"/><stop offset="0.714" stop-color="#0000cf"/><stop offset="0.750" stop-color="#0000cf"/><stop offset="0.786" stop-color="#0000c9"/><stop offset="0.821" stop-color="#0000c9"/><stop offset="0.857" stop-color="#0000ce"/><stop offset="0.893" stop-color="#0000cd"/><stop offset="0.929" stop-color="#0000cb"/><stop offset="0.964" stop-color="#0000cc"/><stop offset="1.000" stop-color="#0000cc"/></linearGradient>
<linearGradient id="h13" x1="0" y1="0" x2="0" y2="1"><stop offset="0.000" stop-color="#0000aa"/><stop offset="0.036" stop-color="#0000b5"/><stop offset="0.071" stop-color="#0000b4"/><stop offset="0.107" stop-color="#0000b0"/><stop offset="0.143" stop-color="#0000b5"/><stop offset="0.179" stop-color="#0000b5"/><stop offset="0.214" stop-color="#0000b3"/><stop offset="0.250" stop-color="#0000b7"/><stop offset="0.286" stop-color="#0000bd"/><stop offset="0.321" stop-color="#0000ba"/><stop offset="0.357" stop-color="#0000bc"/><stop offset="0.393" stop-color="#0000bf"/><stop offset="0.429" stop-color="#0000b5"/><stop offset="0.464" stop-color="#0000b1"/><stop offset="0.500" stop-color="#0000b5"/><stop offset="0.536" stop-color="#0000ad"/><stop offset="0.571" stop-color="#0000ae"/><stop offset="0.607" stop-color="#0000b5"/><stop offset="0.643" stop-color="#0000b8"/><stop offset="0.679" stop-color="#0000b7"/><stop offset="0.714" stop-color="#0000ad"/><stop offset="0.750" stop-color="#0000b9"/><stop offset="0.786" stop-color="#0000b7"/><stop offset="0.821" stop-color="#0000b8"/><stop offset="0.857" stop-color="#0000b7"/><stop offset="0.893" stop-color="#0000ae"/><stop offset="0.929" stop-color="#0000aa"/><stop offset="0.964" stop-color="#0000a9"/><stop offset="1.000" stop-color="#0000b5"/></linearGradient>
<linearGradient id="h14" x1="0" y1="0" x2="0" y2="1"><stop offset="0.000" stop-color="#0056ff"/><stop offset="0.036" stop-color="#0052ff"/><stop offset="0.071" stop-color="#0069ff"/><stop offset="0.107" stop-color="#0073ff"/><stop offset="0.143" stop-color="#0070ff"/><stop offset="0.179" stop-color="#0040ff"/><stop offset="0.214" stop-color="#0000ec"/><stop offset="0.250" stop-color="#002aff"/><stop offset="0.286" stop-color="#004cff"/><stop offset="0.321" stop-color="#007bff"/><stop offset="0.357" stop-color="#0069ff"/><stop offset="0.393" stop-color="#0050ff"/><stop offset="0.429" stop-color="#0063ff"/><stop offset="0.464" stop-color="#0030ff"/><stop offset="0.500" stop-color="#0026ff"/><stop offset="0.536" stop-color="#0023ff"/><stop offset="0.571" stop-color="#0049ff"/><stop offset="0.607" stop-color="#0094ff"/><stop offset="0.643" stop-color="#0090ff"/><stop offset="0.679" stop-color="#009aff"/><stop offset="0.714" stop-color="#0083ff"/><stop offset="0.750" stop-color="#0079ff"/><stop offset="0.786" stop-color="#005dff"/><stop offset="0.821" stop-color="#0054ff"/><stop offset="0.857" stop-color="#000dff"/><stop offset="0.893" stop-color="#0010ff"/><stop offset="0.929" stop-color="#000fff"/><stop offset="0.964" stop-color="#0050ff"/><stop offset="1.000" stop-color="#006bff"/></linearGradient>
<linearGradient id="h15" x1="0" y1="0" x2="0" y2="1"><stop offset="0.000" stop-color="#58ffa6"/><stop offset="0.036" stop-color="#36ffc8"/><stop offset="0.071" stop-color="#50ffae"/><stop offset="0.107" stop-color="#78ff86"/><stop offset="0.143" stop-color="#50ffae"/><stop offset="0.179" stop-color="#5dffa1"/><stop offset="0.214" stop-color="#3dffc1"/><stop offset="0.250" stop-color="#00fffe"/><stop offset="0.286" stop-color="#18ffe6"/><stop offset="0.321" stop-color="#06fff8"/><stop offset="0.357" stop-color="#1affe4"/><stop offset="0.393" stop-color="#12ffec"/><stop offset="0.429" stop-color="#27ffd7"/><stop offset="0.464" stop-color="#00e4ff"/><stop offset="0.500" stop-color="#47ffb7"/><stop offset="0.536" stop-color="#61ff9d"/><stop offset="0.571" stop-color="#3affc4"/><stop offset="0.607" stop-color="#14ffea"/><stop offset="0.643" stop-color="#1effe0"/><stop offset="0.679" stop-color="#38ffc6"/><stop offset="0.714" stop-color="#3dffc1"/><stop offset="0.750" stop-color="#3fffbf"/><stop offset="0.786" stop-color="#00f5ff"/><stop offset="0.821" stop-color="#00ebff"/><stop offset="0.857" stop-color="#33ffcb"/><stop offset="0.893" stop-color="#35ffc9"/><stop offset="0.929" stop-color="#00feff"/><stop offset="0.964" stop-color="#00f7ff"/><stop offset="1.000" stop-color="#00e2ff"/></linearGradient>
<linearGradient id="h16" x1="0" y1="0" x2="0" y2="1"><stop offset="0.000" stop-color="#3fffbf"/><stop offset="0.036" stop-color="#20ffde"/><stop offset="0.071" stop-color="#44ffba"/><stop offset="0.107" stop-color="#32ffcc"/><stop offset="0.143" stop-color="#00e6ff"/><stop offset="0.179" stop-color="#00e2ff"/><stop offset="0.214" stop-color="#54ffaa"/><stop offset="0.250" stop-color="#14ffea"/><stop offset="0.286" stop-color="#00e9ff"/><stop offset="0.321" stop-color="#2effd0"/><stop offset="0.357" stop-color="#23ffdb"/><stop offset="0.393" stop-color="#1affe4"/><stop offset="0.429" stop-color="#4fffaf"/><stop offset="0.464" stop-color="#00eaff"/><stop offset="0.500" stop-color="#0fffef"/><stop offset="0.536" stop-color="#00e5ff"/><stop offset="0.571" stop-color="#00c3ff"/><stop offset="0.607" stop-color="#00caff"/><stop offset="0.643" stop-color="#1bffe3"/><stop offset="0.679" stop-color="#11ffed"/><stop offset="0.714" stop-color="#00c7ff"/><stop offset="0.750" stop-color="#00c0ff"/><stop offset="0.786" stop-color="#25ffd9"/><stop offset="0.821" stop-color="#44ffba"/><stop offset="0.857" stop-color="#00feff"/><stop offset="0.893" stop-color="#68ff96"/><stop offset="0.929" stop-color="#2effd0"/><stop offset="0.964" stop-color="#00efff"/><stop offset="1.000" stop-color="#00faff"/></linearGradient>
<linearGradient id="h17" x1="0" y1="0" x2="0" y2="1"><stop offset="0.000" stop-color="#ffb000"/><stop offset="0.036" stop-color="#ffa700"/><stop offset="0.071" stop-color="#ffdc00"/><stop offset="0.107" stop-color="#fffc00"/><stop offset="0.143" stop-color="#cdff31"/><stop offset="0.179" stop-color="#eaff14"/><stop offset="0.214" stop-color="#e4ff1a"/><stop offset="0.250" stop-color="#fffa00"/><stop offset="0.286" stop-color="#d6ff28"/><stop offset="0.321" stop-color="#ddff21"/><stop offset="0.357" stop-color="#d2ff2c"/><stop offset="0.393" stop-color="#c0ff3e"/><stop offset="0.429" stop-color="#b8ff46"/><stop offset="0.464" stop-color="#baff44"/><stop offset="0.500" stop-color="#b5ff49"/><stop offset="0.536" stop-color="#f8ff06"/><stop offset="0.571" stop-color="#fff600"/><stop offset="0.607" stop-color="#d6ff28"/><stop offset="0.643" stop-color="#fff700"/><stop offset="0.679" stop-color="#ffe800"/><stop offset="0.714" stop-color="#ffb200"/><stop offset="0.750" stop-color="#ffd800"/><stop offset="0.786" stop-color="#ffec00"/><stop offset="0.821" stop-color="#f4ff0a"/><stop offset="0.857" stop-color="#fff800"/><stop offset="0.893" stop-color="#ffe000"/><stop offset="0.929" stop-color="#ffe100"/><stop offset="0.964" stop-color="#fff200"/><stop offset="1.000" stop-color="#ffdb00"/></linearGradient>
<linearGradient id="h18" x1="0" y1="0" x2="0" y2="1"><stop offset="0.000" stop-color="#ffd000"/><stop offset="0.036" stop-color="#faff04"/><stop offset="0.071" stop-color="#ffe600"/><stop offset="0.107" stop-color="#edff11"/><stop offset="0.143" stop-color="#dfff1f"/><stop offset="0.179" stop-color="#fff600"/><stop offset="0.214" stop-color="#ff8500"/><stop offset="0.250" stop-color="#ff8100"/><stop offset="0.286" stop-color="#ffae00"/><stop offset="0.321" stop-color="#ffce00"/><stop offset="0.357" stop-color="#ffa600"/><stop offset="0.393" stop-color="#ff7f00"/><stop offset="0.429" stop-color="#ff7400"/><stop offset="0.464" stop-color="#ffb100"/><stop offset="0.500" stop-color="#ffbd00"/><stop offset="0.536" stop-color="#ffdd00"/><stop offset="0.571" stop-color="#ffea00"/><stop offset="0.607" stop-color="#f1ff0d"/><stop offset="0.643" stop-color="#fdff01"/><stop offset="0.679" stop-color="#a9ff55"/><stop offset="0.714" stop-color="#acff52"/><stop offset="0.750" stop-color="#faff04"/><stop offset="0.786" stop-color="#e2ff1c"/><stop offset="0.821" stop-color="#ffe200"/><stop offset="0.857" stop-color="#e0ff1e"/><stop offset="0.893" stop-color="#efff0f"/><stop offset="0.929" stop-color="#ffe200"/><stop offset="0.964" stop-color="#ecff12"/><stop offset="1.000" stop-color="#e5ff19"/></linearGradient>
<linearGradient id="h19" x1="0" y1="0" x2="0" y2="1"><stop offset="0.000" stop-color="#c60000"/><stop offset="0.036" stop-color="#c60000"/><stop offset="0.071" stop-color="#c60000"/><stop offset="0.107" stop-color="#c60000"/><stop offset="0.143" stop-color="#c60000"/><stop offset="0.179" stop-color="#c60000"/><stop offset="0.214" stop-color="#c60000"/><stop offset="0.250" stop-color="#c60000"/><stop offset="0.286" stop-color="#c60000"/><stop offset="0.321" stop-color="#c60000"/><stop offset="0.357" stop-color="#d00000"/><stop offset="0.393" stop-color="#c60000"/><stop offset="0.429" stop-color="#c60000"/><stop offset="0.464" stop-color="#c60000"/><stop offset="0.500" stop-color="#c60000"/><stop offset="0.536" stop-color="#c60000"/><stop offset="0.571" stop-color="#c60000"/><stop offset="0.607" stop-color="#c60000"/><stop offset="0.643" stop-color="#c60000"/><stop offset="0.679" stop-color="#c60000"/><stop offset="0.714" stop-color="#c60000"/><stop offset="0.750" stop-color="#c60000"/><stop offset="0.786" stop-color="#c60000"/><stop offset="0.821" stop-color="#c60000"/><stop offset="0.857" stop-color="#c60000"/><stop offset="0.893" stop-color="#c60000"/><stop offset="0.929" stop-color="#c60000"/><stop offset="0.964" stop-color="#c60000"/><stop offset="1.000" stop-color="#c60000"/></linearGradient>
<linearGradient id="h20" x1="0" y1="0" x2="0" y2="1"><stop offset="0.000" stop-color="#ff1f00"/><stop offset="0.036" stop-color="#ff5a00"/><stop offset="0.071" stop-color="#ff4500"/><stop offset="0.107" stop-color="#ff3800"/><stop offset="0.143" stop-color="#ff9700"/><stop offset="0.179" stop-color="#ff3800"/><stop offset="0.214" stop-color="#ff3d00"/><stop offset="0.250" stop-color="#ff5500"/><stop offset="0.286" stop-color="#e40000"/><stop offset="0.321" stop-color="#ff1200"/><stop offset="0.357" stop-color="#ff5100"/><stop offset="0.393" stop-color="#ff5200"/><stop offset="0.429" stop-color="#ff3400"/><stop offset="0.464" stop-color="#ff1900"/><stop offset="0.500" stop-color="#ff3500"/><stop offset="0.536" stop-color="#ff6a00"/><stop offset="0.571" stop-color="#ff7c00"/><stop offset="0.607" stop-color="#ff8b00"/><stop offset="0.643" stop-color="#ff9d00"/><stop offset="0.679" stop-color="#ff7600"/><stop offset="0.714" stop-color="#ff7800"/><stop offset="0.750" stop-color="#ff6000"/><stop offset="0.786" stop-color="#ff7d00"/><stop offset="0.821" stop-color="#ff8e00"/><stop offset="0.857" stop-color="#ff7600"/><stop offset="0.893" stop-color="#ff7100"/><stop offset="0.929" stop-color="#ff2800"/><stop offset="0.964" stop-color="#ff6500"/><stop offset="1.000" stop-color="#ff4f00"/></linearGradient>
<linearGradient id="h21" x1="0" y1="0" x2="0" y2="1"><stop offset="0.000" stop-color="#d6ff28"/><stop offset="0.036" stop-color="#ffe500"/><stop offset="0.071" stop-color="#ffdf00"/><stop offset="0.107" stop-color="#b6ff48"/><stop offset="0.143" stop-color="#fffc00"/><stop offset="0.179" stop-color="#ffc600"/><stop offset="0.214" stop-color="#fffd00"/><stop offset="0.250" stop-color="#ffa200"/><stop offset="0.286" stop-color="#ffbe00"/><stop offset="0.321" stop-color="#f3ff0b"/><stop offset="0.357" stop-color="#ffdf00"/><stop offset="0.393" stop-color="#fff500"/><stop offset="0.429" stop-color="#cfff2f"/><stop offset="0.464" stop-color="#8cff72"/><stop offset="0.500" stop-color="#dcff22"/><stop offset="0.536" stop-color="#d5ff29"/><stop offset="0.571" stop-color="#ffea00"/><stop offset="0.607" stop-color="#ffd700"/><stop offset="0.643" stop-color="#fff800"/><stop offset="0.679" stop-color="#f3ff0b"/><stop offset="0.714" stop-color="#ffa500"/><stop offset="0.750" stop-color="#ff7600"/><stop offset="0.786" stop-color="#ff8c00"/><stop offset="0.821" stop-color="#ffcb00"/><stop offset="0.857" stop-color="#f5ff09"/><stop offset="0.893" stop-color="#f2ff0c"/><stop offset="0.929" stop-color="#ffab00"/><stop offset="0.964" stop-color="#ffb400"/><stop offset="1.000" stop-color="#ffdc00"/></linearGradient>
<linearGradient id="h22" x1="0" y1="0" x2="0" y2="1"><stop offset="0.000" stop-color="#68ff96"/><stop offset="0.036" stop-color="#3affc4"/><stop offset="0.071" stop-color="#4effb0"/><stop offset="0.107" stop-color="#7aff84"/><stop offset="0.143" stop-color="#a0ff5e"/><stop offset="0.179" stop-color="#86ff78"/><stop offset="0.214" stop-color="#63ff9b"/><stop offset="0.250" stop-color="#6cff92"/><stop offset="0.286" stop-color="#bbff43"/><stop offset="0.321" stop-color="#9fff5f"/><stop offset="0.357" stop-color="#3dffc1"/><stop offset="0.393" stop-color="#98ff66"/><stop offset="0.429" stop-color="#88ff76"/><stop offset="0.464" stop-color="#ffe400"/><stop offset="0.500" stop-color="#a6ff58"/><stop offset="0.536" stop-color="#7fff7f"/><stop offset="0.571" stop-color="#61ff9d"/><stop offset="0.607" stop-color="#72ff8c"/><stop offset="0.643" stop-color="#4effb0"/><stop offset="0.679" stop-color="#11ffed"/><stop offset="0.714" stop-color="#00dcff"/><stop offset="0.750" stop-color="#19ffe5"/><stop offset="0.786" stop-color="#24ffda"/><stop offset="0.821" stop-color="#27ffd7"/><stop offset="0.857" stop-color="#a8ff56"/><stop offset="0.893" stop-color="#a9ff55"/><stop offset="0.929" stop-color="#b8ff46"/><stop offset="0.964" stop-color="#74ff8a"/><stop offset="1.000" stop-color="#78ff86"/></linearGradient>
<linearGradient id="h23" x1="0" y1="0" x2="0" y2="1"><stop offset="0.000" stop-color="#faff04"/><stop offset="0.036" stop-color="#ffda00"/><stop offset="0.071" stop-color="#ffcd00"/><stop offset="0.107" stop-color="#ffd500"/><stop offset="0.143" stop-color="#ffe000"/><stop offset="0.179" stop-color="#ccff32"/><stop offset="0.214" stop-color="#c5ff39"/><stop offset="0.250" stop-color="#f7ff07"/><stop offset="0.286" stop-color="#ecff12"/><stop offset="0.321" stop-color="#d3ff2b"/><stop offset="0.357" stop-color="#fdff01"/><stop offset="0.393" stop-color="#d5ff29"/><stop offset="0.429" stop-color="#cdff31"/><stop offset="0.464" stop-color="#ffeb00"/><stop offset="0.500" stop-color="#faff04"/><stop offset="0.536" stop-color="#ffba00"/><stop offset="0.571" stop-color="#ffc100"/><stop offset="0.607" stop-color="#ffb700"/><stop offset="0.643" stop-color="#ffa200"/><stop offset="0.679" stop-color="#c9ff35"/><stop offset="0.714" stop-color="#e3ff1b"/><stop offset="0.750" stop-color="#b7ff47"/><stop offset="0.786" stop-color="#c7ff37"/><stop offset="0.821" stop-color="#e1ff1d"/><stop offset="0.857" stop-color="#ffd000"/><stop offset="0.893" stop-color="#ffe600"/><stop offset="0.929" stop-color="#ffa200"/><stop offset="0.964" stop-color="#ffe600"/><stop offset="1.000" stop-color="#fff200"/></linearGradient>
<linearGradient id="h24" x1="0" y1="0" x2="0" y2="1"><stop offset="0.000" stop-color="#ff9600"/><stop offset="0.036" stop-color="#ffaf00"/><stop offset="0.071" stop-color="#ffd600"/><stop offset="0.107" stop-color="#ffdc00"/><stop offset="0.143" stop-color="#ecff12"/><stop offset="0.179" stop-color="#ffaf00"/><stop offset="0.214" stop-color="#ff9600"/><stop offset="0.250" stop-color="#ff9800"/><stop offset="0.286" stop-color="#ffa000"/><stop offset="0.321" stop-color="#ffce00"/><stop offset="0.357" stop-color="#ffdc00"/><stop offset="0.393" stop-color="#ffa900"/><stop offset="0.429" stop-color="#ffdb00"/><stop offset="0.464" stop-color="#fff400"/><stop offset="0.500" stop-color="#ff9100"/><stop offset="0.536" stop-color="#ff6000"/><stop offset="0.571" stop-color="#ff8400"/><stop offset="0.607" stop-color="#ff8a00"/><stop offset="0.643" stop-color="#ff9e00"/><stop offset="0.679" stop-color="#ff6d00"/><stop offset="0.714" stop-color="#ffad00"/><stop offset="0.750" stop-color="#ffb400"/><stop offset="0.786" stop-color="#ffa500"/><stop offset="0.821" stop-color="#ff7000"/><stop offset="0.857" stop-color="#ffa500"/><stop offset="0.893" stop-color="#ffa900"/><stop offset="0.929" stop-color="#ffcd00"/><stop offset="0.964" stop-color="#ffe700"/><stop offset="1.000" stop-color="#fff400"/></linearGradient>
<linearGradient id="h25" x1="0" y1="0" x2="0" y2="1"><stop offset="0.000" stop-color="#ff9300"/><stop offset="0.036" stop-color="#ffc800"/><stop offset="0.071" stop-color="#ffde00"/><stop offset="0.107" stop-color="#ffe000"/><stop offset="0.143" stop-color="#ffbe00"/><stop offset="0.179" stop-color="#ff9c00"/><stop offset="0.214" stop-color="#ffe700"/><stop offset="0.250" stop-color="#ffc100"/><stop offset="0.286" stop-color="#ffed00"/><stop offset="0.321" stop-color="#ffb300"/><stop offset="0.357" stop-color="#ffe500"/><stop offset="0.393" stop-color="#faff04"/><stop offset="0.429" stop-color="#fcff02"/><stop offset="0.464" stop-color="#ffe200"/><stop offset="0.500" stop-color="#fffd00"/><stop offset="0.536" stop-color="#ffd300"/><stop offset="0.571" stop-color="#ffc100"/><stop offset="0.607" stop-color="#ffbb00"/><stop offset="0.643" stop-color="#ffaf00"/><stop offset="0.679" stop-color="#ff8d00"/><stop offset="0.714" stop-color="#ffc700"/><stop offset="0.750" stop-color="#ffc100"/><stop offset="0.786" stop-color="#ffc000"/><stop offset="0.821" stop-color="#dfff1f"/><stop offset="0.857" stop-color="#ffdb00"/><stop offset="0.893" stop-color="#fff000"/><stop offset="0.929" stop-color="#fff700"/><stop offset="0.964" stop-color="#ffef00"/><stop offset="1.000" stop-color="#ffd100"/></linearGradient>
<linearGradient id="h26" x1="0" y1="0" x2="0" y2="1"><stop offset="0.000" stop-color="#ff7600"/><stop offset="0.036" stop-color="#ffa200"/><stop offset="0.071" stop-color="#ff7700"/><stop offset="0.107" stop-color="#ff6e00"/><stop offset="0.143" stop-color="#ff9000"/><stop offset="0.179" stop-color="#ff8f00"/><stop offset="0.214" stop-color="#ff6900"/><stop offset="0.250" stop-color="#ff6700"/><stop offset="0.286" stop-color="#ff5900"/><stop offset="0.321" stop-color="#ff6e00"/><stop offset="0.357" stop-color="#ff4800"/><stop offset="0.393" stop-color="#ff0300"/><stop offset="0.429" stop-color="#ff3300"/><stop offset="0.464" stop-color="#ffab00"/><stop offset="0.500" stop-color="#ff4b00"/><stop offset="0.536" stop-color="#ff8700"/><stop offset="0.571" stop-color="#ffca00"/><stop offset="0.607" stop-color="#e3ff1b"/><stop offset="0.643" stop-color="#ffc000"/><stop offset="0.679" stop-color="#ff7300"/><stop offset="0.714" stop-color="#ff5200"/><stop offset="0.750" stop-color="#ff8100"/><stop offset="0.786" stop-color="#ff4400"/><stop offset="0.821" stop-color="#ff6c00"/><stop offset="0.857" stop-color="#ff9800"/><stop offset="0.893" stop-color="#ff8f00"/><stop offset="0.929" stop-color="#ff8400"/><stop offset="0.964" stop-color="#ff8600"/><stop offset="1.000" stop-color="#ff7700"/></linearGradient>
<linearGradient id="h27" x1="0" y1="0" x2="0" y2="1"><stop offset="0.000" stop-color="#41ffbd"/><stop offset="0.036" stop-color="#02fffc"/><stop offset="0.071" stop-color="#1cffe2"/><stop offset="0.107" stop-color="#00e4ff"/><stop offset="0.143" stop-color="#00f5ff"/><stop offset="0.179" stop-color="#00eeff"/><stop offset="0.214" stop-color="#00a9ff"/><stop offset="0.250" stop-color="#00e2ff"/><stop offset="0.286" stop-color="#0bfff3"/><stop offset="0.321" stop-color="#00cdff"/><stop offset="0.357" stop-color="#0081ff"/><stop offset="0.393" stop-color="#009eff"/><stop offset="0.429" stop-color="#00a3ff"/><stop offset="0.464" stop-color="#00d3ff"/><stop offset="0.500" stop-color="#00e4ff"/><stop offset="0.536" stop-color="#3affc4"/><stop offset="0.571" stop-color="#37ffc7"/><stop offset="0.607" stop-color="#0cfff2"/><stop offset="0.643" stop-color="#0afff4"/><stop offset="0.679" stop-color="#007aff"/><stop offset="0.714" stop-color="#008fff"/><stop offset="0.750" stop-color="#0098ff"/><stop offset="0.786" stop-color="#00c3ff"/><stop offset="0.821" stop-color="#00ecff"/><stop offset="0.857" stop-color="#00fcff"/><stop offset="0.893" stop-color="#26ffd8"/><stop offset="0.929" stop-color="#00eeff"/><stop offset="0.964" stop-color="#02fffc"/><stop offset="1.000" stop-color="#00f6ff"/></linearGradient>
<linearGradient id="h28" x1="0" y1="0" x2="0" y2="1"><stop offset="0.000" stop-color="#ff9900"/><stop offset="0.036" stop-color="#ffad00"/><stop offset="0.071" stop-color="#ffa100"/><stop offset="0.107" stop-color="#ffa600"/><stop offset="0.143" stop-color="#ff7700"/><stop offset="0.179" stop-color="#ff9500"/><stop offset="0.214" stop-color="#ff9000"/><stop offset="0.250" stop-color="#ff2300"/><stop offset="0.286" stop-color="#ff4900"/><stop offset="0.321" stop-color="#ff6000"/><stop offset="0.357" stop-color="#ff5200"/><stop offset="0.393" stop-color="#ffac00"/><stop offset="0.429" stop-color="#ff8900"/><stop offset="0.464" stop-color="#ff7600"/><stop offset="0.500" stop-color="#ff7a00"/><stop offset="0.536" stop-color="#ff6400"/><stop offset="0.571" stop-color="#ff6100"/><stop offset="0.607" stop-color="#ff4d00"/><stop offset="0.643" stop-color="#ff9800"/><stop offset="0.679" stop-color="#ff8c00"/><stop offset="0.714" stop-color="#ffb300"/><stop offset="0.750" stop-color="#ff7400"/><stop offset="0.786" stop-color="#ff8800"/><stop offset="0.821" stop-color="#ffd400"/><stop offset="0.857" stop-color="#ffb900"/><stop offset="0.893" stop-color="#ffdf00"/><stop offset="0.929" stop-color="#ff9600"/><stop offset="0.964" stop-color="#ffae00"/><stop offset="1.000" stop-color="#ecff12"/></linearGradient>
<linearGradient id="h29" x1="0" y1="0" x2="0" y2="1"><stop offset="0.000" stop-color="#ffaa00"/><stop offset="0.036" stop-color="#ffb200"/><stop offset="0.071" stop-color="#ffe300"/><stop offset="0.107" stop-color="#ffc000"/><stop offset="0.143" stop-color="#ffb200"/><stop offset="0.179" stop-color="#ff8100"/><stop offset="0.214" stop-color="#ff8300"/><stop offset="0.250" stop-color="#ff9d00"/><stop offset="0.286" stop-color="#ffe000"/><stop offset="0.321" stop-color="#ffcf00"/><stop offset="0.357" stop-color="#ffc600"/><stop offset="0.393" stop-color="#ffcf00"/><stop offset="0.429" stop-color="#ffc000"/><stop offset="0.464" stop-color="#f9ff05"/><stop offset="0.500" stop-color="#ffd400"/><stop offset="0.536" stop-color="#ffd600"/><stop offset="0.571" stop-color="#ffc700"/><stop offset="0.607" stop-color="#ffd400"/><stop offset="0.643" stop-color="#ffe500"/><stop offset="0.679" stop-color="#ffd300"/><stop offset="0.714" stop-color="#ffb200"/><stop offset="0.750" stop-color="#ffd400"/><stop offset="0.786" stop-color="#ffc800"/><stop offset="0.821" stop-color="#fff400"/><stop offset="0.857" stop-color="#ffd300"/><stop offset="0.893" stop-color="#ffd500"/><stop offset="0.929" stop-color="#ebff13"/><stop offset="0.964" stop-color="#ffc000"/><stop offset="1.000" stop-color="#fff600"/></linearGradient>
<linearGradient id="h30" x1="0" y1="0" x2="0" y2="1"><stop offset="0.000" stop-color="#ffc200"/><stop offset="0.036" stop-color="#fff400"/><stop offset="0.071" stop-color="#ff9e00"/><stop offset="0.107" stop-color="#ffd300"/><stop offset="0.143" stop-color="#f1ff0d"/><stop offset="0.179" stop-color="#ffd300"/><stop offset="0.214" stop-color="#fff400"/><stop offset="0.250" stop-color="#ffc600"/><stop offset="0.286" stop-color="#ff5100"/><stop offset="0.321" stop-color="#ff7d00"/><stop offset="0.357" stop-color="#ff7100"/><stop offset="0.393" stop-color="#ff6100"/><stop offset="0.429" stop-color="#ff6800"/><stop offset="0.464" stop-color="#ff7c00"/><stop offset="0.500" stop-color="#ff3b00"/><stop offset="0.536" stop-color="#ff6400"/><stop offset="0.571" stop-color="#ff6400"/><stop offset="0.607" stop-color="#ff7000"/><stop offset="0.643" stop-color="#ffb600"/><stop offset="0.679" stop-color="#ff8f00"/><stop offset="0.714" stop-color="#ff8800"/><stop offset="0.750" stop-color="#ff6900"/><stop offset="0.786" stop-color="#ff5700"/><stop offset="0.821" stop-color="#ff2600"/><stop offset="0.857" stop-color="#ffad00"/><stop offset="0.893" stop-color="#ffb300"/><stop offset="0.929" stop-color="#ffb200"/><stop offset="0.964" stop-color="#ffc400"/><stop offset="1.000" stop-color="#ff9100"/></linearGradient>
<linearGradient id="h31" x1="0" y1="0" x2="0" y2="1"><stop offset="0.000" stop-color="#ff8b00"/><stop offset="0.036" stop-color="#ffd900"/><stop offset="0.071" stop-color="#ffe100"/><stop offset="0.107" stop-color="#ffbc00"/><stop offset="0.143" stop-color="#ffbc00"/><stop offset="0.179" stop-color="#ffc200"/><stop offset="0.214" stop-color="#ffaf00"/><stop offset="0.250" stop-color="#ffad00"/><stop offset="0.286" stop-color="#ffd000"/><stop offset="0.321" stop-color="#ff6400"/><stop offset="0.357" stop-color="#ff9a00"/><stop offset="0.393" stop-color="#ff7800"/><stop offset="0.429" stop-color="#ff6900"/><stop offset="0.464" stop-color="#ff5100"/><stop offset="0.500" stop-color="#ff8b00"/><stop offset="0.536" stop-color="#ffbc00"/><stop offset="0.571" stop-color="#ff9300"/><stop offset="0.607" stop-color="#ff8600"/><stop offset="0.643" stop-color="#fff800"/><stop offset="0.679" stop-color="#c0ff3e"/><stop offset="0.714" stop-color="#fdff01"/><stop offset="0.750" stop-color="#ffdb00"/><stop offset="0.786" stop-color="#ffc200"/><stop offset="0.821" stop-color="#ff9700"/><stop offset="0.857" stop-color="#ffc100"/><stop offset="0.893" stop-color="#ff2f00"/><stop offset="0.929" stop-color="#ff3700"/><stop offset="0.964" stop-color="#ff2800"/><stop offset="1.000" stop-color="#ff5000"/></linearGradient>
<linearGradient id="h32" x1="0" y1="0" x2="0" y2="1"><stop offset="0.000" stop-color="#53ffab"/><stop offset="0.036" stop-color="#34ffca"/><stop offset="0.071" stop-color="#53ffab"/><stop offset="0.107" stop-color="#48ffb6"/><stop offset="0.143" stop-color="#67ff97"/><stop offset="0.179" stop-color="#2fffcf"/><stop offset="0.214" stop-color="#2bffd3"/><stop offset="0.250" stop-color="#3affc4"/><stop offset="0.286" stop-color="#1effe0"/><stop offset="0.321" stop-color="#1effe0"/><stop offset="0.357" stop-color="#50ffae"/><stop offset="0.393" stop-color="#a4ff5a"/><stop offset="0.429" stop-color="#6dff91"/><stop offset="0.464" stop-color="#80ff7e"/><stop offset="0.500" stop-color="#30ffce"/><stop offset="0.536" stop-color="#27ffd7"/><stop offset="0.571" stop-color="#47ffb7"/><stop offset="0.607" stop-color="#62ff9c"/><stop offset="0.643" stop-color="#26ffd8"/><stop offset="0.679" stop-color="#53ffab"/><stop offset="0.714" stop-color="#54ffaa"/><stop offset="0.750" stop-color="#8aff74"/><stop offset="0.786" stop-color="#94ff6a"/><stop offset="0.821" stop-color="#87ff77"/><stop offset="0.857" stop-color="#56ffa8"/><stop offset="0.893" stop-color="#5bffa3"/><stop offset="0.929" stop-color="#2affd4"/><stop offset="0.964" stop-color="#13ffeb"/><stop offset="1.000" stop-color="#00d8ff"/></linearGradient>
<linearGradient id="h33" x1="0" y1="0" x2="0" y2="1"><stop offset="0.000" stop-color="#8dff71"/><stop offset="0.036" stop-color="#a6ff58"/><stop offset="0.071" stop-color="#bbff43"/><stop offset="0.107" stop-color="#84ff7a"/><stop offset="0.143" stop-color="#a1ff5d"/><stop offset="0.179" stop-color="#c7ff37"/><stop offset="0.214" stop-color="#f2ff0c"/><stop offset="0.250" stop-color="#d8ff26"/><stop offset="0.286" stop-color="#daff24"/><stop offset="0.321" stop-color="#bfff3f"/><stop offset="0.357" stop-color="#eeff10"/><stop offset="0.393" stop-color="#93ff6b"/><stop offset="0.429" stop-color="#b8ff46"/><stop offset="0.464" stop-color="#55ffa9"/><stop offset="0.500" stop-color="#ddff21"/><stop offset="0.536" stop-color="#fcff02"/><stop offset="0.571" stop-color="#81ff7d"/><stop offset="0.607" stop-color="#8cff72"/><stop offset="0.643" stop-color="#69ff95"/><stop offset="0.679" stop-color="#47ffb7"/><stop offset="0.714" stop-color="#74ff8a"/><stop offset="0.750" stop-color="#75ff89"/><stop offset="0.786" stop-color="#ceff30"/><stop offset="0.821" stop-color="#b3ff4b"/><stop offset="0.857" stop-color="#8aff74"/><stop offset="0.893" stop-color="#a5ff59"/><stop offset="0.929" stop-color="#c9ff35"/><stop offset="0.964" stop-color="#edff11"/><stop offset="1.000" stop-color="#f1ff0d"/></linearGradient>
<linearGradient id="h34" x1="0" y1="0" x2="0" y2="1"><stop offset="0.000" stop-color="#8cff72"/><stop offset="0.036" stop-color="#96ff68"/><stop offset="0.071" stop-color="#7dff81"/><stop offset="0.107" stop-color="#b9ff45"/><stop offset="0.143" stop-color="#a5ff59"/><stop offset="0.179" stop-color="#a8ff56"/><stop offset="0.214" stop-color="#9bff63"/><stop offset="0.250" stop-color="#a8ff56"/><stop offset="0.286" stop-color="#68ff96"/><stop offset="0.321" stop-color="#ecff12"/><stop offset="0.357" stop-color="#b5ff49"/><stop offset="0.393" stop-color="#91ff6d"/><stop offset="0.429" stop-color="#50ffae"/><stop offset="0.464" stop-color="#7cff82"/><stop offset="0.500" stop-color="#57ffa7"/><stop offset="0.536" stop-color="#93ff6b"/><stop offset="0.571" stop-color="#d9ff25"/><stop offset="0.607" stop-color="#e1ff1d"/><stop offset="0.643" stop-color="#b4ff4a"/><stop offset="0.679" stop-color="#edff11"/><stop offset="0.714" stop-color="#c6ff38"/><stop offset="0.750" stop-color="#b9ff45"/><stop offset="0.786" stop-color="#b8ff46"/><stop offset="0.821" stop-color="#9eff60"/><stop offset="0.857" stop-color="#bbff43"/><stop offset="0.893" stop-color="#7dff81"/><stop offset="0.929" stop-color="#46ffb8"/><stop offset="0.964" stop-color="#b2ff4c"/><stop offset="1.000" stop-color="#90ff6e"/></linearGradient>
<linearGradient id="h35" x1="0" y1="0" x2="0" y2="1"><stop offset="0.000" stop-color="#ff8d00"/><stop offset="0.036" stop-color="#ffaa00"/><stop offset="0.071" stop-color="#ffd900"/><stop offset="0.107" stop-color="#ffc400"/><stop offset="0.143" stop-color="#ffdc00"/><stop offset="0.179" stop-color="#ffa300"/><stop offset="0.214" stop-color="#ffb400"/><stop offset="0.250" stop-color="#ffb400"/><stop offset="0.286" stop-color="#ff8500"/><stop offset="0.321" stop-color="#ffd800"/><stop offset="0.357" stop-color="#fffe00"/><stop offset="0.393" stop-color="#ffac00"/><stop offset="0.429" stop-color="#ff6a00"/><stop offset="0.464" stop-color="#ff7f00"/><stop offset="0.500" stop-color="#ffae00"/><stop offset="0.536" stop-color="#ff6d00"/><stop offset="0.571" stop-color="#ff6d00"/><stop offset="0.607" stop-color="#ff5600"/><stop offset="0.643" stop-color="#ffcc00"/><stop offset="0.679" stop-color="#ffba00"/><stop offset="0.714" stop-color="#ffdb00"/><stop offset="0.750" stop-color="#ffee00"/><stop offset="0.786" stop-color="#ffab00"/><stop offset="0.821" stop-color="#ff8200"/><stop offset="0.857" stop-color="#ffa500"/><stop offset="0.893" stop-color="#ffac00"/><stop offset="0.929" stop-color="#ff6500"/><stop offset="0.964" stop-color="#ff6300"/><stop offset="1.000" stop-color="#ff8500"/></linearGradient>
<linearGradient id="h36" x1="0" y1="0" x2="0" y2="1"><stop offset="0.000" stop-color="#ff1200"/><stop offset="0.036" stop-color="#ff4f00"/><stop offset="0.071" stop-color="#ff4b00"/><stop offset="0.107" stop-color="#ff2400"/><stop offset="0.143" stop-color="#ff0200"/><stop offset="0.179" stop-color="#ff4400"/><stop offset="0.214" stop-color="#ff5200"/><stop offset="0.250" stop-color="#ff5000"/><stop offset="0.286" stop-color="#ff7900"/><stop offset="0.321" stop-color="#ff1600"/><stop offset="0.357" stop-color="#ff0200"/><stop offset="0.393" stop-color="#d00000"/><stop offset="0.429" stop-color="#ff5800"/><stop offset="0.464" stop-color="#ff5d00"/><stop offset="0.500" stop-color="#e60000"/><stop offset="0.536" stop-color="#ff4000"/><stop offset="0.571" stop-color="#ff7f00"/><stop offset="0.607" stop-color="#ff4100"/><stop offset="0.643" stop-color="#e40000"/><stop offset="0.679" stop-color="#e00000"/><stop offset="0.714" stop-color="#ff2800"/><stop offset="0.750" stop-color="#ff0700"/><stop offset="0.786" stop-color="#fb0000"/><stop offset="0.821" stop-color="#fd0000"/><stop offset="0.857" stop-color="#f80000"/><stop offset="0.893" stop-color="#e20000"/><stop offset="0.929" stop-color="#c70000"/><stop offset="0.964" stop-color="#c60000"/><stop offset="1.000" stop-color="#c60000"/></linearGradient>
<linearGradient id="h37" x1="0" y1="0" x2="0" y2="1"><stop offset="0.000" stop-color="#ffce00"/><stop offset="0.036" stop-color="#ff8b00"/><stop offset="0.071" stop-color="#ffc800"/><stop offset="0.107" stop-color="#ff3900"/><stop offset="0.143" stop-color="#ff8e00"/><stop offset="0.179" stop-color="#ffd900"/><stop offset="0.214" stop-color="#fffe00"/><stop offset="0.250" stop-color="#ffaa00"/><stop offset="0.286" stop-color="#ff8500"/><stop offset="0.321" stop-color="#ff6200"/><stop offset="0.357" stop-color="#ff6100"/><stop offset="0.393" stop-color="#ff9100"/><stop offset="0.429" stop-color="#ff6100"/><stop offset="0.464" stop-color="#ff8d00"/><stop offset="0.500" stop-color="#ffc900"/><stop offset="0.536" stop-color="#ff7800"/><stop offset="0.571" stop-color="#ff6100"/><stop offset="0.607" stop-color="#ff9800"/><stop offset="0.643" stop-color="#ff9500"/><stop offset="0.679" stop-color="#ff5900"/><stop offset="0.714" stop-color="#ff3f00"/><stop offset="0.750" stop-color="#ff8e00"/><stop offset="0.786" stop-color="#ff5100"/><stop offset="0.821" stop-color="#ffdc00"/><stop offset="0.857" stop-color="#ffa700"/><stop offset="0.893" stop-color="#ff7f00"/><stop offset="0.929" stop-color="#ff8200"/><stop offset="0.964" stop-color="#ff7900"/><stop offset="1.000" stop-color="#ffc300"/></linearGradient>
<linearGradient id="h38" x1="0" y1="0" x2="0" y2="1"><stop offset="0.000" stop-color="#ff6300"/><stop offset="0.036" stop-color="#ff9900"/><stop offset="0.071" stop-color="#ff8400"/><stop offset="0.107" stop-color="#ff8700"/><stop offset="0.143" stop-color="#ffe800"/><stop offset="0.179" stop-color="#ffcd00"/><stop offset="0.214" stop-color="#ff8900"/><stop offset="0.250" stop-color="#ffc900"/><stop offset="0.286" stop-color="#ffa100"/><stop offset="0.321" stop-color="#ff7e00"/><stop offset="0.357" stop-color="#ffb700"/><stop offset="0.393" stop-color="#ffa400"/><stop offset="0.429" stop-color="#ff6600"/><stop offset="0.464" stop-color="#ff4f00"/><stop offset="0.500" stop-color="#ff9200"/><stop offset="0.536" stop-color="#ff5800"/><stop offset="0.571" stop-color="#ff5900"/><stop offset="0.607" stop-color="#ff6400"/><stop offset="0.643" stop-color="#ff2a00"/><stop offset="0.679" stop-color="#ff3000"/><stop offset="0.714" stop-color="#ff4400"/><stop offset="0.750" stop-color="#ff3300"/><stop offset="0.786" stop-color="#ff3800"/><stop offset="0.821" stop-color="#ff1f00"/><stop offset="0.857" stop-color="#ff5200"/><stop offset="0.893" stop-color="#ffb700"/><stop offset="0.929" stop-color="#ff5100"/><stop offset="0.964" stop-color="#ff4100"/><stop offset="1.000" stop-color="#ff4500"/></linearGradient>
<linearGradient id="h39" x1="0" y1="0" x2="0" y2="1"><stop offset="0.000" stop-color="#ff6800"/><stop offset="0.036" stop-color="#ff6100"/><stop offset="0.071" stop-color="#ff8e00"/><stop offset="0.107" stop-color="#ff5500"/><stop offset="0.143" stop-color="#ff5900"/><stop offset="0.179" stop-color="#ff8a00"/><stop offset="0.214" stop-color="#ff6b00"/><stop offset="0.250" stop-color="#ff7600"/><stop offset="0.286" stop-color="#ff6e00"/><stop offset="0.321" stop-color="#ff5000"/><stop offset="0.357" stop-color="#dd0000"/><stop offset="0.393" stop-color="#ff5200"/><stop offset="0.429" stop-color="#ff4800"/><stop offset="0.464" stop-color="#ff3500"/><stop offset="0.500" stop-color="#ff3900"/><stop offset="0.536" stop-color="#ff0a00"/><stop offset="0.571" stop-color="#ff4b00"/><stop offset="0.607" stop-color="#ff6600"/><stop offset="0.643" stop-color="#ff6600"/><stop offset="0.679" stop-color="#ffa300"/><stop offset="0.714" stop-color="#ff5100"/><stop offset="0.750" stop-color="#ff9300"/><stop offset="0.786" stop-color="#ff6200"/><stop offset="0.821" stop-color="#ff2c00"/><stop offset="0.857" stop-color="#ff6e00"/><stop offset="0.893" stop-color="#ff7100"/><stop offset="0.929" stop-color="#ff7400"/><stop offset="0.964" stop-color="#ff1d00"/><stop offset="1.000" stop-color="#ff3400"/></linearGradient>
<linearGradient id="h40" x1="0" y1="0" x2="0" y2="1"><stop offset="0.000" stop-color="#b3ff4b"/><stop offset="0.036" stop-color="#caff34"/><stop offset="0.071" stop-color="#4affb4"/><stop offset="0.107" stop-color="#00e7ff"/><stop offset="0.143" stop-color="#adff51"/><stop offset="0.179" stop-color="#9bff63"/><stop offset="0.214" stop-color="#2cffd2"/><stop offset="0.250" stop-color="#87ff77"/><stop offset="0.286" stop-color="#c6ff38"/><stop offset="0.321" stop-color="#36ffc8"/><stop offset="0.357" stop-color="#96ff68"/><stop offset="0.393" stop-color="#acff52"/><stop offset="0.429" stop-color="#96ff68"/><stop offset="0.464" stop-color="#6bff93"/><stop offset="0.500" stop-color="#88ff76"/><stop offset="0.536" stop-color="#5fff9f"/><stop offset="0.571" stop-color="#78ff86"/><stop offset="0.607" stop-color="#71ff8d"/><stop offset="0.643" stop-color="#65ff99"/><stop offset="0.679" stop-color="#8cff72"/><stop offset="0.714" stop-color="#b4ff4a"/><stop offset="0.750" stop-color="#c4ff3a"/><stop offset="0.786" stop-color="#b7ff47"/><stop offset="0.821" stop-color="#eaff14"/><stop offset="0.857" stop-color="#7cff82"/><stop offset="0.893" stop-color="#82ff7c"/><stop offset="0.929" stop-color="#8aff74"/><stop offset="0.964" stop-color="#beff40"/><stop offset="1.000" stop-color="#37ffc7"/></linearGradient>
<linearGradient id="h41" x1="0" y1="0" x2="0" y2="1"><stop offset="0.000" stop-color="#ffcd00"/><stop offset="0.036" stop-color="#ffbc00"/><stop offset="0.071" stop-color="#ff5500"/><stop offset="0.107" stop-color="#ff7f00"/><stop offset="0.143" stop-color="#ffa300"/><stop offset="0.179" stop-color="#ff9d00"/><stop offset="0.214" stop-color="#ff8000"/><stop offset="0.250" stop-color="#ffa700"/><stop offset="0.286" stop-color="#ff6500"/><stop offset="0.321" stop-color="#ffca00"/><stop offset="0.357" stop-color="#ff8a00"/><stop offset="0.393" stop-color="#ff8400"/><stop offset="0.429" stop-color="#ff7300"/><stop offset="0.464" stop-color="#ff5100"/><stop offset="0.500" stop-color="#ff9300"/><stop offset="0.536" stop-color="#ff9500"/><stop offset="0.571" stop-color="#ff9e00"/><stop offset="0.607" stop-color="#ffca00"/><stop offset="0.643" stop-color="#ffe700"/><stop offset="0.679" stop-color="#fff700"/><stop offset="0.714" stop-color="#ffb300"/><stop offset="0.750" stop-color="#dbff23"/><stop offset="0.786" stop-color="#d2ff2c"/><stop offset="0.821" stop-color="#fff100"/><stop offset="0.857" stop-color="#ff9b00"/><stop offset="0.893" stop-color="#ffb100"/><stop offset="0.929" stop-color="#ff7d00"/><stop offset="0.964" stop-color="#ffa100"/><stop offset="1.000" stop-color="#ffc800"/></linearGradient>
<linearGradient id="h42" x1="0" y1="0" x2="0" y2="1"><stop offset="0.000" stop-color="#92ff6c"/><stop offset="0.036" stop-color="#deff20"/><stop offset="0.071" stop-color="#b8ff46"/><stop offset="0.107" stop-color="#71ff8d"/><stop offset="0.143" stop-color="#98ff66"/><stop offset="0.179" stop-color="#51ffad"/><stop offset="0.214" stop-color="#39ffc5"/><stop offset="0.250" stop-color="#95ff69"/><stop offset="0.286" stop-color="#a2ff5c"/><stop offset="0.321" stop-color="#c2ff3c"/><stop offset="0.357" stop-color="#b1ff4d"/><stop offset="0.393" stop-color="#98ff66"/><stop offset="0.429" stop-color="#99ff65"/><stop offset="0.464" stop-color="#82ff7c"/><stop offset="0.500" stop-color="#b7ff47"/><stop offset="0.536" stop-color="#65ff99"/><stop offset="0.571" stop-color="#20ffde"/><stop offset="0.607" stop-color="#2dffd1"/><stop offset="0.643" stop-color="#85ff79"/><stop offset="0.679" stop-color="#6eff90"/><stop offset="0.714" stop-color="#11ffed"/><stop offset="0.750" stop-color="#d1ff2d"/><stop offset="0.786" stop-color="#82ff7c"/><stop offset="0.821" stop-color="#7dff81"/><stop offset="0.857" stop-color="#9eff60"/><stop offset="0.893" stop-color="#a5ff59"/><stop offset="0.929" stop-color="#8fff6f"/><stop offset="0.964" stop-color="#45ffb9"/><stop offset="1.000" stop-color="#7fff7f"/></linearGradient>
<linearGradient id="h43" x1="0" y1="0" x2="0" y2="1"><stop offset="0.000" stop-color="#ceff30"/><stop offset="0.036" stop-color="#f5ff09"/><stop offset="0.071" stop-color="#d4ff2a"/><stop offset="0.107" stop-color="#82ff7c"/><stop offset="0.143" stop-color="#90ff6e"/><stop offset="0.179" stop-color="#cfff2f"/><stop offset="0.214" stop-color="#f4ff0a"/><stop offset="0.250" stop-color="#a9ff55"/><stop offset="0.286" stop-color="#c2ff3c"/><stop offset="0.321" stop-color="#d9ff25"/><stop offset="0.357" stop-color="#fff400"/><stop offset="0.393" stop-color="#fffb00"/><stop offset="0.429" stop-color="#f3ff0b"/><stop offset="0.464" stop-color="#d7ff27"/><stop offset="0.500" stop-color="#ecff12"/><stop offset="0.536" stop-color="#fff800"/><stop offset="0.571" stop-color="#e6ff18"/><stop offset="0.607" stop-color="#d1ff2d"/><stop offset="0.643" stop-color="#ffd900"/><stop offset="0.679" stop-color="#fbff03"/><stop offset="0.714" stop-color="#c4ff3a"/><stop offset="0.750" stop-color="#ecff12"/><stop offset="0.786" stop-color="#a8ff56"/><stop offset="0.821" stop-color="#8dff71"/><stop offset="0.857" stop-color="#dcff22"/><stop offset="0.893" stop-color="#daff24"/><stop offset="0.929" stop-color="#fcff02"/><stop offset="0.964" stop-color="#fff000"/><stop offset="1.000" stop-color="#ceff30"/></linearGradient>
<linearGradient id="h44" x1="0" y1="0" x2="0" y2="1"><stop offset="0.000" stop-color="#ff6300"/><stop offset="0.036" stop-color="#ff5000"/><stop offset="0.071" stop-color="#ff4500"/><stop offset="0.107" stop-color="#ff4f00"/><stop offset="0.143" stop-color="#ff8c00"/><stop offset="0.179" stop-color="#ff6100"/><stop offset="0.214" stop-color="#ff5800"/><stop offset="0.250" stop-color="#ff3d00"/><stop offset="0.286" stop-color="#ff7800"/><stop offset="0.321" stop-color="#ff5b00"/><stop offset="0.357" stop-color="#ff6000"/><stop offset="0.393" stop-color="#ff6d00"/><stop offset="0.429" stop-color="#ff6b00"/><stop offset="0.464" stop-color="#ff6a00"/><stop offset="0.500" stop-color="#ff9d00"/><stop offset="0.536" stop-color="#ff9000"/><stop offset="0.571" stop-color="#ff8600"/><stop offset="0.607" stop-color="#ff5600"/><stop offset="0.643" stop-color="#ff5b00"/><stop offset="0.679" stop-color="#ff1500"/><stop offset="0.714" stop-color="#ff1800"/><stop offset="0.750" stop-color="#ff2600"/><stop offset="0.786" stop-color="#ff3200"/><stop offset="0.821" stop-color="#ff8300"/><stop offset="0.857" stop-color="#ff5a00"/><stop offset="0.893" stop-color="#ff1c00"/><stop offset="0.929" stop-color="#ff6500"/><stop offset="0.964" stop-color="#ff1f00"/><stop offset="1.000" stop-color="#ff1c00"/></linearGradient>
<linearGradient id="h45" x1="0" y1="0" x2="0" y2="1"><stop offset="0.000" stop-color="#ff9200"/><stop offset="0.036" stop-color="#ff8800"/><stop offset="0.071" stop-color="#ffa700"/><stop offset="0.107" stop-color="#ff9400"/><stop offset="0.143" stop-color="#ff8700"/><stop offset="0.179" stop-color="#ff8000"/><stop offset="0.214" stop-color="#ffb700"/><stop offset="0.250" stop-color="#ff7100"/><stop offset="0.286" stop-color="#ff9600"/><stop offset="0.321" stop-color="#ff7800"/><stop offset="0.357" stop-color="#ff6100"/><stop offset="0.393" stop-color="#ff7900"/><stop offset="0.429" stop-color="#ff0c00"/><stop offset="0.464" stop-color="#ff4000"/><stop offset="0.500" stop-color="#ff4c00"/><stop offset="0.536" stop-color="#ff7100"/><stop offset="0.571" stop-color="#ff6900"/><stop offset="0.607" stop-color="#ffae00"/><stop offset="0.643" stop-color="#ff7900"/><stop offset="0.679" stop-color="#ff8d00"/><stop offset="0.714" stop-color="#ff9d00"/><stop offset="0.750" stop-color="#ff6b00"/><stop offset="0.786" stop-color="#ff4c00"/><stop offset="0.821" stop-color="#ff7900"/><stop offset="0.857" stop-color="#ffab00"/><stop offset="0.893" stop-color="#fff100"/><stop offset="0.929" stop-color="#ffe500"/><stop offset="0.964" stop-color="#ff9c00"/><stop offset="1.000" stop-color="#ff7000"/></linearGradient>
<linearGradient id="h46" x1="0" y1="0" x2="0" y2="1"><stop offset="0.000" stop-color="#8cff72"/><stop offset="0.036" stop-color="#bbff43"/><stop offset="0.071" stop-color="#80ff7e"/><stop offset="0.107" stop-color="#6cff92"/><stop offset="0.143" stop-color="#52ffac"/><stop offset="0.179" stop-color="#81ff7d"/><stop offset="0.214" stop-color="#2fffcf"/><stop offset="0.250" stop-color="#57ffa7"/><stop offset="0.286" stop-color="#86ff78"/><stop offset="0.321" stop-color="#86ff78"/><stop offset="0.357" stop-color="#b4ff4a"/><stop offset="0.393" stop-color="#bbff43"/><stop offset="0.429" stop-color="#8bff73"/><stop offset="0.464" stop-color="#5dffa1"/><stop offset="0.500" stop-color="#43ffbb"/><stop offset="0.536" stop-color="#7dff81"/><stop offset="0.571" stop-color="#7dff81"/><stop offset="0.607" stop-color="#89ff75"/><stop offset="0.643" stop-color="#60ff9e"/><stop offset="0.679" stop-color="#aaff54"/><stop offset="0.714" stop-color="#c2ff3c"/><stop offset="0.750" stop-color="#c8ff36"/><stop offset="0.786" stop-color="#76ff88"/><stop offset="0.821" stop-color="#f7ff07"/><stop offset="0.857" stop-color="#e7ff17"/><stop offset="0.893" stop-color="#87ff77"/><stop offset="0.929" stop-color="#b5ff49"/><stop offset="0.964" stop-color="#9aff64"/><stop offset="1.000" stop-color="#6eff90"/></linearGradient>
<linearGradient id="h47" x1="0" y1="0" x2="0" y2="1"><stop offset="0.000" stop-color="#e1ff1d"/><stop offset="0.036" stop-color="#e4ff1a"/><stop offset="0.071" stop-color="#e1ff1d"/><stop offset="0.107" stop-color="#ccff32"/><stop offset="0.143" stop-color="#9cff62"/><stop offset="0.179" stop-color="#bfff3f"/><stop offset="0.214" stop-color="#b8ff46"/><stop offset="0.250" stop-color="#b8ff46"/><stop offset="0.286" stop-color="#ddff21"/><stop offset="0.321" stop-color="#ffdc00"/><stop offset="0.357" stop-color="#d9ff25"/><stop offset="0.393" stop-color="#feff00"/><stop offset="0.429" stop-color="#c3ff3b"/><stop offset="0.464" stop-color="#edff11"/><stop offset="0.500" stop-color="#f9ff05"/><stop offset="0.536" stop-color="#e3ff1b"/><stop offset="0.571" stop-color="#e2ff1c"/><stop offset="0.607" stop-color="#b3ff4b"/><stop offset="0.643" stop-color="#afff4f"/><stop offset="0.679" stop-color="#e8ff16"/><stop offset="0.714" stop-color="#fcff02"/><stop offset="0.750" stop-color="#ffb300"/><stop offset="0.786" stop-color="#dcff22"/><stop offset="0.821" stop-color="#beff40"/><stop offset="0.857" stop-color="#c9ff35"/><stop offset="0.893" stop-color="#ccff32"/><stop offset="0.929" stop-color="#b5ff49"/><stop offset="0.964" stop-color="#adff51"/><stop offset="1.000" stop-color="#b7ff47"/></linearGradient>
<linearGradient id="h48" x1="0" y1="0" x2="0" y2="1"><stop offset="0.000" stop-color="#ff0f00"/><stop offset="0.036" stop-color="#ff2f00"/><stop offset="0.071" stop-color="#ff0e00"/><stop offset="0.107" stop-color="#ff8300"/><stop offset="0.143" stop-color="#ff6e00"/><stop offset="0.179" stop-color="#ff5900"/><stop offset="0.214" stop-color="#ff2400"/><stop offset="0.250" stop-color="#ff7f00"/><stop offset="0.286" stop-color="#ff4e00"/><stop offset="0.321" stop-color="#ff5d00"/><stop offset="0.357" stop-color="#ff0700"/><stop offset="0.393" stop-color="#e40000"/><stop offset="0.429" stop-color="#ff0c00"/><stop offset="0.464" stop-color="#f50000"/><stop offset="0.500" stop-color="#ff3500"/><stop offset="0.536" stop-color="#ff1600"/><stop offset="0.571" stop-color="#ff0400"/><stop offset="0.607" stop-color="#d60000"/><stop offset="0.643" stop-color="#ff0400"/><stop offset="0.679" stop-color="#ff6900"/><stop offset="0.714" stop-color="#ff1500"/><stop offset="0.750" stop-color="#ff4100"/><stop offset="0.786" stop-color="#ff3e00"/><stop offset="0.821" stop-color="#ff3500"/><stop offset="0.857" stop-color="#d30000"/><stop offset="0.893" stop-color="#f00000"/><stop offset="0.929" stop-color="#c80000"/><stop offset="0.964" stop-color="#e60000"/><stop offset="1.000" stop-color="#ff3800"/></linearGradient>
<linearGradient id="h49" x1="0" y1="0" x2="0" y2="1"><stop offset="0.000" stop-color="#ff7500"/><stop offset="0.036" stop-color="#ff9b00"/><stop offset="0.071" stop-color="#ffda00"/><stop offset="0.107" stop-color="#ff3300"/><stop offset="0.143" stop-color="#fe0000"/><stop offset="0.179" stop-color="#ff3300"/><stop offset="0.214" stop-color="#ff4b00"/><stop offset="0.250" stop-color="#ff4100"/><stop offset="0.286" stop-color="#ff4c00"/><stop offset="0.321" stop-color="#ffaf00"/><stop offset="0.357" stop-color="#ffdd00"/><stop offset="0.393" stop-color="#ff8f00"/><stop offset="0.429" stop-color="#ff5000"/><stop offset="0.464" stop-color="#ff3e00"/><stop offset="0.500" stop-color="#ff4000"/><stop offset="0.536" stop-color="#ff6700"/><stop offset="0.571" stop-color="#ff4e00"/><stop offset="0.607" stop-color="#ff2700"/><stop offset="0.643" stop-color="#ff4200"/><stop offset="0.679" stop-color="#ff2e00"/><stop offset="0.714" stop-color="#ff2700"/><stop offset="0.750" stop-color="#ff7a00"/><stop offset="0.786" stop-color="#ff4e00"/><stop offset="0.821" stop-color="#ff9000"/><stop offset="0.857" stop-color="#ffb800"/><stop offset="0.893" stop-color="#ff5900"/><stop offset="0.929" stop-color="#ffbd00"/><stop offset="0.964" stop-color="#ffad00"/><stop offset="1.000" stop-color="#ff7400"/></linearGradient>
<linearGradient id="h50" x1="0" y1="0" x2="0" y2="1"><stop offset="0.000" stop-color="#ffaf00"/><stop offset="0.036" stop-color="#ffd100"/><stop offset="0.071" stop-color="#ffa000"/><stop offset="0.107" stop-color="#ff8700"/><stop offset="0.143" stop-color="#ff9600"/><stop offset="0.179" stop-color="#ffc600"/><stop offset="0.214" stop-color="#fff200"/><stop offset="0.250" stop-color="#ffc800"/><stop offset="0.286" stop-color="#ffb500"/><stop offset="0.321" stop-color="#ff8400"/><stop offset="0.357" stop-color="#ff9f00"/><stop offset="0.393" stop-color="#ff7500"/><stop offset="0.429" stop-color="#ffc000"/><stop offset="0.464" stop-color="#fffd00"/><stop offset="0.500" stop-color="#ffa300"/><stop offset="0.536" stop-color="#ffb300"/><stop offset="0.571" stop-color="#ffce00"/><stop offset="0.607" stop-color="#ffbc00"/><stop offset="0.643" stop-color="#ffe400"/><stop offset="0.679" stop-color="#ffd000"/><stop offset="0.714" stop-color="#fff500"/><stop offset="0.750" stop-color="#ffc200"/><stop offset="0.786" stop-color="#ffca00"/><stop offset="0.821" stop-color="#ffb600"/><stop offset="0.857" stop-color="#ffaa00"/><stop offset="0.893" stop-color="#ff8f00"/><stop offset="0.929" stop-color="#ffe400"/><stop offset="0.964" stop-color="#ffba00"/><stop offset="1.000" stop-color="#ffb700"/></linearGradient>
<linearGradient id="h51" x1="0" y1="0" x2="0" y2="1"><stop offset="0.000" stop-color="#69ff95"/><stop offset="0.036" stop-color="#86ff78"/><stop offset="0.071" stop-color="#93ff6b"/><stop offset="0.107" stop-color="#deff20"/><stop offset="0.143" stop-color="#9bff63"/><stop offset="0.179" stop-color="#8eff70"/><stop offset="0.214" stop-color="#d9ff25"/><stop offset="0.250" stop-color="#8cff72"/><stop offset="0.286" stop-color="#5bffa3"/><stop offset="0.321" stop-color="#53ffab"/><stop offset="0.357" stop-color="#4affb4"/><stop offset="0.393" stop-color="#5effa0"/><stop offset="0.429" stop-color="#70ff8e"/><stop offset="0.464" stop-color="#51ffad"/><stop offset="0.500" stop-color="#30ffce"/><stop offset="0.536" stop-color="#50ffae"/><stop offset="0.571" stop-color="#2bffd3"/><stop offset="0.607" stop-color="#2cffd2"/><stop offset="0.643" stop-color="#60ff9e"/><stop offset="0.679" stop-color="#66ff98"/><stop offset="0.714" stop-color="#41ffbd"/><stop offset="0.750" stop-color="#1bffe3"/><stop offset="0.786" stop-color="#1bffe3"/><stop offset="0.821" stop-color="#05fff9"/><stop offset="0.857" stop-color="#55ffa9"/><stop offset="0.893" stop-color="#87ff77"/><stop offset="0.929" stop-color="#8bff73"/><stop offset="0.964" stop-color="#8eff70"/><stop offset="1.000" stop-color="#6bff93"/></linearGradient>
<linearGradient id="h52" x1="0" y1="0" x2="0" y2="1"><stop offset="0.000" stop-color="#ffc700"/><stop offset="0.036" stop-color="#ffc600"/><stop offset="0.071" stop-color="#ffde00"/><stop offset="0.107" stop-color="#f9ff05"/><stop offset="0.143" stop-color="#ffda00"/><stop offset="0.179" stop-color="#ffc100"/><stop offset="0.214" stop-color="#fff700"/><stop offset="0.250" stop-color="#ffeb00"/><stop offset="0.286" stop-color="#ffdc00"/><stop offset="0.321" stop-color="#ffbc00"/><stop offset="0.357" stop-color="#eeff10"/><stop offset="0.393" stop-color="#d1ff2d"/><stop offset="0.429" stop-color="#c4ff3a"/><stop offset="0.464" stop-color="#c4ff3a"/><stop offset="0.500" stop-color="#cbff33"/><stop offset="0.536" stop-color="#ffd800"/><stop offset="0.571" stop-color="#f8ff06"/><stop offset="0.607" stop-color="#ff8700"/><stop offset="0.643" stop-color="#ff9c00"/><stop offset="0.679" stop-color="#ff9400"/><stop offset="0.714" stop-color="#ffb100"/><stop offset="0.750" stop-color="#ff9700"/><stop offset="0.786" stop-color="#ff9f00"/><stop offset="0.821" stop-color="#ff9000"/><stop offset="0.857" stop-color="#ff9300"/><stop offset="0.893" stop-color="#ff9300"/><stop offset="0.929" stop-color="#ff9d00"/><stop offset="0.964" stop-color="#ff8200"/><stop offset="1.000" stop-color="#ffa500"/></linearGradient>
<linearGradient id="h53" x1="0" y1="0" x2="0" y2="1"><stop offset="0.000" stop-color="#ffeb00"/><stop offset="0.036" stop-color="#d9ff25"/><stop offset="0.071" stop-color="#e4ff1a"/><stop offset="0.107" stop-color="#ffc700"/><stop offset="0.143" stop-color="#e4ff1a"/><stop offset="0.179" stop-color="#cbff33"/><stop offset="0.214" stop-color="#adff51"/><stop offset="0.250" stop-color="#92ff6c"/><stop offset="0.286" stop-color="#ccff32"/><stop offset="0.321" stop-color="#c2ff3c"/><stop offset="0.357" stop-color="#ccff32"/><stop offset="0.393" stop-color="#7fff7f"/><stop offset="0.429" stop-color="#bbff43"/><stop offset="0.464" stop-color="#a3ff5b"/><stop offset="0.500" stop-color="#60ff9e"/><stop offset="0.536" stop-color="#75ff89"/><stop offset="0.571" stop-color="#58ffa6"/><stop offset="0.607" stop-color="#d9ff25"/><stop offset="0.643" stop-color="#86ff78"/><stop offset="0.679" stop-color="#b6ff48"/><stop offset="0.714" stop-color="#92ff6c"/><stop offset="0.750" stop-color="#8aff74"/><stop offset="0.786" stop-color="#71ff8d"/><stop offset="0.821" stop-color="#d4ff2a"/><stop offset="0.857" stop-color="#9eff60"/><stop offset="0.893" stop-color="#98ff66"/><stop offset="0.929" stop-color="#bcff42"/><stop offset="0.964" stop-color="#b3ff4b"/><stop offset="1.000" stop-color="#deff20"/></linearGradient>
<linearGradient id="h54" x1="0" y1="0" x2="0" y2="1"><stop offset="0.000" stop-color="#5fff9f"/><stop offset="0.036" stop-color="#98ff66"/><stop offset="0.071" stop-color="#d6ff28"/><stop offset="0.107" stop-color="#d6ff28"/><stop offset="0.143" stop-color="#9aff64"/><stop offset="0.179" stop-color="#d5ff29"/><stop offset="0.214" stop-color="#e2ff1c"/><stop offset="0.250" stop-color="#b4ff4a"/><stop offset="0.286" stop-color="#c2ff3c"/><stop offset="0.321" stop-color="#b3ff4b"/><stop offset="0.357" stop-color="#b3ff4b"/><stop offset="0.393" stop-color="#caff34"/><stop offset="0.429" stop-color="#e0ff1e"/><stop offset="0.464" stop-color="#c8ff36"/><stop offset="0.500" stop-color="#bbff43"/><stop offset="0.536" stop-color="#42ffbc"/><stop offset="0.571" stop-color="#51ffad"/><stop offset="0.607" stop-color="#91ff6d"/><stop offset="0.643" stop-color="#79ff85"/><stop offset="0.679" stop-color="#a1ff5d"/><stop offset="0.714" stop-color="#9cff62"/><stop offset="0.750" stop-color="#a5ff59"/><stop offset="0.786" stop-color="#abff53"/><stop offset="0.821" stop-color="#e4ff1a"/><stop offset="0.857" stop-color="#ddff21"/><stop offset="0.893" stop-color="#c5ff39"/><stop offset="0.929" stop-color="#81ff7d"/><stop offset="0.964" stop-color="#a5ff59"/><stop offset="1.000" stop-color="#76ff88"/></linearGradient>
<linearGradient id="h55" x1="0" y1="0" x2="0" y2="1"><stop offset="0.000" stop-color="#ff5300"/><stop offset="0.036" stop-color="#ff5f00"/><stop offset="0.071" stop-color="#ff5000"/><stop offset="0.107" stop-color="#ff6f00"/><stop offset="0.143" stop-color="#ff3b00"/><stop offset="0.179" stop-color="#ff2900"/><stop offset="0.214" stop-color="#ff4c00"/><stop offset="0.250" stop-color="#ff5800"/><stop offset="0.286" stop-color="#f30000"/><stop offset="0.321" stop-color="#df0000"/><stop offset="0.357" stop-color="#f00000"/><stop offset="0.393" stop-color="#ff0500"/><stop offset="0.429" stop-color="#d80000"/><stop offset="0.464" stop-color="#ff1800"/><stop offset="0.500" stop-color="#ff3100"/><stop offset="0.536" stop-color="#ff3800"/><stop offset="0.571" stop-color="#ff6500"/><stop offset="0.607" stop-color="#ff7400"/><stop offset="0.643" stop-color="#ff0100"/><stop offset="0.679" stop-color="#ff1300"/><stop offset="0.714" stop-color="#ff4b00"/><stop offset="0.750" stop-color="#ff4a00"/><stop offset="0.786" stop-color="#ff5400"/><stop offset="0.821" stop-color="#ff5700"/><stop offset="0.857" stop-color="#ff4800"/><stop offset="0.893" stop-color="#ff7f00"/><stop offset="0.929" stop-color="#ffaa00"/><stop offset="0.964" stop-color="#ff7800"/><stop offset="1.000" stop-color="#ff6000"/></linearGradient>
<linearGradient id="h56" x1="0" y1="0" x2="0" y2="1"><stop offset="0.000" stop-color="#61ff9d"/><stop offset="0.036" stop-color="#4affb4"/><stop offset="0.071" stop-color="#61ff9d"/><stop offset="0.107" stop-color="#5affa4"/><stop offset="0.143" stop-color="#92ff6c"/><stop offset="0.179" stop-color="#baff44"/><stop offset="0.214" stop-color="#aeff50"/><stop offset="0.250" stop-color="#8bff73"/><stop offset="0.286" stop-color="#9fff5f"/><stop offset="0.321" stop-color="#a3ff5b"/><stop offset="0.357" stop-color="#9aff64"/><stop offset="0.393" stop-color="#a3ff5b"/><stop offset="0.429" stop-color="#74ff8a"/><stop offset="0.464" stop-color="#90ff6e"/><stop offset="0.500" stop-color="#93ff6b"/><stop offset="0.536" stop-color="#8fff6f"/><stop offset="0.571" stop-color="#73ff8b"/><stop offset="0.607" stop-color="#5bffa3"/><stop offset="0.643" stop-color="#7bff83"/><stop offset="0.679" stop-color="#5affa4"/><stop offset="0.714" stop-color="#31ffcd"/><stop offset="0.750" stop-color="#97ff67"/><stop offset="0.786" stop-color="#b4ff4a"/><stop offset="0.821" stop-color="#6bff93"/><stop offset="0.857" stop-color="#a7ff57"/><stop offset="0.893" stop-color="#2cffd2"/><stop offset="0.929" stop-color="#64ff9a"/><stop offset="0.964" stop-color="#84ff7a"/><stop offset="1.000" stop-color="#81ff7d"/></linearGradient>
<linearGradient id="h57" x1="0" y1="0" x2="0" y2="1"><stop offset="0.000" stop-color="#88ff76"/><stop offset="0.036" stop-color="#8eff70"/><stop offset="0.071" stop-color="#48ffb6"/><stop offset="0.107" stop-color="#37ffc7"/><stop offset="0.143" stop-color="#7bff83"/><stop offset="0.179" stop-color="#92ff6c"/><stop offset="0.214" stop-color="#49ffb5"/><stop offset="0.250" stop-color="#16ffe8"/><stop offset="0.286" stop-color="#52ffac"/><stop offset="0.321" stop-color="#37ffc7"/><stop offset="0.357" stop-color="#2fffcf"/><stop offset="0.393" stop-color="#33ffcb"/><stop offset="0.429" stop-color="#57ffa7"/><stop offset="0.464" stop-color="#05fff9"/><stop offset="0.500" stop-color="#58ffa6"/><stop offset="0.536" stop-color="#4fffaf"/><stop offset="0.571" stop-color="#83ff7b"/><stop offset="0.607" stop-color="#42ffbc"/><stop offset="0.643" stop-color="#2effd0"/><stop offset="0.679" stop-color="#60ff9e"/><stop offset="0.714" stop-color="#8fff6f"/><stop offset="0.750" stop-color="#78ff86"/><stop offset="0.786" stop-color="#61ff9d"/><stop offset="0.821" stop-color="#9fff5f"/><stop offset="0.857" stop-color="#b3ff4b"/><stop offset="0.893" stop-color="#9aff64"/><stop offset="0.929" stop-color="#76ff88"/><stop offset="0.964" stop-color="#a6ff58"/><stop offset="1.000" stop-color="#a5ff59"/></linearGradient>
<linearGradient id="h58" x1="0" y1="0" x2="0" y2="1"><stop offset="0.000" stop-color="#91ff6d"/><stop offset="0.036" stop-color="#a2ff5c"/><stop offset="0.071" stop-color="#84ff7a"/><stop offset="0.107" stop-color="#7fff7f"/><stop offset="0.143" stop-color="#8bff73"/><stop offset="0.179" stop-color="#59ffa5"/><stop offset="0.214" stop-color="#20ffde"/><stop offset="0.250" stop-color="#6dff91"/><stop offset="0.286" stop-color="#17ffe7"/><stop offset="0.321" stop-color="#00f0ff"/><stop offset="0.357" stop-color="#00e1ff"/><stop offset="0.393" stop-color="#30ffce"/><stop offset="0.429" stop-color="#6fff8f"/><stop offset="0.464" stop-color="#43ffbb"/><stop offset="0.500" stop-color="#84ff7a"/><stop offset="0.536" stop-color="#b4ff4a"/><stop offset="0.571" stop-color="#bfff3f"/><stop offset="0.607" stop-color="#4fffaf"/><stop offset="0.643" stop-color="#8aff74"/><stop offset="0.679" stop-color="#d4ff2a"/><stop offset="0.714" stop-color="#6bff93"/><stop offset="0.750" stop-color="#16ffe8"/><stop offset="0.786" stop-color="#6dff91"/><stop offset="0.821" stop-color="#76ff88"/><stop offset="0.857" stop-color="#62ff9c"/><stop offset="0.893" stop-color="#57ffa7"/><stop offset="0.929" stop-color="#08fff6"/><stop offset="0.964" stop-color="#07fff7"/><stop offset="1.000" stop-color="#35ffc9"/></linearGradient>
<linearGradient id="h59" x1="0" y1="0" x2="0" y2="1"><stop offset="0.000" stop-color="#f2ff0c"/><stop offset="0.036" stop-color="#fff500"/><stop offset="0.071" stop-color="#d4ff2a"/><stop offset="0.107" stop-color="#ccff32"/><stop offset="0.143" stop-color="#fff200"/><stop offset="0.179" stop-color="#aeff50"/><stop offset="0.214" stop-color="#d4ff2a"/><stop offset="0.250" stop-color="#a9ff55"/><stop offset="0.286" stop-color="#c3ff3b"/><stop offset="0.321" stop-color="#ffe400"/><stop offset="0.357" stop-color="#fff900"/><stop offset="0.393" stop-color="#d3ff2b"/><stop offset="0.429" stop-color="#b0ff4e"/><stop offset="0.464" stop-color="#7fff7f"/><stop offset="0.500" stop-color="#a4ff5a"/><stop offset="0.536" stop-color="#52ffac"/><stop offset="0.571" stop-color="#8bff73"/><stop offset="0.607" stop-color="#b0ff4e"/><stop offset="0.643" stop-color="#95ff69"/><stop offset="0.679" stop-color="#8dff71"/><stop offset="0.714" stop-color="#e1ff1d"/><stop offset="0.750" stop-color="#fff000"/><stop offset="0.786" stop-color="#ffb600"/><stop offset="0.821" stop-color="#ffc100"/><stop offset="0.857" stop-color="#ffec00"/><stop offset="0.893" stop-color="#e4ff1a"/><stop offset="0.929" stop-color="#ffef00"/><stop offset="0.964" stop-color="#fff200"/><stop offset="1.000" stop-color="#f3ff0b"/></linearGradient>
<linearGradient id="h60" x1="0" y1="0" x2="0" y2="1"><stop offset="0.000" stop-color="#8bff73"/><stop offset="0.036" stop-color="#93ff6b"/><stop offset="0.071" stop-color="#b3ff4b"/><stop offset="0.107" stop-color="#b0ff4e"/><stop offset="0.143" stop-color="#a3ff5b"/><stop offset="0.179" stop-color="#b9ff45"/><stop offset="0.214" stop-color="#f7ff07"/><stop offset="0.250" stop-color="#baff44"/><stop offset="0.286" stop-color="#baff44"/><stop offset="0.321" stop-color="#b2ff4c"/><stop offset="0.357" stop-color="#a7ff57"/><stop offset="0.393" stop-color="#ceff30"/><stop offset="0.429" stop-color="#adff51"/><stop offset="0.464" stop-color="#d2ff2c"/><stop offset="0.500" stop-color="#94ff6a"/><stop offset="0.536" stop-color="#96ff68"/><stop offset="0.571" stop-color="#7bff83"/><stop offset="0.607" stop-color="#91ff6d"/><stop offset="0.643" stop-color="#a6ff58"/><stop offset="0.679" stop-color="#acff52"/><stop offset="0.714" stop-color="#a5ff59"/><stop offset="0.750" stop-color="#93ff6b"/><stop offset="0.786" stop-color="#6eff90"/><stop offset="0.821" stop-color="#99ff65"/><stop offset="0.857" stop-color="#96ff68"/><stop offset="0.893" stop-color="#b6ff48"/><stop offset="0.929" stop-color="#71ff8d"/><stop offset="0.964" stop-color="#7aff84"/><stop offset="1.000" stop-color="#53ffab"/></linearGradient>
<linearGradient id="h61" x1="0" y1="0" x2="0" y2="1"><stop offset="0.000" stop-color="#36ffc8"/><stop offset="0.036" stop-color="#22ffdc"/><stop offset="0.071" stop-color="#51ffad"/><stop offset="0.107" stop-color="#4cffb2"/><stop offset="0.143" stop-color="#54ffaa"/><stop offset="0.179" stop-color="#4dffb1"/><stop offset="0.214" stop-color="#6eff90"/><stop offset="0.250" stop-color="#65ff99"/><stop offset="0.286" stop-color="#61ff9d"/><stop offset="0.321" stop-color="#56ffa8"/><stop offset="0.357" stop-color="#6eff90"/><stop offset="0.393" stop-color="#7fff7f"/><stop offset="0.429" stop-color="#5bffa3"/><stop offset="0.464" stop-color="#6dff91"/><stop offset="0.500" stop-color="#30ffce"/><stop offset="0.536" stop-color="#26ffd8"/><stop offset="0.571" stop-color="#29ffd5"/><stop offset="0.607" stop-color="#25ffd9"/><stop offset="0.643" stop-color="#49ffb5"/><stop offset="0.679" stop-color="#21ffdd"/><stop offset="0.714" stop-color="#08fff6"/><stop offset="0.750" stop-color="#30ffce"/><stop offset="0.786" stop-color="#24ffda"/><stop offset="0.821" stop-color="#3affc4"/><stop offset="0.857" stop-color="#45ffb9"/><stop offset="0.893" stop-color="#35ffc9"/><stop offset="0.929" stop-color="#34ffca"/><stop offset="0.964" stop-color="#5affa4"/><stop offset="1.000" stop-color="#53ffab"/></linearGradient>
<linearGradient id="h62" x1="0" y1="0" x2="0" y2="1"><stop offset="0.000" stop-color="#0000b6"/><stop offset="0.036" stop-color="#0000b2"/><stop offset="0.071" stop-color="#0000ae"/><stop offset="0.107" stop-color="#0000af"/><stop offset="0.143" stop-color="#0000b7"/><stop offset="0.179" stop-color="#0000b8"/><stop offset="0.214" stop-color="#0000be"/><stop offset="0.250" stop-color="#0000bc"/><stop offset="0.286" stop-color="#0000bb"/><stop offset="0.321" stop-color="#0000b5"/><stop offset="0.357" stop-color="#0000ae"/><stop offset="0.393" stop-color="#0000a9"/><stop offset="0.429" stop-color="#0000af"/><stop offset="0.464" stop-color="#0000ad"/><stop offset="0.500" stop-color="#0000ac"/><stop offset="0.536" stop-color="#0000b2"/><stop offset="0.571" stop-color="#0000b4"/><stop offset="0.607" stop-color="#0000af"/><stop offset="0.643" stop-color="#0000b2"/><stop offset="0.679" stop-color="#0000b8"/><stop offset="0.714" stop-color="#0000b9"/><stop offset="0.750" stop-color="#0000b4"/><stop offset="0.786" stop-color="#0000b7"/><stop offset="0.821" stop-color="#0000ae"/><stop offset="0.857" stop-color="#0000af"/><stop offset="0.893" stop-color="#0000b0"/><stop offset="0.929" stop-color="#0000b6"/><stop offset="0.964" stop-color="#0000b0"/><stop offset="1.000" stop-color="#0000ae"/></linearGradient>
<linearGradient id="h63" x1="0" y1="0" x2="0" y2="1"><stop offset="0.000" stop-color="#0000b1"/><stop offset="0.036" stop-color="#0000aa"/><stop offset="0.071" stop-color="#0000ad"/><stop offset="0.107" stop-color="#0000ac"/><stop offset="0.143" stop-color="#0000ac"/><stop offset="0.179" stop-color="#0000a8"/><stop offset="0.214" stop-color="#0000ad"/><stop offset="0.250" stop-color="#0000ae"/><stop offset="0.286" stop-color="#0000b0"/><stop offset="0.321" stop-color="#0000b0"/><stop offset="0.357" stop-color="#0000af"/><stop offset="0.393" stop-color="#0000ab"/><stop offset="0.429" stop-color="#0000ad"/><stop offset="0.464" stop-color="#0000b0"/><stop offset="0.500" stop-color="#0000b0"/><stop offset="0.536" stop-color="#0000b1"/><stop offset="0.571" stop-color="#0000b3"/><stop offset="0.607" stop-color="#0000b2"/><stop offset="0.643" stop-color="#0000af"/><stop offset="0.679" stop-color="#0000ab"/><stop offset="0.714" stop-color="#0000b1"/><stop offset="0.750" stop-color="#0000af"/><stop offset="0.786" stop-color="#0000ae"/><stop offset="0.821" stop-color="#0000ae"/><stop offset="0.857" stop-color="#0000b1"/><stop offset="0.893" stop-color="#0000b3"/><stop offset="0.929" stop-color="#0000ae"/><stop offset="0.964" stop-color="#0000ae"/><stop offset="1.000" stop-color="#0000b2"/></linearGradient>
<linearGradient id="h64" x1="0" y1="0" x2="0" y2="1"><stop offset="0.000" stop-color="#0000ab"/><stop offset="0.036" stop-color="#0000a8"/><stop offset="0.071" stop-color="#0000a4"/><stop offset="0.107" stop-color="#0000a3"/><stop offset="0.143" stop-color="#0000a7"/><stop offset="0.179" stop-color="#0000aa"/><stop offset="0.214" stop-color="#0000a1"/><stop offset="0.250" stop-color="#0000a5"/><stop offset="0.286" stop-color="#0000a7"/><stop offset="0.321" stop-color="#0000a3"/><stop offset="0.357" stop-color="#0000a7"/><stop offset="0.393" stop-color="#0000a6"/><stop offset="0.429" stop-color="#0000ad"/><stop offset="0.464" stop-color="#0000a9"/><stop offset="0.500" stop-color="#0000ae"/><stop offset="0.536" stop-color="#0000a8"/><stop offset="0.571" stop-color="#0000a6"/><stop offset="0.607" stop-color="#0000ae"/><stop offset="0.643" stop-color="#0000a9"/><stop offset="0.679" stop-color="#0000a9"/><stop offset="0.714" stop-color="#0000a4"/><stop offset="0.750" stop-color="#0000a8"/><stop offset="0.786" stop-color="#0000af"/><stop offset="0.821" stop-color="#0000ac"/><stop offset="0.857" stop-color="#0000aa"/><stop offset="0.893" stop-color="#0000ab"/><stop offset="0.929" stop-color="#0000a8"/><stop offset="0.964" stop-color="#0000a5"/><stop offset="1.000" stop-color="#0000a8"/></linearGradient>
</defs>
<rect x="366.0" y="327.0" width="1.05" height="109.0" fill="url(#h11)"/><rect x="367.0" y="327.0" width="1.05" height="109.0" fill="url(#h12)"/><rect x="368.0" y="327.0" width="1.05" height="109.0" fill="url(#h13)"/><rect x="369.0" y="327.0" width="1.05" height="109.0" fill="url(#h14)"/><rect x="370.0" y="327.0" width="1.05" height="109.0" fill="url(#h15)"/><rect x="371.0" y="327.0" width="1.05" height="109.0" fill="url(#h16)"/><rect x="372.0" y="327.0" width="1.05" height="109.0" fill="url(#h17)"/><rect x="373.0" y="327.0" width="1.05" height="109.0" fill="url(#h18)"/><rect x="374.0" y="327.0" width="1.05" height="109.0" fill="url(#h19)"/><rect x="375.0" y="327.0" width="1.05" height="109.0" fill="url(#h20)"/><rect x="376.0" y="327.0" width="1.05" height="109.0" fill="url(#h21)"/><rect x="377.0" y="327.0" width="1.05" height="109.0" fill="url(#h22)"/><rect x="378.0" y="327.0" width="1.05" height="109.0" fill="url(#h23)"/><rect x="379.0" y="327.0" width="1.05" height="109.0" fill="url(#h24)"/><rect x="380.0" y="327.0" width="1.05" height="109.0" fill="url(#h25)"/><rect x="381.0" y="327.0" width="1.05" height="109.0" fill="url(#h26)"/><rect x="382.0" y="327.0" width="1.05" height="109.0" fill="url(#h27)"/><rect x="383.0" y="327.0" width="1.05" height="109.0" fill="url(#h28)"/><rect x="384.0" y="327.0" width="1.05" height="109.0" fill="url(#h29)"/><rect x="385.0" y="327.0" width="1.05" height="109.0" fill="url(#h30)"/><rect x="386.0" y="327.0" width="1.05" height="109.0" fill="url(#h31)"/><rect x="387.0" y="327.0" width="1.05" height="109.0" fill="url(#h32)"/><rect x="388.0" y="327.0" width="1.05" height="109.0" fill="url(#h33)"/><rect x="389.0" y="327.0" width="1.05" height="109.0" fill="url(#h34)"/><rect x="390.0" y="327.0" width="1.05" height="109.0" fill="url(#h35)"/><rect x="391.0" y="327.0" width="1.05" height="109.0" fill="url(#h36)"/><rect x="392.0" y="327.0" width="1.05" height="109.0" fill="url(#h37)"/><rect x="393.0" y="327.0" width="1.05" height="109.0" fill="url(#h38)"/><rect x="394.0" y="327.0" width="1.05" height="109.0" fill="url(#h39)"/><rect x="395.0" y="327.0" width="1.05" height="109.0" fill="url(#h40)"/><rect x="396.0" y="327.0" width="1.05" height="109.0" fill="url(#h41)"/><rect x="397.0" y="327.0" width="1.05" height="109.0" fill="url(#h42)"/><rect x="398.0" y="327.0" width="1.05" height="109.0" fill="url(#h43)"/><rect x="399.0" y="327.0" width="1.05" height="109.0" fill="url(#h44)"/><rect x="400.0" y="327.0" width="1.05" height="109.0" fill="url(#h45)"/><rect x="401.0" y="327.0" width="1.05" height="109.0" fill="url(#h46)"/><rect x="402.0" y="327.0" width="1.05" height="109.0" fill="url(#h47)"/><rect x="403.0" y="327.0" width="1.05" height="109.0" fill="url(#h48)"/><rect x="404.0" y="327.0" width="1.05" height="109.0" fill="url(#h49)"/><rect x="405.0" y="327.0" width="1.05" height="109.0" fill="url(#h50)"/><rect x="406.0" y="327.0" width="1.05" height="109.0" fill="url(#h51)"/><rect x="407.0" y="327.0" width="1.05" height="109.0" fill="url(#h52)"/><rect x="408.0" y="327.0" width="1.05" height="109.0" fill="url(#h53)"/><rect x="409.0" y="327.0" width="1.05" height="109.0" fill="url(#h54)"/><rect x="410.0" y="327.0" width="1.05" height="109.0" fill="url(#h55)"/><rect x="411.0" y="327.0" width="1.05" height="109.0" fill="url(#h56)"/><rect x="412.0" y="327.0" width="1.05" height="109.0" fill="url(#h57)"/><rect x="413.0" y="327.0" width="1.05" height="109.0" fill="url(#h58)"/><rect x="414.0" y="327.0" width="1.05" height="109.0" fill="url(#h59)"/><rect x="415.0" y="327.0" width="1.05" height="109.0" fill="url(#h60)"/><rect x="416.0" y="327.0" width="1.05" height="109.0" fill="url(#h61)"/><rect x="417.0" y="327.0" width="1.05" height="109.0" fill="url(#h62)"/><rect x="418.0" y="327.0" width="1.05" height="109.0" fill="url(#h63)"/><rect x="419.0" y="327.0" width="1.05" height="109.0" fill="url(#h64)"/>
<defs><linearGradient id="gCB" x1="0" y1="0" x2="0" y2="1"><stop offset="0.0000" stop-color="#7f0000"/><stop offset="0.0625" stop-color="#bc0000"/><stop offset="0.1250" stop-color="#f90000"/><stop offset="0.1875" stop-color="#ff3800"/><stop offset="0.2500" stop-color="#ff7500"/><stop offset="0.3125" stop-color="#ffb200"/><stop offset="0.3750" stop-color="#ffef00"/><stop offset="0.4375" stop-color="#d1ff2d"/><stop offset="0.5000" stop-color="#93ff6b"/><stop offset="0.5625" stop-color="#56ffa8"/><stop offset="0.6250" stop-color="#19ffe5"/><stop offset="0.6875" stop-color="#00dbff"/><stop offset="0.7500" stop-color="#009eff"/><stop offset="0.8125" stop-color="#0060ff"/><stop offset="0.8750" stop-color="#0023ff"/><stop offset="0.9375" stop-color="#0000e5"/><stop offset="1.0000" stop-color="#0000a8"/></linearGradient></defs>
<rect x="433.0" y="326.5" width="12.0" height="109.0" fill="url(#gCB)"/>
<text x="446.3" y="338.59999999999997" font-size="6.6" text-anchor="start" fill="#222" font-weight="normal" stroke="#222" stroke-width="0.1" textLength="9.2" lengthAdjust="spacingAndGlyphs" >-70</text>
<text x="446.3" y="361.4" font-size="6.6" text-anchor="start" fill="#222" font-weight="normal" stroke="#222" stroke-width="0.1" textLength="9.2" lengthAdjust="spacingAndGlyphs" >-75</text>
<text x="446.3" y="384.0" font-size="6.6" text-anchor="start" fill="#222" font-weight="normal" stroke="#222" stroke-width="0.1" textLength="9.2" lengthAdjust="spacingAndGlyphs" >-80</text>
<text x="446.3" y="406.3" font-size="6.6" text-anchor="start" fill="#222" font-weight="normal" stroke="#222" stroke-width="0.1" textLength="9.2" lengthAdjust="spacingAndGlyphs" >-85</text>
<text x="446.3" y="428.9" font-size="6.6" text-anchor="start" fill="#222" font-weight="normal" stroke="#222" stroke-width="0.1" textLength="9.2" lengthAdjust="spacingAndGlyphs" >-90</text>
<text x="0" y="0" font-size="6.6" fill="#222" textLength="47.6" lengthAdjust="spacingAndGlyphs" transform="translate(461.3,402.2) rotate(-90)">Reflectance (dB)</text>
<text x="353.8" y="356.1" font-size="6.4" text-anchor="end" fill="#222" font-weight="normal" stroke="#222" stroke-width="0.1" >5</text>
<text x="353.8" y="383.3" font-size="6.4" text-anchor="end" fill="#222" font-weight="normal" stroke="#222" stroke-width="0.1" >10</text>
<text x="353.8" y="410.7" font-size="6.4" text-anchor="end" fill="#222" font-weight="normal" stroke="#222" stroke-width="0.1" >15</text>
<text x="353.8" y="437.5" font-size="6.4" text-anchor="end" fill="#222" font-weight="normal" stroke="#222" stroke-width="0.1" >20</text>
<text x="0" y="0" font-size="6.6" fill="#222" font-weight="bold" textLength="30.9" lengthAdjust="spacingAndGlyphs" transform="translate(344.8,397.7) rotate(-90)">Time (sec)</text>
<text x="397.4" y="449.4" font-size="8.8" fill="#222" stroke="#222" stroke-width="0.3" textLength="9.8" lengthAdjust="spacingAndGlyphs">(a)</text>
<text x="535.3" y="449" font-size="8.8" fill="#222" stroke="#222" stroke-width="0.35" textLength="10.5" lengthAdjust="spacingAndGlyphs">(b)</text>
<path d="M495.3,406.02H595.8M495.3,386.14H595.8M495.3,366.26H595.8M495.3,346.38H595.8M510.43,326.5V425.9M560.68,326.5V425.9" stroke="#b8b8f0" stroke-width="0.7" fill="none"/>
<rect x="495.3" y="326.5" width="100.49999999999994" height="99.39999999999998" fill="none" stroke="#9a9ae8" stroke-width="0.8"/>
<path d="M495.3,419.92h1.2M595.8,419.92h-1.2M495.3,416.41h1.2M595.8,416.41h-1.2M495.3,413.93h1.2M595.8,413.93h-1.2M495.3,412.00h1.2M595.8,412.00h-1.2M495.3,410.43h1.2M595.8,410.43h-1.2M495.3,409.10h1.2M595.8,409.10h-1.2M495.3,407.95h1.2M595.8,407.95h-1.2M495.3,406.93h1.2M595.8,406.93h-1.2M495.3,400.04h1.2M595.8,400.04h-1.2M495.3,396.53h1.2M595.8,396.53h-1.2M495.3,394.05h1.2M595.8,394.05h-1.2M495.3,392.12h1.2M595.8,392.12h-1.2M495.3,390.55h1.2M595.8,390.55h-1.2M495.3,389.22h1.2M595.8,389.22h-1.2M495.3,388.07h1.2M595.8,388.07h-1.2M495.3,387.05h1.2M595.8,387.05h-1.2M495.3,380.16h1.2M595.8,380.16h-1.2M495.3,376.65h1.2M595.8,376.65h-1.2M495.3,374.17h1.2M595.8,374.17h-1.2M495.3,372.24h1.2M595.8,372.24h-1.2M495.3,370.67h1.2M595.8,370.67h-1.2M495.3,369.34h1.2M595.8,369.34h-1.2M495.3,368.19h1.2M595.8,368.19h-1.2M495.3,367.17h1.2M595.8,367.17h-1.2M495.3,360.28h1.2M595.8,360.28h-1.2M495.3,356.77h1.2M595.8,356.77h-1.2M495.3,354.29h1.2M595.8,354.29h-1.2M495.3,352.36h1.2M595.8,352.36h-1.2M495.3,350.79h1.2M595.8,350.79h-1.2M495.3,349.46h1.2M595.8,349.46h-1.2M495.3,348.31h1.2M595.8,348.31h-1.2M495.3,347.29h1.2M595.8,347.29h-1.2M495.3,340.40h1.2M595.8,340.40h-1.2M495.3,336.89h1.2M595.8,336.89h-1.2M495.3,334.41h1.2M595.8,334.41h-1.2M495.3,332.48h1.2M595.8,332.48h-1.2M495.3,330.91h1.2M595.8,330.91h-1.2M495.3,329.58h1.2M595.8,329.58h-1.2M495.3,328.43h1.2M595.8,328.43h-1.2M495.3,327.41h1.2M595.8,327.41h-1.2M495.30,425.9v-1.2M495.30,326.5v1.2M499.28,425.9v-1.2M499.28,326.5v1.2M502.64,425.9v-1.2M502.64,326.5v1.2M505.56,425.9v-1.2M505.56,326.5v1.2M508.13,425.9v-1.2M508.13,326.5v1.2M510.43,425.9v-1.2M510.43,326.5v1.2M525.55,425.9v-1.2M525.55,326.5v1.2M534.40,425.9v-1.2M534.40,326.5v1.2M540.68,425.9v-1.2M540.68,326.5v1.2M545.55,425.9v-1.2M545.55,326.5v1.2M549.53,425.9v-1.2M549.53,326.5v1.2M552.89,425.9v-1.2M552.89,326.5v1.2M555.81,425.9v-1.2M555.81,326.5v1.2M558.38,425.9v-1.2M558.38,326.5v1.2M560.68,425.9v-1.2M560.68,326.5v1.2M575.80,425.9v-1.2M575.80,326.5v1.2M584.65,425.9v-1.2M584.65,326.5v1.2M590.93,425.9v-1.2M590.93,326.5v1.2M595.80,425.9v-1.2M595.80,326.5v1.2" stroke="#6a6ae0" stroke-width="0.5" fill="none"/>
<rect x="525.5" y="326.8" width="67.5" height="18.1" fill="#fff" stroke="#a0a0a0" stroke-width="0.7"/>
<circle cx="532.7" cy="332.6" r="0.7" fill="#e02020"/><circle cx="532.7" cy="339.8" r="0.7" fill="#2020e0"/>
<text x="538.4" y="335.1" font-size="7" text-anchor="start" fill="#e8262a" font-weight="normal" stroke="#e8262a" stroke-width="0.1" textLength="50.6" lengthAdjust="spacingAndGlyphs" >Proliferating shell</text>
<text x="538.4" y="342.3" font-size="7" text-anchor="start" fill="#2a2ae0" font-weight="normal" stroke="#2a2ae0" stroke-width="0.1" textLength="39" lengthAdjust="spacingAndGlyphs" >Necrotic core</text>
<path d="M495.5,348.5L587.3,399.7M495.5,348.5L581.6,406.9" stroke="#111" stroke-width="0.8" fill="none"/>
<path d="M552.00,386.70C552.67,387.15 554.57,388.50 556.00,389.40C557.43,390.30 558.70,390.98 560.60,392.10C562.50,393.22 564.93,394.77 567.40,396.10C569.87,397.43 572.75,398.97 575.40,400.10C578.05,401.23 581.03,402.25 583.30,402.90C585.57,403.55 586.97,403.72 589.00,404.00C591.03,404.28 594.42,404.50 595.50,404.60" stroke="#ee2020" stroke-width="1.7" fill="none"/>
<circle cx="500.0" cy="351.6" r="0.5" fill="#e02020"/><circle cx="504.4" cy="354.6" r="0.5" fill="#e02020"/><circle cx="508.8" cy="357.6" r="0.5" fill="#e02020"/><circle cx="513.2" cy="360.6" r="0.5" fill="#e02020"/><circle cx="517.6" cy="363.6" r="0.5" fill="#e02020"/><circle cx="522.0" cy="366.6" r="0.5" fill="#e02020"/><circle cx="526.4" cy="369.6" r="0.5" fill="#e02020"/><circle cx="530.8" cy="372.6" r="0.5" fill="#e02020"/><circle cx="535.2" cy="375.6" r="0.5" fill="#e02020"/><circle cx="539.6" cy="378.6" r="0.5" fill="#e02020"/><circle cx="544.0" cy="381.6" r="0.5" fill="#e02020"/><circle cx="548.4" cy="384.6" r="0.5" fill="#e02020"/>
<path d="M558.00,401.20C558.33,401.38 558.62,401.63 560.00,402.30C561.38,402.97 564.12,404.15 566.30,405.20C568.48,406.25 570.82,407.57 573.10,408.60C575.38,409.63 577.73,410.55 580.00,411.40C582.27,412.25 584.12,413.12 586.70,413.70C589.28,414.28 594.03,414.70 595.50,414.90" stroke="#2030e0" stroke-width="1.5" fill="none"/>
<circle cx="519.4" cy="372.4" r="0.6" fill="#2a2ae8"/><circle cx="525.8" cy="378.3" r="0.6" fill="#2a2ae8"/><circle cx="531.1" cy="381.9" r="0.6" fill="#2a2ae8"/><circle cx="534.5" cy="384.7" r="0.6" fill="#2a2ae8"/><circle cx="537.4" cy="387" r="0.6" fill="#2a2ae8"/><circle cx="540.8" cy="389.3" r="0.6" fill="#2a2ae8"/><circle cx="543.6" cy="391" r="0.6" fill="#2a2ae8"/><circle cx="547" cy="393.3" r="0.6" fill="#2a2ae8"/><circle cx="550.4" cy="395.5" r="0.6" fill="#2a2ae8"/><circle cx="553.3" cy="397.8" r="0.6" fill="#2a2ae8"/><circle cx="556.1" cy="400.1" r="0.6" fill="#2a2ae8"/>
<path d="M510.6,351.6V412.6M560.5,377.4V425.9" stroke="#222" stroke-width="0.8"/>
<path d="M495.8,393.4H510.2" stroke="#222" stroke-width="0.7"/><path d="M510.2,393.4l-3,-1.2v2.4z" fill="#222"/><path d="M495.8,393.4l3,-1.2v2.4z" fill="#222"/>
<path d="M511.2,408.4H560.2" stroke="#222" stroke-width="0.7"/><path d="M560.2,408.4l-3,-1.2v2.4z" fill="#222"/><path d="M511.2,408.4l3,-1.2v2.4z" fill="#222"/>
<path d="M561,418.3H595.5" stroke="#222" stroke-width="0.7"/><path d="M595.5,418.3l-3,-1.2v2.4z" fill="#222"/><path d="M561,418.3l3,-1.2v2.4z" fill="#222"/>
<path d="M534,370.6H548.2" stroke="#222" stroke-width="0.7"/><path d="M548.2,370.6l-3,-1.2v2.4z" fill="#222"/>
<path d="M549,383.8H569.4" stroke="#222" stroke-width="0.7"/><path d="M569.4,383.8l-3,-1.2v2.4z" fill="#222"/>
<text x="498.7" y="401.6" font-size="6.8" text-anchor="start" fill="#222" font-weight="normal" stroke="#222" stroke-width="0.1" textLength="7.9" lengthAdjust="spacingAndGlyphs" >B1</text>
<text x="532.5" y="416.2" font-size="6.8" text-anchor="start" fill="#222" font-weight="normal" stroke="#222" stroke-width="0.1" textLength="8.0" lengthAdjust="spacingAndGlyphs" >B2</text>
<text x="574.7" y="425.4" font-size="6.8" text-anchor="start" fill="#222" font-weight="normal" stroke="#222" stroke-width="0.1" textLength="8.0" lengthAdjust="spacingAndGlyphs" >B3</text>
<text x="549" y="372.8" font-size="6.8" text-anchor="start" fill="#222" font-weight="normal" stroke="#222" stroke-width="0.1" textLength="19.8" lengthAdjust="spacingAndGlyphs" >n = 1.4</text>
<text x="570.3" y="386.2" font-size="6.8" text-anchor="start" fill="#222" font-weight="normal" stroke="#222" stroke-width="0.1" textLength="20.5" lengthAdjust="spacingAndGlyphs" >n = 1.7</text>
<text x="529" y="360" font-size="6.8" fill="#222" textLength="36" lengthAdjust="spacingAndGlyphs">S(&#969;) = &#916;h/&#969;<tspan dy="-2.5" font-size="4.5">n</tspan></text>
<text x="484.4" y="329.10" font-size="6.6" fill="#222">10</text>
<text x="491.4" y="326.00" font-size="4.8" fill="#222">0</text>
<text x="484.4" y="348.98" font-size="6.6" fill="#222">10</text>
<text x="491.4" y="345.88" font-size="4.8" fill="#222">-1</text>
<text x="484.4" y="368.86" font-size="6.6" fill="#222">10</text>
<text x="491.4" y="365.76" font-size="4.8" fill="#222">-2</text>
<text x="484.4" y="388.74" font-size="6.6" fill="#222">10</text>
<text x="491.4" y="385.64" font-size="4.8" fill="#222">-3</text>
<text x="484.4" y="408.62" font-size="6.6" fill="#222">10</text>
<text x="491.4" y="405.52" font-size="4.8" fill="#222">-4</text>
<text x="484.4" y="428.50" font-size="6.6" fill="#222">10</text>
<text x="491.4" y="425.40" font-size="4.8" fill="#222">-5</text>
<text x="510.42675728211503" y="432.9" font-size="6.6" text-anchor="middle" fill="#222" font-weight="normal" stroke="#222" stroke-width="0.1" >0.1</text>
<text x="560.676757282115" y="432.9" font-size="6.6" text-anchor="middle" fill="#222" font-weight="normal" stroke="#222" stroke-width="0.1" >1</text>
<text x="522.7" y="439.4" font-size="6.4" text-anchor="start" fill="#222" font-weight="normal" stroke="#222" stroke-width="0.1" textLength="45.3" lengthAdjust="spacingAndGlyphs" >Frequency (Hz)</text>
<text x="0" y="0" font-size="6.2" fill="#222" textLength="12" lengthAdjust="spacingAndGlyphs" transform="translate(477.6,384) rotate(-90)">S(&#969;)</text>
</svg>
</body></html>
